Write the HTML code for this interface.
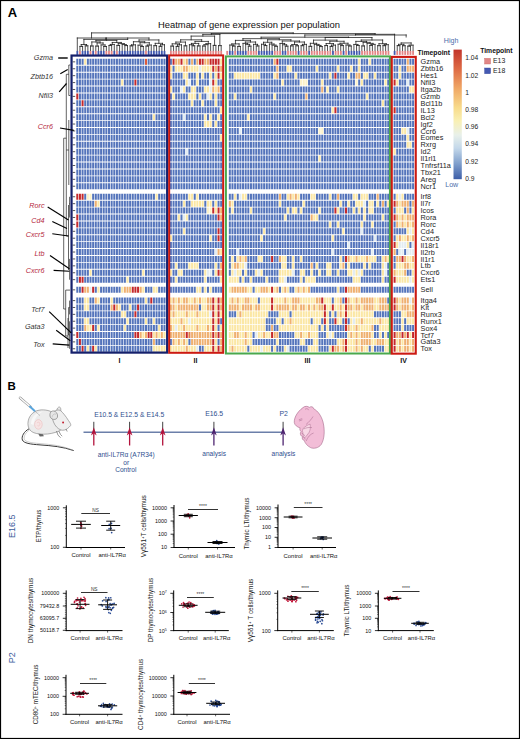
<!DOCTYPE html><html><head><meta charset="utf-8"><style>html,body{margin:0;padding:0;background:#fff;}svg{display:block;}</style></head><body>
<svg width="520" height="739" viewBox="0 0 520 739">
<rect x="0" y="0" width="520" height="739" fill="#fff"/>
<text x="7.7" y="17" font-family='"Liberation Sans", sans-serif' font-size="13" font-weight="bold" fill="#000">A</text>
<text x="158" y="28.0" font-family='"Liberation Sans", sans-serif' font-size="9" fill="#111" textLength="182" lengthAdjust="spacingAndGlyphs">Heatmap of gene expression per population</text>
<text x="119.4" y="363" font-family='"Liberation Sans", sans-serif' font-size="7" font-weight="bold" fill="#111" text-anchor="middle">I</text>
<text x="195.5" y="363" font-family='"Liberation Sans", sans-serif' font-size="7" font-weight="bold" fill="#111" text-anchor="middle">II</text>
<text x="307.5" y="363" font-family='"Liberation Sans", sans-serif' font-size="7" font-weight="bold" fill="#111" text-anchor="middle">III</text>
<text x="403.6" y="363" font-family='"Liberation Sans", sans-serif' font-size="7" font-weight="bold" fill="#111" text-anchor="middle">IV</text>
<g stroke="#1a1a1a" stroke-width="0.75" fill="none" stroke-linecap="square">
<path d="M79.94 50.6V46.42M82.58 50.6V46.42M79.94 46.42H82.58M85.23 50.6V45.82M87.87 50.6V45.82M85.23 45.82H87.87M81.26 46.42V44.51M86.55 45.82V44.51M81.26 44.51H86.55M90.51 50.6V45.99M93.15 50.6V45.99M90.51 45.99H93.15M95.79 50.6V46.08M98.44 50.6V46.08M95.79 46.08H98.44M103.72 50.6V46.49M106.36 50.6V46.49M103.72 46.49H106.36M101.08 50.6V44.92M105.04 46.49V44.92M101.08 44.92H105.04M97.11 46.08V42.96M103.06 44.92V42.96M97.11 42.96H103.06M91.83 45.99V41.96M100.09 42.96V41.96M91.83 41.96H100.09M109 50.6V45.46M111.65 50.6V45.46M109 45.46H111.65M110.32 45.46V44.46M114.29 50.6V44.46M110.32 44.46H114.29M116.93 50.6V45.43M119.57 50.6V45.43M116.93 45.43H119.57M124.86 50.6V45.57M127.5 50.6V45.57M124.86 45.57H127.5M122.21 50.6V44.57M126.18 45.57V44.57M122.21 44.57H126.18M118.25 45.43V43.57M124.2 44.57V43.57M118.25 43.57H124.2M112.31 44.46V42.46M121.22 43.57V42.46M112.31 42.46H121.22M95.96 41.96V40.42M116.76 42.46V40.42M95.96 40.42H116.76M130.14 50.6V45.83M132.78 50.6V45.83M130.14 45.83H132.78M131.46 45.83V44.83M135.42 50.6V44.83M131.46 44.83H135.42M140.71 50.6V46.53M143.35 50.6V46.53M140.71 46.53H143.35M138.07 50.6V45.18M142.03 46.53V45.18M138.07 45.18H142.03M145.99 50.6V46.09M148.63 50.6V46.09M145.99 46.09H148.63M147.31 46.09V45.05M151.28 50.6V45.05M147.31 45.05H151.28M140.05 45.18V42.73M149.29 45.05V42.73M140.05 42.73H149.29M133.44 44.83V41.72M144.67 42.73V41.72M133.44 41.72H144.67M153.92 50.6V45.65M156.56 50.6V45.65M153.92 45.65H156.56M159.2 50.6V46.31M161.84 50.6V46.31M159.2 46.31H161.84M160.52 46.31V44.74M164.49 50.6V44.74M160.52 44.74H164.49M155.24 45.65V43.33M162.5 44.74V43.33M155.24 43.33H162.5M139.06 41.72V39.94M158.87 43.33V39.94M139.06 39.94H158.87M106.36 40.42V38.01M148.96 39.94V38.01M106.36 38.01H148.96M83.91 44.51V39.4M127.66 38.01V39.4M83.91 39.4H127.66M77.3 50.6V38M105.78 39.4V38M77.3 38H105.78M170.9 50.6V46.1M173.55 50.6V46.1M170.9 46.1H173.55M176.19 50.6V46.42M178.84 50.6V46.42M176.19 46.42H178.84M177.52 46.42V44.84M181.49 50.6V44.84M177.52 44.84H181.49M172.22 46.1V43.84M179.5 44.84V43.84M172.22 43.84H179.5M184.13 50.6V45.8M186.78 50.6V45.8M184.13 45.8H186.78M175.86 43.84V42.07M185.46 45.8V42.07M175.86 42.07H185.46M192.08 50.6V45.77M194.72 50.6V45.77M192.08 45.77H194.72M189.43 50.6V44.72M193.4 45.77V44.72M189.43 44.72H193.4M197.37 50.6V45.9M200.02 50.6V45.9M197.37 45.9H200.02M191.41 44.72V43.41M198.69 45.9V43.41M191.41 43.41H198.69M202.66 50.6V46.03M205.31 50.6V46.03M202.66 46.03H205.31M203.99 46.03V44.63M207.96 50.6V44.63M203.99 44.63H207.96M205.97 44.63V43.63M210.61 50.6V43.63M205.97 43.63H210.61M195.05 43.41V41.42M208.29 43.63V41.42M195.05 41.42H208.29M180.66 42.07V39.82M201.67 41.42V39.82M180.66 39.82H201.67M213.25 50.6V45.41M215.9 50.6V45.41M213.25 45.41H215.9M191.17 39.82V36.1M214.58 45.41V36.1M191.17 36.1H214.58M218.55 50.6V45.61M221.19 50.6V45.61M218.55 45.61H221.19M202.87 36.1V34.4M219.87 45.61V34.4M202.87 34.4H219.87M232.48 50.6V46.05M235.12 50.6V46.05M232.48 46.05H235.12M229.84 50.6V45.05M233.8 46.05V45.05M229.84 45.05H233.8M237.76 50.6V46.46M240.4 50.6V46.46M237.76 46.46H240.4M231.82 45.05V43.89M239.08 46.46V43.89M231.82 43.89H239.08M248.32 50.6V46.13M250.96 50.6V46.13M248.32 46.13H250.96M245.68 50.6V44.38M249.64 46.13V44.38M245.68 44.38H249.64M243.04 50.6V43.38M247.66 44.38V43.38M243.04 43.38H247.66M256.24 50.6V45.94M258.88 50.6V45.94M256.24 45.94H258.88M253.6 50.6V44.37M257.56 45.94V44.37M253.6 44.37H257.56M245.35 43.38V42M255.58 44.37V42M245.35 42H255.58M235.45 43.89V40.39M250.46 42V40.39M235.45 40.39H250.46M264.16 50.6V45.54M266.8 50.6V45.54M264.16 45.54H266.8M261.52 50.6V44.28M265.48 45.54V44.28M261.52 44.28H265.48M274.72 50.6V46.32M277.36 50.6V46.32M274.72 46.32H277.36M272.08 50.6V45.15M276.04 46.32V45.15M272.08 45.15H276.04M269.44 50.6V44.02M274.06 45.15V44.02M269.44 44.02H274.06M263.5 44.28V42.28M271.75 44.02V42.28M263.5 42.28H271.75M285.28 50.6V46.16M287.92 50.6V46.16M285.28 46.16H287.92M282.64 50.6V44.75M286.6 46.16V44.75M282.64 44.75H286.6M280 50.6V43.46M284.62 44.75V43.46M280 43.46H284.62M290.56 50.6V45.86M293.2 50.6V45.86M290.56 45.86H293.2M295.84 50.6V45.79M298.48 50.6V45.79M295.84 45.79H298.48M291.88 45.86V44.54M297.16 45.79V44.54M291.88 44.54H297.16M301.12 50.6V45.66M303.76 50.6V45.66M301.12 45.66H303.76M302.44 45.66V44.38M306.4 50.6V44.38M302.44 44.38H306.4M294.52 44.54V42.03M304.42 44.38V42.03M294.52 42.03H304.42M282.31 43.46V41.03M299.47 42.03V41.03M282.31 41.03H299.47M267.62 42.28V39.78M290.89 41.03V39.78M267.62 39.78H290.89M242.96 40.39V38.66M279.26 39.78V38.66M242.96 38.66H279.26M309.04 50.6V46.35M311.68 50.6V46.35M309.04 46.35H311.68M319.6 50.6V46.54M322.24 50.6V46.54M319.6 46.54H322.24M316.96 50.6V45.43M320.92 46.54V45.43M316.96 45.43H320.92M314.32 50.6V44.42M318.94 45.43V44.42M314.32 44.42H318.94M310.36 46.35V43.31M316.63 44.42V43.31M310.36 43.31H316.63M324.88 50.6V45.55M327.52 50.6V45.55M324.88 45.55H327.52M330.16 50.6V46.42M332.8 50.6V46.42M330.16 46.42H332.8M331.48 46.42V45.13M335.44 50.6V45.13M331.48 45.13H335.44M326.2 45.55V43.54M333.46 45.13V43.54M326.2 43.54H333.46M340.72 50.6V45.58M343.36 50.6V45.58M340.72 45.58H343.36M338.08 50.6V44.24M342.04 45.58V44.24M338.08 44.24H342.04M348.64 50.6V46.02M351.28 50.6V46.02M348.64 46.02H351.28M346 50.6V45.02M349.96 46.02V45.02M346 45.02H349.96M340.06 44.24V43.24M347.98 45.02V43.24M340.06 43.24H347.98M329.83 43.54V41.27M344.02 43.24V41.27M329.83 41.27H344.02M313.5 43.31V40.11M336.93 41.27V40.11M313.5 40.11H336.93M356.56 50.6V45.46M359.2 50.6V45.46M356.56 45.46H359.2M353.92 50.6V44.46M357.88 45.46V44.46M353.92 44.46H357.88M361.84 50.6V45.95M364.48 50.6V45.95M361.84 45.95H364.48M369.76 50.6V45.43M372.4 50.6V45.43M369.76 45.43H372.4M371.08 45.43V44.39M375.04 50.6V44.39M371.08 44.39H375.04M367.12 50.6V43.39M373.06 44.39V43.39M367.12 43.39H373.06M363.16 45.95V42.39M370.09 43.39V42.39M363.16 42.39H370.09M355.9 44.46V41.39M366.62 42.39V41.39M355.9 41.39H366.62M377.68 50.6V45.67M380.32 50.6V45.67M377.68 45.67H380.32M382.96 50.6V45.67M385.6 50.6V45.67M382.96 45.67H385.6M384.28 45.67V44.67M388.24 50.6V44.67M384.28 44.67H388.24M379 45.67V43.67M386.26 44.67V43.67M379 43.67H386.26M361.26 41.39V40.01M382.63 43.67V40.01M361.26 40.01H382.63M325.21 40.11V37.51M371.95 40.01V37.51M325.21 37.51H371.95M261.11 38.66V37.2M348.58 37.51V37.2M261.11 37.2H348.58M397.24 50.6V45.62M399.88 50.6V45.62M397.24 45.62H399.88M402.52 50.6V45.71M405.16 50.6V45.71M402.52 45.71H405.16M398.56 45.62V44.33M403.84 45.71V44.33M398.56 44.33H403.84M407.8 50.6V46.17M410.44 50.6V46.17M407.8 46.17H410.44M409.12 46.17V45.17M413.08 50.6V45.17M409.12 45.17H413.08M401.2 44.33V42.95M411.1 45.17V42.95M401.2 42.95H411.1M304.84 37.2V35M406.15 37V35M304.84 35H406.15M355.5 35V34.3M394.6 50.6V34.3M355.5 34.3H394.6M211.37 34.4V33.6M375.05 34.3V33.6M211.37 33.6H375.05M91.54 38V32.9M293.21 33.6V32.9M91.54 32.9H293.21"/>
</g>
<g>
<rect x="76.4" y="50.9" width="1.8" height="4.0" fill="#4159b0"/>
<rect x="79.04" y="50.9" width="1.8" height="4.0" fill="#e38585"/>
<rect x="81.68" y="50.9" width="1.8" height="4.0" fill="#4159b0"/>
<rect x="84.33" y="50.9" width="1.8" height="4.0" fill="#4159b0"/>
<rect x="86.97" y="50.9" width="1.8" height="4.0" fill="#4159b0"/>
<rect x="89.61" y="50.9" width="1.8" height="4.0" fill="#e38585"/>
<rect x="92.25" y="50.9" width="1.8" height="4.0" fill="#4159b0"/>
<rect x="94.89" y="50.9" width="1.8" height="4.0" fill="#e38585"/>
<rect x="97.54" y="50.9" width="1.8" height="4.0" fill="#4159b0"/>
<rect x="100.18" y="50.9" width="1.8" height="4.0" fill="#4159b0"/>
<rect x="102.82" y="50.9" width="1.8" height="4.0" fill="#4159b0"/>
<rect x="105.46" y="50.9" width="1.8" height="4.0" fill="#e38585"/>
<rect x="108.1" y="50.9" width="1.8" height="4.0" fill="#e38585"/>
<rect x="110.75" y="50.9" width="1.8" height="4.0" fill="#e38585"/>
<rect x="113.39" y="50.9" width="1.8" height="4.0" fill="#4159b0"/>
<rect x="116.03" y="50.9" width="1.8" height="4.0" fill="#e38585"/>
<rect x="118.67" y="50.9" width="1.8" height="4.0" fill="#4159b0"/>
<rect x="121.31" y="50.9" width="1.8" height="4.0" fill="#4159b0"/>
<rect x="123.96" y="50.9" width="1.8" height="4.0" fill="#4159b0"/>
<rect x="126.6" y="50.9" width="1.8" height="4.0" fill="#4159b0"/>
<rect x="129.24" y="50.9" width="1.8" height="4.0" fill="#4159b0"/>
<rect x="131.88" y="50.9" width="1.8" height="4.0" fill="#4159b0"/>
<rect x="134.52" y="50.9" width="1.8" height="4.0" fill="#4159b0"/>
<rect x="137.17" y="50.9" width="1.8" height="4.0" fill="#4159b0"/>
<rect x="139.81" y="50.9" width="1.8" height="4.0" fill="#4159b0"/>
<rect x="142.45" y="50.9" width="1.8" height="4.0" fill="#4159b0"/>
<rect x="145.09" y="50.9" width="1.8" height="4.0" fill="#e38585"/>
<rect x="147.73" y="50.9" width="1.8" height="4.0" fill="#4159b0"/>
<rect x="150.38" y="50.9" width="1.8" height="4.0" fill="#4159b0"/>
<rect x="153.02" y="50.9" width="1.8" height="4.0" fill="#4159b0"/>
<rect x="155.66" y="50.9" width="1.8" height="4.0" fill="#4159b0"/>
<rect x="158.3" y="50.9" width="1.8" height="4.0" fill="#4159b0"/>
<rect x="160.94" y="50.9" width="1.8" height="4.0" fill="#4159b0"/>
<rect x="163.59" y="50.9" width="1.8" height="4.0" fill="#4159b0"/>
<rect x="170" y="50.9" width="1.8" height="4.0" fill="#e38585"/>
<rect x="172.65" y="50.9" width="1.8" height="4.0" fill="#e38585"/>
<rect x="175.29" y="50.9" width="1.8" height="4.0" fill="#e38585"/>
<rect x="177.94" y="50.9" width="1.8" height="4.0" fill="#e38585"/>
<rect x="180.59" y="50.9" width="1.8" height="4.0" fill="#e38585"/>
<rect x="183.23" y="50.9" width="1.8" height="4.0" fill="#e38585"/>
<rect x="185.88" y="50.9" width="1.8" height="4.0" fill="#e38585"/>
<rect x="188.53" y="50.9" width="1.8" height="4.0" fill="#e38585"/>
<rect x="191.18" y="50.9" width="1.8" height="4.0" fill="#e38585"/>
<rect x="193.82" y="50.9" width="1.8" height="4.0" fill="#e38585"/>
<rect x="196.47" y="50.9" width="1.8" height="4.0" fill="#e38585"/>
<rect x="199.12" y="50.9" width="1.8" height="4.0" fill="#e38585"/>
<rect x="201.76" y="50.9" width="1.8" height="4.0" fill="#e38585"/>
<rect x="204.41" y="50.9" width="1.8" height="4.0" fill="#e38585"/>
<rect x="207.06" y="50.9" width="1.8" height="4.0" fill="#e38585"/>
<rect x="209.71" y="50.9" width="1.8" height="4.0" fill="#e38585"/>
<rect x="212.35" y="50.9" width="1.8" height="4.0" fill="#e38585"/>
<rect x="215" y="50.9" width="1.8" height="4.0" fill="#e38585"/>
<rect x="217.65" y="50.9" width="1.8" height="4.0" fill="#e38585"/>
<rect x="220.29" y="50.9" width="1.8" height="4.0" fill="#e38585"/>
<rect x="226.3" y="50.9" width="1.8" height="4.0" fill="#e38585"/>
<rect x="228.94" y="50.9" width="1.8" height="4.0" fill="#4159b0"/>
<rect x="231.59" y="50.9" width="1.8" height="4.0" fill="#4159b0"/>
<rect x="234.23" y="50.9" width="1.8" height="4.0" fill="#e38585"/>
<rect x="236.88" y="50.9" width="1.8" height="4.0" fill="#4159b0"/>
<rect x="239.52" y="50.9" width="1.8" height="4.0" fill="#4159b0"/>
<rect x="242.16" y="50.9" width="1.8" height="4.0" fill="#4159b0"/>
<rect x="244.81" y="50.9" width="1.8" height="4.0" fill="#4159b0"/>
<rect x="247.45" y="50.9" width="1.8" height="4.0" fill="#e38585"/>
<rect x="250.1" y="50.9" width="1.8" height="4.0" fill="#e38585"/>
<rect x="252.74" y="50.9" width="1.8" height="4.0" fill="#e38585"/>
<rect x="255.38" y="50.9" width="1.8" height="4.0" fill="#e38585"/>
<rect x="258.03" y="50.9" width="1.8" height="4.0" fill="#4159b0"/>
<rect x="260.67" y="50.9" width="1.8" height="4.0" fill="#4159b0"/>
<rect x="263.32" y="50.9" width="1.8" height="4.0" fill="#4159b0"/>
<rect x="265.96" y="50.9" width="1.8" height="4.0" fill="#4159b0"/>
<rect x="268.6" y="50.9" width="1.8" height="4.0" fill="#4159b0"/>
<rect x="271.25" y="50.9" width="1.8" height="4.0" fill="#4159b0"/>
<rect x="273.89" y="50.9" width="1.8" height="4.0" fill="#e38585"/>
<rect x="276.54" y="50.9" width="1.8" height="4.0" fill="#e38585"/>
<rect x="279.18" y="50.9" width="1.8" height="4.0" fill="#e38585"/>
<rect x="281.82" y="50.9" width="1.8" height="4.0" fill="#4159b0"/>
<rect x="284.47" y="50.9" width="1.8" height="4.0" fill="#4159b0"/>
<rect x="287.11" y="50.9" width="1.8" height="4.0" fill="#e38585"/>
<rect x="289.76" y="50.9" width="1.8" height="4.0" fill="#e38585"/>
<rect x="292.4" y="50.9" width="1.8" height="4.0" fill="#e38585"/>
<rect x="295.04" y="50.9" width="1.8" height="4.0" fill="#e38585"/>
<rect x="297.69" y="50.9" width="1.8" height="4.0" fill="#4159b0"/>
<rect x="300.33" y="50.9" width="1.8" height="4.0" fill="#e38585"/>
<rect x="302.98" y="50.9" width="1.8" height="4.0" fill="#e38585"/>
<rect x="305.62" y="50.9" width="1.8" height="4.0" fill="#e38585"/>
<rect x="308.26" y="50.9" width="1.8" height="4.0" fill="#4159b0"/>
<rect x="310.91" y="50.9" width="1.8" height="4.0" fill="#e38585"/>
<rect x="313.55" y="50.9" width="1.8" height="4.0" fill="#e38585"/>
<rect x="316.2" y="50.9" width="1.8" height="4.0" fill="#e38585"/>
<rect x="318.84" y="50.9" width="1.8" height="4.0" fill="#e38585"/>
<rect x="321.48" y="50.9" width="1.8" height="4.0" fill="#e38585"/>
<rect x="324.13" y="50.9" width="1.8" height="4.0" fill="#e38585"/>
<rect x="326.77" y="50.9" width="1.8" height="4.0" fill="#e38585"/>
<rect x="329.42" y="50.9" width="1.8" height="4.0" fill="#e38585"/>
<rect x="332.06" y="50.9" width="1.8" height="4.0" fill="#4159b0"/>
<rect x="334.7" y="50.9" width="1.8" height="4.0" fill="#e38585"/>
<rect x="337.35" y="50.9" width="1.8" height="4.0" fill="#e38585"/>
<rect x="339.99" y="50.9" width="1.8" height="4.0" fill="#e38585"/>
<rect x="342.64" y="50.9" width="1.8" height="4.0" fill="#4159b0"/>
<rect x="345.28" y="50.9" width="1.8" height="4.0" fill="#e38585"/>
<rect x="347.92" y="50.9" width="1.8" height="4.0" fill="#4159b0"/>
<rect x="350.57" y="50.9" width="1.8" height="4.0" fill="#4159b0"/>
<rect x="353.21" y="50.9" width="1.8" height="4.0" fill="#4159b0"/>
<rect x="355.86" y="50.9" width="1.8" height="4.0" fill="#4159b0"/>
<rect x="358.5" y="50.9" width="1.8" height="4.0" fill="#4159b0"/>
<rect x="361.14" y="50.9" width="1.8" height="4.0" fill="#e38585"/>
<rect x="363.79" y="50.9" width="1.8" height="4.0" fill="#e38585"/>
<rect x="366.43" y="50.9" width="1.8" height="4.0" fill="#e38585"/>
<rect x="369.08" y="50.9" width="1.8" height="4.0" fill="#e38585"/>
<rect x="371.72" y="50.9" width="1.8" height="4.0" fill="#e38585"/>
<rect x="374.36" y="50.9" width="1.8" height="4.0" fill="#e38585"/>
<rect x="377.01" y="50.9" width="1.8" height="4.0" fill="#e38585"/>
<rect x="379.65" y="50.9" width="1.8" height="4.0" fill="#e38585"/>
<rect x="382.3" y="50.9" width="1.8" height="4.0" fill="#e38585"/>
<rect x="384.94" y="50.9" width="1.8" height="4.0" fill="#e38585"/>
<rect x="387.58" y="50.9" width="1.8" height="4.0" fill="#e38585"/>
<rect x="393.7" y="50.9" width="1.8" height="4.0" fill="#4159b0"/>
<rect x="396.34" y="50.9" width="1.8" height="4.0" fill="#e38585"/>
<rect x="398.98" y="50.9" width="1.8" height="4.0" fill="#e38585"/>
<rect x="401.62" y="50.9" width="1.8" height="4.0" fill="#e38585"/>
<rect x="404.26" y="50.9" width="1.8" height="4.0" fill="#e38585"/>
<rect x="406.9" y="50.9" width="1.8" height="4.0" fill="#e38585"/>
<rect x="409.54" y="50.9" width="1.8" height="4.0" fill="#e38585"/>
<rect x="412.18" y="50.9" width="1.8" height="4.0" fill="#e38585"/>
</g>
<g>
<path fill="#5474bb" d="M76.3 58.85h2v6h-2zM78.94 58.85h2v6h-2zM81.58 58.85h2v6h-2zM86.87 58.85h2v6h-2zM89.51 58.85h2v6h-2zM92.15 58.85h2v6h-2zM94.79 58.85h2v6h-2zM97.44 58.85h2v6h-2zM100.08 58.85h2v6h-2zM102.72 58.85h2v6h-2zM105.36 58.85h2v6h-2zM108 58.85h2v6h-2zM110.65 58.85h2v6h-2zM113.29 58.85h2v6h-2zM115.93 58.85h2v6h-2zM118.57 58.85h2v6h-2zM121.21 58.85h2v6h-2zM123.86 58.85h2v6h-2zM126.5 58.85h2v6h-2zM129.14 58.85h2v6h-2zM131.78 58.85h2v6h-2zM134.42 58.85h2v6h-2zM137.07 58.85h2v6h-2zM139.71 58.85h2v6h-2zM142.35 58.85h2v6h-2zM147.63 58.85h2v6h-2zM150.28 58.85h2v6h-2zM152.92 58.85h2v6h-2zM155.56 58.85h2v6h-2zM158.2 58.85h2v6h-2zM160.84 58.85h2v6h-2zM163.49 58.85h2v6h-2zM76.3 65.76h2v6h-2zM78.94 65.76h2v6h-2zM81.58 65.76h2v6h-2zM84.23 65.76h2v6h-2zM86.87 65.76h2v6h-2zM89.51 65.76h2v6h-2zM92.15 65.76h2v6h-2zM94.79 65.76h2v6h-2zM97.44 65.76h2v6h-2zM100.08 65.76h2v6h-2zM102.72 65.76h2v6h-2zM105.36 65.76h2v6h-2zM108 65.76h2v6h-2zM110.65 65.76h2v6h-2zM113.29 65.76h2v6h-2zM115.93 65.76h2v6h-2zM118.57 65.76h2v6h-2zM121.21 65.76h2v6h-2zM123.86 65.76h2v6h-2zM126.5 65.76h2v6h-2zM129.14 65.76h2v6h-2zM131.78 65.76h2v6h-2zM134.42 65.76h2v6h-2zM137.07 65.76h2v6h-2zM139.71 65.76h2v6h-2zM142.35 65.76h2v6h-2zM144.99 65.76h2v6h-2zM147.63 65.76h2v6h-2zM150.28 65.76h2v6h-2zM152.92 65.76h2v6h-2zM155.56 65.76h2v6h-2zM158.2 65.76h2v6h-2zM160.84 65.76h2v6h-2zM163.49 65.76h2v6h-2zM76.3 72.67h2v6h-2zM78.94 72.67h2v6h-2zM81.58 72.67h2v6h-2zM84.23 72.67h2v6h-2zM86.87 72.67h2v6h-2zM89.51 72.67h2v6h-2zM92.15 72.67h2v6h-2zM94.79 72.67h2v6h-2zM97.44 72.67h2v6h-2zM100.08 72.67h2v6h-2zM102.72 72.67h2v6h-2zM105.36 72.67h2v6h-2zM108 72.67h2v6h-2zM110.65 72.67h2v6h-2zM113.29 72.67h2v6h-2zM115.93 72.67h2v6h-2zM118.57 72.67h2v6h-2zM121.21 72.67h2v6h-2zM123.86 72.67h2v6h-2zM126.5 72.67h2v6h-2zM129.14 72.67h2v6h-2zM131.78 72.67h2v6h-2zM134.42 72.67h2v6h-2zM137.07 72.67h2v6h-2zM139.71 72.67h2v6h-2zM142.35 72.67h2v6h-2zM144.99 72.67h2v6h-2zM147.63 72.67h2v6h-2zM150.28 72.67h2v6h-2zM152.92 72.67h2v6h-2zM155.56 72.67h2v6h-2zM158.2 72.67h2v6h-2zM160.84 72.67h2v6h-2zM163.49 72.67h2v6h-2zM76.3 79.58h2v6h-2zM78.94 79.58h2v6h-2zM81.58 79.58h2v6h-2zM84.23 79.58h2v6h-2zM86.87 79.58h2v6h-2zM89.51 79.58h2v6h-2zM92.15 79.58h2v6h-2zM94.79 79.58h2v6h-2zM97.44 79.58h2v6h-2zM100.08 79.58h2v6h-2zM102.72 79.58h2v6h-2zM105.36 79.58h2v6h-2zM108 79.58h2v6h-2zM110.65 79.58h2v6h-2zM113.29 79.58h2v6h-2zM115.93 79.58h2v6h-2zM118.57 79.58h2v6h-2zM123.86 79.58h2v6h-2zM126.5 79.58h2v6h-2zM129.14 79.58h2v6h-2zM131.78 79.58h2v6h-2zM137.07 79.58h2v6h-2zM139.71 79.58h2v6h-2zM142.35 79.58h2v6h-2zM144.99 79.58h2v6h-2zM147.63 79.58h2v6h-2zM150.28 79.58h2v6h-2zM152.92 79.58h2v6h-2zM155.56 79.58h2v6h-2zM158.2 79.58h2v6h-2zM160.84 79.58h2v6h-2zM163.49 79.58h2v6h-2zM76.3 86.49h2v6h-2zM78.94 86.49h2v6h-2zM81.58 86.49h2v6h-2zM84.23 86.49h2v6h-2zM86.87 86.49h2v6h-2zM89.51 86.49h2v6h-2zM92.15 86.49h2v6h-2zM94.79 86.49h2v6h-2zM97.44 86.49h2v6h-2zM100.08 86.49h2v6h-2zM102.72 86.49h2v6h-2zM105.36 86.49h2v6h-2zM108 86.49h2v6h-2zM110.65 86.49h2v6h-2zM113.29 86.49h2v6h-2zM115.93 86.49h2v6h-2zM118.57 86.49h2v6h-2zM121.21 86.49h2v6h-2zM123.86 86.49h2v6h-2zM126.5 86.49h2v6h-2zM129.14 86.49h2v6h-2zM131.78 86.49h2v6h-2zM134.42 86.49h2v6h-2zM137.07 86.49h2v6h-2zM139.71 86.49h2v6h-2zM142.35 86.49h2v6h-2zM144.99 86.49h2v6h-2zM147.63 86.49h2v6h-2zM150.28 86.49h2v6h-2zM152.92 86.49h2v6h-2zM155.56 86.49h2v6h-2zM158.2 86.49h2v6h-2zM160.84 86.49h2v6h-2zM163.49 86.49h2v6h-2zM78.94 93.4h2v6h-2zM81.58 93.4h2v6h-2zM84.23 93.4h2v6h-2zM86.87 93.4h2v6h-2zM89.51 93.4h2v6h-2zM92.15 93.4h2v6h-2zM94.79 93.4h2v6h-2zM97.44 93.4h2v6h-2zM100.08 93.4h2v6h-2zM102.72 93.4h2v6h-2zM105.36 93.4h2v6h-2zM108 93.4h2v6h-2zM110.65 93.4h2v6h-2zM113.29 93.4h2v6h-2zM115.93 93.4h2v6h-2zM118.57 93.4h2v6h-2zM121.21 93.4h2v6h-2zM123.86 93.4h2v6h-2zM126.5 93.4h2v6h-2zM129.14 93.4h2v6h-2zM131.78 93.4h2v6h-2zM134.42 93.4h2v6h-2zM137.07 93.4h2v6h-2zM139.71 93.4h2v6h-2zM142.35 93.4h2v6h-2zM144.99 93.4h2v6h-2zM147.63 93.4h2v6h-2zM150.28 93.4h2v6h-2zM152.92 93.4h2v6h-2zM155.56 93.4h2v6h-2zM158.2 93.4h2v6h-2zM160.84 93.4h2v6h-2zM163.49 93.4h2v6h-2zM76.3 100.31h2v6h-2zM78.94 100.31h2v6h-2zM84.23 100.31h2v6h-2zM86.87 100.31h2v6h-2zM89.51 100.31h2v6h-2zM92.15 100.31h2v6h-2zM94.79 100.31h2v6h-2zM97.44 100.31h2v6h-2zM100.08 100.31h2v6h-2zM102.72 100.31h2v6h-2zM105.36 100.31h2v6h-2zM108 100.31h2v6h-2zM110.65 100.31h2v6h-2zM113.29 100.31h2v6h-2zM115.93 100.31h2v6h-2zM118.57 100.31h2v6h-2zM121.21 100.31h2v6h-2zM123.86 100.31h2v6h-2zM126.5 100.31h2v6h-2zM129.14 100.31h2v6h-2zM131.78 100.31h2v6h-2zM134.42 100.31h2v6h-2zM137.07 100.31h2v6h-2zM139.71 100.31h2v6h-2zM142.35 100.31h2v6h-2zM144.99 100.31h2v6h-2zM147.63 100.31h2v6h-2zM150.28 100.31h2v6h-2zM152.92 100.31h2v6h-2zM155.56 100.31h2v6h-2zM158.2 100.31h2v6h-2zM160.84 100.31h2v6h-2zM163.49 100.31h2v6h-2zM76.3 107.22h2v6h-2zM78.94 107.22h2v6h-2zM81.58 107.22h2v6h-2zM84.23 107.22h2v6h-2zM86.87 107.22h2v6h-2zM89.51 107.22h2v6h-2zM92.15 107.22h2v6h-2zM94.79 107.22h2v6h-2zM97.44 107.22h2v6h-2zM100.08 107.22h2v6h-2zM102.72 107.22h2v6h-2zM105.36 107.22h2v6h-2zM108 107.22h2v6h-2zM110.65 107.22h2v6h-2zM113.29 107.22h2v6h-2zM115.93 107.22h2v6h-2zM118.57 107.22h2v6h-2zM121.21 107.22h2v6h-2zM123.86 107.22h2v6h-2zM126.5 107.22h2v6h-2zM129.14 107.22h2v6h-2zM131.78 107.22h2v6h-2zM134.42 107.22h2v6h-2zM137.07 107.22h2v6h-2zM139.71 107.22h2v6h-2zM142.35 107.22h2v6h-2zM144.99 107.22h2v6h-2zM147.63 107.22h2v6h-2zM150.28 107.22h2v6h-2zM152.92 107.22h2v6h-2zM155.56 107.22h2v6h-2zM158.2 107.22h2v6h-2zM160.84 107.22h2v6h-2zM163.49 107.22h2v6h-2zM76.3 114.13h2v6h-2zM78.94 114.13h2v6h-2zM81.58 114.13h2v6h-2zM84.23 114.13h2v6h-2zM86.87 114.13h2v6h-2zM89.51 114.13h2v6h-2zM92.15 114.13h2v6h-2zM94.79 114.13h2v6h-2zM97.44 114.13h2v6h-2zM100.08 114.13h2v6h-2zM102.72 114.13h2v6h-2zM105.36 114.13h2v6h-2zM108 114.13h2v6h-2zM110.65 114.13h2v6h-2zM113.29 114.13h2v6h-2zM115.93 114.13h2v6h-2zM118.57 114.13h2v6h-2zM121.21 114.13h2v6h-2zM123.86 114.13h2v6h-2zM126.5 114.13h2v6h-2zM129.14 114.13h2v6h-2zM131.78 114.13h2v6h-2zM134.42 114.13h2v6h-2zM137.07 114.13h2v6h-2zM139.71 114.13h2v6h-2zM142.35 114.13h2v6h-2zM144.99 114.13h2v6h-2zM147.63 114.13h2v6h-2zM150.28 114.13h2v6h-2zM155.56 114.13h2v6h-2zM158.2 114.13h2v6h-2zM160.84 114.13h2v6h-2zM163.49 114.13h2v6h-2zM76.3 121.04h2v6h-2zM78.94 121.04h2v6h-2zM81.58 121.04h2v6h-2zM84.23 121.04h2v6h-2zM86.87 121.04h2v6h-2zM89.51 121.04h2v6h-2zM92.15 121.04h2v6h-2zM94.79 121.04h2v6h-2zM97.44 121.04h2v6h-2zM100.08 121.04h2v6h-2zM102.72 121.04h2v6h-2zM105.36 121.04h2v6h-2zM108 121.04h2v6h-2zM110.65 121.04h2v6h-2zM113.29 121.04h2v6h-2zM115.93 121.04h2v6h-2zM118.57 121.04h2v6h-2zM121.21 121.04h2v6h-2zM123.86 121.04h2v6h-2zM126.5 121.04h2v6h-2zM129.14 121.04h2v6h-2zM131.78 121.04h2v6h-2zM134.42 121.04h2v6h-2zM137.07 121.04h2v6h-2zM139.71 121.04h2v6h-2zM142.35 121.04h2v6h-2zM144.99 121.04h2v6h-2zM147.63 121.04h2v6h-2zM150.28 121.04h2v6h-2zM152.92 121.04h2v6h-2zM155.56 121.04h2v6h-2zM158.2 121.04h2v6h-2zM160.84 121.04h2v6h-2zM163.49 121.04h2v6h-2zM76.3 127.95h2v6h-2zM78.94 127.95h2v6h-2zM81.58 127.95h2v6h-2zM84.23 127.95h2v6h-2zM86.87 127.95h2v6h-2zM89.51 127.95h2v6h-2zM92.15 127.95h2v6h-2zM94.79 127.95h2v6h-2zM97.44 127.95h2v6h-2zM100.08 127.95h2v6h-2zM102.72 127.95h2v6h-2zM105.36 127.95h2v6h-2zM108 127.95h2v6h-2zM110.65 127.95h2v6h-2zM113.29 127.95h2v6h-2zM115.93 127.95h2v6h-2zM118.57 127.95h2v6h-2zM121.21 127.95h2v6h-2zM123.86 127.95h2v6h-2zM126.5 127.95h2v6h-2zM129.14 127.95h2v6h-2zM131.78 127.95h2v6h-2zM134.42 127.95h2v6h-2zM137.07 127.95h2v6h-2zM139.71 127.95h2v6h-2zM142.35 127.95h2v6h-2zM144.99 127.95h2v6h-2zM147.63 127.95h2v6h-2zM150.28 127.95h2v6h-2zM152.92 127.95h2v6h-2zM155.56 127.95h2v6h-2zM158.2 127.95h2v6h-2zM160.84 127.95h2v6h-2zM163.49 127.95h2v6h-2zM76.3 134.86h2v6h-2zM78.94 134.86h2v6h-2zM81.58 134.86h2v6h-2zM84.23 134.86h2v6h-2zM86.87 134.86h2v6h-2zM89.51 134.86h2v6h-2zM92.15 134.86h2v6h-2zM94.79 134.86h2v6h-2zM97.44 134.86h2v6h-2zM100.08 134.86h2v6h-2zM102.72 134.86h2v6h-2zM105.36 134.86h2v6h-2zM108 134.86h2v6h-2zM110.65 134.86h2v6h-2zM113.29 134.86h2v6h-2zM115.93 134.86h2v6h-2zM118.57 134.86h2v6h-2zM121.21 134.86h2v6h-2zM123.86 134.86h2v6h-2zM126.5 134.86h2v6h-2zM129.14 134.86h2v6h-2zM131.78 134.86h2v6h-2zM134.42 134.86h2v6h-2zM137.07 134.86h2v6h-2zM139.71 134.86h2v6h-2zM142.35 134.86h2v6h-2zM144.99 134.86h2v6h-2zM147.63 134.86h2v6h-2zM150.28 134.86h2v6h-2zM152.92 134.86h2v6h-2zM155.56 134.86h2v6h-2zM158.2 134.86h2v6h-2zM160.84 134.86h2v6h-2zM163.49 134.86h2v6h-2zM76.3 141.77h2v6h-2zM78.94 141.77h2v6h-2zM81.58 141.77h2v6h-2zM84.23 141.77h2v6h-2zM86.87 141.77h2v6h-2zM89.51 141.77h2v6h-2zM92.15 141.77h2v6h-2zM94.79 141.77h2v6h-2zM97.44 141.77h2v6h-2zM100.08 141.77h2v6h-2zM102.72 141.77h2v6h-2zM105.36 141.77h2v6h-2zM108 141.77h2v6h-2zM110.65 141.77h2v6h-2zM113.29 141.77h2v6h-2zM115.93 141.77h2v6h-2zM118.57 141.77h2v6h-2zM121.21 141.77h2v6h-2zM123.86 141.77h2v6h-2zM126.5 141.77h2v6h-2zM129.14 141.77h2v6h-2zM131.78 141.77h2v6h-2zM134.42 141.77h2v6h-2zM137.07 141.77h2v6h-2zM139.71 141.77h2v6h-2zM142.35 141.77h2v6h-2zM144.99 141.77h2v6h-2zM147.63 141.77h2v6h-2zM150.28 141.77h2v6h-2zM152.92 141.77h2v6h-2zM155.56 141.77h2v6h-2zM158.2 141.77h2v6h-2zM160.84 141.77h2v6h-2zM163.49 141.77h2v6h-2zM76.3 148.68h2v6h-2zM78.94 148.68h2v6h-2zM81.58 148.68h2v6h-2zM84.23 148.68h2v6h-2zM86.87 148.68h2v6h-2zM89.51 148.68h2v6h-2zM92.15 148.68h2v6h-2zM94.79 148.68h2v6h-2zM97.44 148.68h2v6h-2zM100.08 148.68h2v6h-2zM102.72 148.68h2v6h-2zM105.36 148.68h2v6h-2zM108 148.68h2v6h-2zM110.65 148.68h2v6h-2zM113.29 148.68h2v6h-2zM115.93 148.68h2v6h-2zM118.57 148.68h2v6h-2zM121.21 148.68h2v6h-2zM123.86 148.68h2v6h-2zM126.5 148.68h2v6h-2zM129.14 148.68h2v6h-2zM131.78 148.68h2v6h-2zM134.42 148.68h2v6h-2zM137.07 148.68h2v6h-2zM139.71 148.68h2v6h-2zM142.35 148.68h2v6h-2zM144.99 148.68h2v6h-2zM147.63 148.68h2v6h-2zM150.28 148.68h2v6h-2zM152.92 148.68h2v6h-2zM155.56 148.68h2v6h-2zM158.2 148.68h2v6h-2zM160.84 148.68h2v6h-2zM163.49 148.68h2v6h-2zM76.3 155.59h2v6h-2zM78.94 155.59h2v6h-2zM81.58 155.59h2v6h-2zM84.23 155.59h2v6h-2zM86.87 155.59h2v6h-2zM89.51 155.59h2v6h-2zM92.15 155.59h2v6h-2zM94.79 155.59h2v6h-2zM97.44 155.59h2v6h-2zM100.08 155.59h2v6h-2zM102.72 155.59h2v6h-2zM105.36 155.59h2v6h-2zM108 155.59h2v6h-2zM110.65 155.59h2v6h-2zM113.29 155.59h2v6h-2zM115.93 155.59h2v6h-2zM118.57 155.59h2v6h-2zM121.21 155.59h2v6h-2zM123.86 155.59h2v6h-2zM126.5 155.59h2v6h-2zM129.14 155.59h2v6h-2zM131.78 155.59h2v6h-2zM134.42 155.59h2v6h-2zM137.07 155.59h2v6h-2zM139.71 155.59h2v6h-2zM142.35 155.59h2v6h-2zM144.99 155.59h2v6h-2zM147.63 155.59h2v6h-2zM150.28 155.59h2v6h-2zM152.92 155.59h2v6h-2zM155.56 155.59h2v6h-2zM158.2 155.59h2v6h-2zM160.84 155.59h2v6h-2zM163.49 155.59h2v6h-2zM76.3 162.5h2v6h-2zM78.94 162.5h2v6h-2zM81.58 162.5h2v6h-2zM84.23 162.5h2v6h-2zM86.87 162.5h2v6h-2zM89.51 162.5h2v6h-2zM92.15 162.5h2v6h-2zM94.79 162.5h2v6h-2zM97.44 162.5h2v6h-2zM100.08 162.5h2v6h-2zM102.72 162.5h2v6h-2zM105.36 162.5h2v6h-2zM108 162.5h2v6h-2zM110.65 162.5h2v6h-2zM113.29 162.5h2v6h-2zM115.93 162.5h2v6h-2zM118.57 162.5h2v6h-2zM121.21 162.5h2v6h-2zM123.86 162.5h2v6h-2zM126.5 162.5h2v6h-2zM129.14 162.5h2v6h-2zM131.78 162.5h2v6h-2zM134.42 162.5h2v6h-2zM137.07 162.5h2v6h-2zM139.71 162.5h2v6h-2zM142.35 162.5h2v6h-2zM144.99 162.5h2v6h-2zM147.63 162.5h2v6h-2zM150.28 162.5h2v6h-2zM152.92 162.5h2v6h-2zM155.56 162.5h2v6h-2zM158.2 162.5h2v6h-2zM160.84 162.5h2v6h-2zM163.49 162.5h2v6h-2zM76.3 169.41h2v6h-2zM78.94 169.41h2v6h-2zM81.58 169.41h2v6h-2zM84.23 169.41h2v6h-2zM86.87 169.41h2v6h-2zM89.51 169.41h2v6h-2zM92.15 169.41h2v6h-2zM94.79 169.41h2v6h-2zM97.44 169.41h2v6h-2zM100.08 169.41h2v6h-2zM102.72 169.41h2v6h-2zM105.36 169.41h2v6h-2zM108 169.41h2v6h-2zM110.65 169.41h2v6h-2zM113.29 169.41h2v6h-2zM115.93 169.41h2v6h-2zM118.57 169.41h2v6h-2zM121.21 169.41h2v6h-2zM123.86 169.41h2v6h-2zM126.5 169.41h2v6h-2zM129.14 169.41h2v6h-2zM131.78 169.41h2v6h-2zM134.42 169.41h2v6h-2zM137.07 169.41h2v6h-2zM139.71 169.41h2v6h-2zM142.35 169.41h2v6h-2zM144.99 169.41h2v6h-2zM147.63 169.41h2v6h-2zM150.28 169.41h2v6h-2zM152.92 169.41h2v6h-2zM155.56 169.41h2v6h-2zM158.2 169.41h2v6h-2zM160.84 169.41h2v6h-2zM163.49 169.41h2v6h-2zM76.3 176.32h2v6h-2zM78.94 176.32h2v6h-2zM81.58 176.32h2v6h-2zM84.23 176.32h2v6h-2zM86.87 176.32h2v6h-2zM89.51 176.32h2v6h-2zM92.15 176.32h2v6h-2zM94.79 176.32h2v6h-2zM97.44 176.32h2v6h-2zM100.08 176.32h2v6h-2zM102.72 176.32h2v6h-2zM105.36 176.32h2v6h-2zM108 176.32h2v6h-2zM110.65 176.32h2v6h-2zM113.29 176.32h2v6h-2zM115.93 176.32h2v6h-2zM118.57 176.32h2v6h-2zM121.21 176.32h2v6h-2zM123.86 176.32h2v6h-2zM126.5 176.32h2v6h-2zM129.14 176.32h2v6h-2zM131.78 176.32h2v6h-2zM134.42 176.32h2v6h-2zM137.07 176.32h2v6h-2zM139.71 176.32h2v6h-2zM142.35 176.32h2v6h-2zM144.99 176.32h2v6h-2zM147.63 176.32h2v6h-2zM150.28 176.32h2v6h-2zM152.92 176.32h2v6h-2zM155.56 176.32h2v6h-2zM158.2 176.32h2v6h-2zM160.84 176.32h2v6h-2zM163.49 176.32h2v6h-2zM76.3 183.23h2v6h-2zM78.94 183.23h2v6h-2zM81.58 183.23h2v6h-2zM84.23 183.23h2v6h-2zM86.87 183.23h2v6h-2zM89.51 183.23h2v6h-2zM92.15 183.23h2v6h-2zM94.79 183.23h2v6h-2zM97.44 183.23h2v6h-2zM100.08 183.23h2v6h-2zM102.72 183.23h2v6h-2zM105.36 183.23h2v6h-2zM108 183.23h2v6h-2zM110.65 183.23h2v6h-2zM113.29 183.23h2v6h-2zM115.93 183.23h2v6h-2zM118.57 183.23h2v6h-2zM121.21 183.23h2v6h-2zM123.86 183.23h2v6h-2zM126.5 183.23h2v6h-2zM129.14 183.23h2v6h-2zM131.78 183.23h2v6h-2zM134.42 183.23h2v6h-2zM137.07 183.23h2v6h-2zM139.71 183.23h2v6h-2zM142.35 183.23h2v6h-2zM144.99 183.23h2v6h-2zM147.63 183.23h2v6h-2zM150.28 183.23h2v6h-2zM152.92 183.23h2v6h-2zM155.56 183.23h2v6h-2zM158.2 183.23h2v6h-2zM160.84 183.23h2v6h-2zM163.49 183.23h2v6h-2zM84.23 193.75h2v6h-2zM92.15 193.75h2v6h-2zM94.79 193.75h2v6h-2zM97.44 193.75h2v6h-2zM100.08 193.75h2v6h-2zM102.72 193.75h2v6h-2zM105.36 193.75h2v6h-2zM108 193.75h2v6h-2zM110.65 193.75h2v6h-2zM113.29 193.75h2v6h-2zM115.93 193.75h2v6h-2zM118.57 193.75h2v6h-2zM121.21 193.75h2v6h-2zM123.86 193.75h2v6h-2zM126.5 193.75h2v6h-2zM129.14 193.75h2v6h-2zM131.78 193.75h2v6h-2zM134.42 193.75h2v6h-2zM137.07 193.75h2v6h-2zM139.71 193.75h2v6h-2zM142.35 193.75h2v6h-2zM144.99 193.75h2v6h-2zM147.63 193.75h2v6h-2zM150.28 193.75h2v6h-2zM152.92 193.75h2v6h-2zM158.2 193.75h2v6h-2zM160.84 193.75h2v6h-2zM163.49 193.75h2v6h-2zM76.3 200.66h2v6h-2zM78.94 200.66h2v6h-2zM81.58 200.66h2v6h-2zM84.23 200.66h2v6h-2zM86.87 200.66h2v6h-2zM89.51 200.66h2v6h-2zM92.15 200.66h2v6h-2zM100.08 200.66h2v6h-2zM102.72 200.66h2v6h-2zM105.36 200.66h2v6h-2zM108 200.66h2v6h-2zM110.65 200.66h2v6h-2zM113.29 200.66h2v6h-2zM115.93 200.66h2v6h-2zM118.57 200.66h2v6h-2zM121.21 200.66h2v6h-2zM123.86 200.66h2v6h-2zM126.5 200.66h2v6h-2zM129.14 200.66h2v6h-2zM131.78 200.66h2v6h-2zM134.42 200.66h2v6h-2zM137.07 200.66h2v6h-2zM139.71 200.66h2v6h-2zM142.35 200.66h2v6h-2zM144.99 200.66h2v6h-2zM147.63 200.66h2v6h-2zM150.28 200.66h2v6h-2zM152.92 200.66h2v6h-2zM155.56 200.66h2v6h-2zM158.2 200.66h2v6h-2zM160.84 200.66h2v6h-2zM163.49 200.66h2v6h-2zM76.3 207.57h2v6h-2zM78.94 207.57h2v6h-2zM81.58 207.57h2v6h-2zM84.23 207.57h2v6h-2zM86.87 207.57h2v6h-2zM89.51 207.57h2v6h-2zM92.15 207.57h2v6h-2zM94.79 207.57h2v6h-2zM97.44 207.57h2v6h-2zM100.08 207.57h2v6h-2zM102.72 207.57h2v6h-2zM105.36 207.57h2v6h-2zM108 207.57h2v6h-2zM110.65 207.57h2v6h-2zM113.29 207.57h2v6h-2zM115.93 207.57h2v6h-2zM118.57 207.57h2v6h-2zM121.21 207.57h2v6h-2zM123.86 207.57h2v6h-2zM126.5 207.57h2v6h-2zM129.14 207.57h2v6h-2zM131.78 207.57h2v6h-2zM134.42 207.57h2v6h-2zM137.07 207.57h2v6h-2zM139.71 207.57h2v6h-2zM142.35 207.57h2v6h-2zM144.99 207.57h2v6h-2zM147.63 207.57h2v6h-2zM150.28 207.57h2v6h-2zM152.92 207.57h2v6h-2zM155.56 207.57h2v6h-2zM158.2 207.57h2v6h-2zM160.84 207.57h2v6h-2zM163.49 207.57h2v6h-2zM78.94 214.48h2v6h-2zM81.58 214.48h2v6h-2zM84.23 214.48h2v6h-2zM86.87 214.48h2v6h-2zM89.51 214.48h2v6h-2zM92.15 214.48h2v6h-2zM94.79 214.48h2v6h-2zM97.44 214.48h2v6h-2zM100.08 214.48h2v6h-2zM102.72 214.48h2v6h-2zM105.36 214.48h2v6h-2zM108 214.48h2v6h-2zM110.65 214.48h2v6h-2zM113.29 214.48h2v6h-2zM115.93 214.48h2v6h-2zM118.57 214.48h2v6h-2zM121.21 214.48h2v6h-2zM123.86 214.48h2v6h-2zM126.5 214.48h2v6h-2zM129.14 214.48h2v6h-2zM131.78 214.48h2v6h-2zM134.42 214.48h2v6h-2zM137.07 214.48h2v6h-2zM139.71 214.48h2v6h-2zM142.35 214.48h2v6h-2zM144.99 214.48h2v6h-2zM147.63 214.48h2v6h-2zM150.28 214.48h2v6h-2zM152.92 214.48h2v6h-2zM155.56 214.48h2v6h-2zM158.2 214.48h2v6h-2zM160.84 214.48h2v6h-2zM163.49 214.48h2v6h-2zM78.94 221.39h2v6h-2zM81.58 221.39h2v6h-2zM84.23 221.39h2v6h-2zM86.87 221.39h2v6h-2zM89.51 221.39h2v6h-2zM92.15 221.39h2v6h-2zM94.79 221.39h2v6h-2zM97.44 221.39h2v6h-2zM100.08 221.39h2v6h-2zM102.72 221.39h2v6h-2zM105.36 221.39h2v6h-2zM108 221.39h2v6h-2zM110.65 221.39h2v6h-2zM113.29 221.39h2v6h-2zM115.93 221.39h2v6h-2zM118.57 221.39h2v6h-2zM121.21 221.39h2v6h-2zM123.86 221.39h2v6h-2zM126.5 221.39h2v6h-2zM129.14 221.39h2v6h-2zM131.78 221.39h2v6h-2zM134.42 221.39h2v6h-2zM137.07 221.39h2v6h-2zM139.71 221.39h2v6h-2zM142.35 221.39h2v6h-2zM144.99 221.39h2v6h-2zM147.63 221.39h2v6h-2zM150.28 221.39h2v6h-2zM152.92 221.39h2v6h-2zM155.56 221.39h2v6h-2zM158.2 221.39h2v6h-2zM160.84 221.39h2v6h-2zM163.49 221.39h2v6h-2zM76.3 228.3h2v6h-2zM78.94 228.3h2v6h-2zM81.58 228.3h2v6h-2zM84.23 228.3h2v6h-2zM86.87 228.3h2v6h-2zM89.51 228.3h2v6h-2zM92.15 228.3h2v6h-2zM94.79 228.3h2v6h-2zM97.44 228.3h2v6h-2zM100.08 228.3h2v6h-2zM102.72 228.3h2v6h-2zM105.36 228.3h2v6h-2zM108 228.3h2v6h-2zM110.65 228.3h2v6h-2zM113.29 228.3h2v6h-2zM115.93 228.3h2v6h-2zM118.57 228.3h2v6h-2zM121.21 228.3h2v6h-2zM123.86 228.3h2v6h-2zM126.5 228.3h2v6h-2zM129.14 228.3h2v6h-2zM131.78 228.3h2v6h-2zM134.42 228.3h2v6h-2zM137.07 228.3h2v6h-2zM139.71 228.3h2v6h-2zM142.35 228.3h2v6h-2zM144.99 228.3h2v6h-2zM147.63 228.3h2v6h-2zM150.28 228.3h2v6h-2zM152.92 228.3h2v6h-2zM155.56 228.3h2v6h-2zM158.2 228.3h2v6h-2zM160.84 228.3h2v6h-2zM163.49 228.3h2v6h-2zM76.3 235.21h2v6h-2zM78.94 235.21h2v6h-2zM81.58 235.21h2v6h-2zM84.23 235.21h2v6h-2zM86.87 235.21h2v6h-2zM89.51 235.21h2v6h-2zM92.15 235.21h2v6h-2zM94.79 235.21h2v6h-2zM97.44 235.21h2v6h-2zM100.08 235.21h2v6h-2zM102.72 235.21h2v6h-2zM105.36 235.21h2v6h-2zM108 235.21h2v6h-2zM110.65 235.21h2v6h-2zM113.29 235.21h2v6h-2zM115.93 235.21h2v6h-2zM118.57 235.21h2v6h-2zM121.21 235.21h2v6h-2zM123.86 235.21h2v6h-2zM126.5 235.21h2v6h-2zM129.14 235.21h2v6h-2zM131.78 235.21h2v6h-2zM134.42 235.21h2v6h-2zM137.07 235.21h2v6h-2zM139.71 235.21h2v6h-2zM142.35 235.21h2v6h-2zM144.99 235.21h2v6h-2zM147.63 235.21h2v6h-2zM150.28 235.21h2v6h-2zM152.92 235.21h2v6h-2zM155.56 235.21h2v6h-2zM158.2 235.21h2v6h-2zM160.84 235.21h2v6h-2zM163.49 235.21h2v6h-2zM76.3 242.12h2v6h-2zM78.94 242.12h2v6h-2zM81.58 242.12h2v6h-2zM84.23 242.12h2v6h-2zM86.87 242.12h2v6h-2zM89.51 242.12h2v6h-2zM92.15 242.12h2v6h-2zM94.79 242.12h2v6h-2zM97.44 242.12h2v6h-2zM100.08 242.12h2v6h-2zM102.72 242.12h2v6h-2zM105.36 242.12h2v6h-2zM108 242.12h2v6h-2zM110.65 242.12h2v6h-2zM113.29 242.12h2v6h-2zM115.93 242.12h2v6h-2zM118.57 242.12h2v6h-2zM121.21 242.12h2v6h-2zM123.86 242.12h2v6h-2zM126.5 242.12h2v6h-2zM129.14 242.12h2v6h-2zM131.78 242.12h2v6h-2zM134.42 242.12h2v6h-2zM137.07 242.12h2v6h-2zM139.71 242.12h2v6h-2zM142.35 242.12h2v6h-2zM144.99 242.12h2v6h-2zM147.63 242.12h2v6h-2zM150.28 242.12h2v6h-2zM152.92 242.12h2v6h-2zM155.56 242.12h2v6h-2zM158.2 242.12h2v6h-2zM160.84 242.12h2v6h-2zM163.49 242.12h2v6h-2zM76.3 249.03h2v6h-2zM78.94 249.03h2v6h-2zM81.58 249.03h2v6h-2zM84.23 249.03h2v6h-2zM86.87 249.03h2v6h-2zM89.51 249.03h2v6h-2zM92.15 249.03h2v6h-2zM94.79 249.03h2v6h-2zM97.44 249.03h2v6h-2zM100.08 249.03h2v6h-2zM102.72 249.03h2v6h-2zM105.36 249.03h2v6h-2zM108 249.03h2v6h-2zM110.65 249.03h2v6h-2zM113.29 249.03h2v6h-2zM115.93 249.03h2v6h-2zM118.57 249.03h2v6h-2zM121.21 249.03h2v6h-2zM123.86 249.03h2v6h-2zM126.5 249.03h2v6h-2zM129.14 249.03h2v6h-2zM131.78 249.03h2v6h-2zM134.42 249.03h2v6h-2zM137.07 249.03h2v6h-2zM139.71 249.03h2v6h-2zM142.35 249.03h2v6h-2zM144.99 249.03h2v6h-2zM147.63 249.03h2v6h-2zM150.28 249.03h2v6h-2zM152.92 249.03h2v6h-2zM155.56 249.03h2v6h-2zM158.2 249.03h2v6h-2zM160.84 249.03h2v6h-2zM163.49 249.03h2v6h-2zM76.3 255.94h2v6h-2zM78.94 255.94h2v6h-2zM81.58 255.94h2v6h-2zM84.23 255.94h2v6h-2zM86.87 255.94h2v6h-2zM89.51 255.94h2v6h-2zM92.15 255.94h2v6h-2zM94.79 255.94h2v6h-2zM97.44 255.94h2v6h-2zM100.08 255.94h2v6h-2zM102.72 255.94h2v6h-2zM105.36 255.94h2v6h-2zM108 255.94h2v6h-2zM110.65 255.94h2v6h-2zM113.29 255.94h2v6h-2zM115.93 255.94h2v6h-2zM118.57 255.94h2v6h-2zM121.21 255.94h2v6h-2zM123.86 255.94h2v6h-2zM126.5 255.94h2v6h-2zM129.14 255.94h2v6h-2zM131.78 255.94h2v6h-2zM134.42 255.94h2v6h-2zM137.07 255.94h2v6h-2zM139.71 255.94h2v6h-2zM142.35 255.94h2v6h-2zM144.99 255.94h2v6h-2zM147.63 255.94h2v6h-2zM150.28 255.94h2v6h-2zM152.92 255.94h2v6h-2zM155.56 255.94h2v6h-2zM158.2 255.94h2v6h-2zM160.84 255.94h2v6h-2zM163.49 255.94h2v6h-2zM76.3 262.85h2v6h-2zM78.94 262.85h2v6h-2zM81.58 262.85h2v6h-2zM84.23 262.85h2v6h-2zM86.87 262.85h2v6h-2zM89.51 262.85h2v6h-2zM92.15 262.85h2v6h-2zM94.79 262.85h2v6h-2zM97.44 262.85h2v6h-2zM100.08 262.85h2v6h-2zM102.72 262.85h2v6h-2zM105.36 262.85h2v6h-2zM108 262.85h2v6h-2zM110.65 262.85h2v6h-2zM113.29 262.85h2v6h-2zM115.93 262.85h2v6h-2zM118.57 262.85h2v6h-2zM121.21 262.85h2v6h-2zM123.86 262.85h2v6h-2zM126.5 262.85h2v6h-2zM129.14 262.85h2v6h-2zM131.78 262.85h2v6h-2zM134.42 262.85h2v6h-2zM137.07 262.85h2v6h-2zM139.71 262.85h2v6h-2zM142.35 262.85h2v6h-2zM144.99 262.85h2v6h-2zM147.63 262.85h2v6h-2zM150.28 262.85h2v6h-2zM152.92 262.85h2v6h-2zM155.56 262.85h2v6h-2zM158.2 262.85h2v6h-2zM160.84 262.85h2v6h-2zM163.49 262.85h2v6h-2zM76.3 269.76h2v6h-2zM78.94 269.76h2v6h-2zM81.58 269.76h2v6h-2zM84.23 269.76h2v6h-2zM86.87 269.76h2v6h-2zM92.15 269.76h2v6h-2zM94.79 269.76h2v6h-2zM97.44 269.76h2v6h-2zM100.08 269.76h2v6h-2zM102.72 269.76h2v6h-2zM105.36 269.76h2v6h-2zM108 269.76h2v6h-2zM110.65 269.76h2v6h-2zM113.29 269.76h2v6h-2zM115.93 269.76h2v6h-2zM118.57 269.76h2v6h-2zM121.21 269.76h2v6h-2zM123.86 269.76h2v6h-2zM126.5 269.76h2v6h-2zM129.14 269.76h2v6h-2zM131.78 269.76h2v6h-2zM134.42 269.76h2v6h-2zM137.07 269.76h2v6h-2zM139.71 269.76h2v6h-2zM144.99 269.76h2v6h-2zM147.63 269.76h2v6h-2zM150.28 269.76h2v6h-2zM152.92 269.76h2v6h-2zM155.56 269.76h2v6h-2zM158.2 269.76h2v6h-2zM160.84 269.76h2v6h-2zM163.49 269.76h2v6h-2zM76.3 276.67h2v6h-2zM84.23 276.67h2v6h-2zM86.87 276.67h2v6h-2zM89.51 276.67h2v6h-2zM92.15 276.67h2v6h-2zM94.79 276.67h2v6h-2zM97.44 276.67h2v6h-2zM100.08 276.67h2v6h-2zM102.72 276.67h2v6h-2zM105.36 276.67h2v6h-2zM108 276.67h2v6h-2zM110.65 276.67h2v6h-2zM113.29 276.67h2v6h-2zM115.93 276.67h2v6h-2zM118.57 276.67h2v6h-2zM121.21 276.67h2v6h-2zM123.86 276.67h2v6h-2zM129.14 276.67h2v6h-2zM131.78 276.67h2v6h-2zM134.42 276.67h2v6h-2zM137.07 276.67h2v6h-2zM139.71 276.67h2v6h-2zM142.35 276.67h2v6h-2zM144.99 276.67h2v6h-2zM147.63 276.67h2v6h-2zM150.28 276.67h2v6h-2zM152.92 276.67h2v6h-2zM155.56 276.67h2v6h-2zM158.2 276.67h2v6h-2zM160.84 276.67h2v6h-2zM163.49 276.67h2v6h-2zM76.3 286.85h2v6h-2zM78.94 286.85h2v6h-2zM94.79 286.85h2v6h-2zM100.08 286.85h2v6h-2zM102.72 286.85h2v6h-2zM105.36 286.85h2v6h-2zM108 286.85h2v6h-2zM110.65 286.85h2v6h-2zM113.29 286.85h2v6h-2zM115.93 286.85h2v6h-2zM118.57 286.85h2v6h-2zM144.99 286.85h2v6h-2zM147.63 286.85h2v6h-2zM150.28 286.85h2v6h-2zM158.2 286.85h2v6h-2zM160.84 286.85h2v6h-2zM163.49 286.85h2v6h-2zM76.3 297.6h2v6h-2zM78.94 297.6h2v6h-2zM81.58 297.6h2v6h-2zM89.51 297.6h2v6h-2zM92.15 297.6h2v6h-2zM100.08 297.6h2v6h-2zM102.72 297.6h2v6h-2zM105.36 297.6h2v6h-2zM108 297.6h2v6h-2zM113.29 297.6h2v6h-2zM115.93 297.6h2v6h-2zM118.57 297.6h2v6h-2zM121.21 297.6h2v6h-2zM123.86 297.6h2v6h-2zM126.5 297.6h2v6h-2zM129.14 297.6h2v6h-2zM131.78 297.6h2v6h-2zM134.42 297.6h2v6h-2zM137.07 297.6h2v6h-2zM139.71 297.6h2v6h-2zM142.35 297.6h2v6h-2zM147.63 297.6h2v6h-2zM152.92 297.6h2v6h-2zM155.56 297.6h2v6h-2zM158.2 297.6h2v6h-2zM160.84 297.6h2v6h-2zM163.49 297.6h2v6h-2zM76.3 304.48h2v6h-2zM78.94 304.48h2v6h-2zM81.58 304.48h2v6h-2zM89.51 304.48h2v6h-2zM92.15 304.48h2v6h-2zM94.79 304.48h2v6h-2zM97.44 304.48h2v6h-2zM100.08 304.48h2v6h-2zM102.72 304.48h2v6h-2zM105.36 304.48h2v6h-2zM108 304.48h2v6h-2zM121.21 304.48h2v6h-2zM123.86 304.48h2v6h-2zM126.5 304.48h2v6h-2zM131.78 304.48h2v6h-2zM134.42 304.48h2v6h-2zM139.71 304.48h2v6h-2zM142.35 304.48h2v6h-2zM144.99 304.48h2v6h-2zM147.63 304.48h2v6h-2zM150.28 304.48h2v6h-2zM152.92 304.48h2v6h-2zM155.56 304.48h2v6h-2zM158.2 304.48h2v6h-2zM160.84 304.48h2v6h-2zM163.49 304.48h2v6h-2zM76.3 311.36h2v6h-2zM78.94 311.36h2v6h-2zM81.58 311.36h2v6h-2zM84.23 311.36h2v6h-2zM86.87 311.36h2v6h-2zM89.51 311.36h2v6h-2zM92.15 311.36h2v6h-2zM94.79 311.36h2v6h-2zM97.44 311.36h2v6h-2zM100.08 311.36h2v6h-2zM102.72 311.36h2v6h-2zM105.36 311.36h2v6h-2zM108 311.36h2v6h-2zM110.65 311.36h2v6h-2zM113.29 311.36h2v6h-2zM115.93 311.36h2v6h-2zM118.57 311.36h2v6h-2zM126.5 311.36h2v6h-2zM129.14 311.36h2v6h-2zM131.78 311.36h2v6h-2zM137.07 311.36h2v6h-2zM139.71 311.36h2v6h-2zM142.35 311.36h2v6h-2zM144.99 311.36h2v6h-2zM147.63 311.36h2v6h-2zM150.28 311.36h2v6h-2zM152.92 311.36h2v6h-2zM155.56 311.36h2v6h-2zM158.2 311.36h2v6h-2zM160.84 311.36h2v6h-2zM163.49 311.36h2v6h-2zM76.3 318.24h2v6h-2zM78.94 318.24h2v6h-2zM81.58 318.24h2v6h-2zM89.51 318.24h2v6h-2zM92.15 318.24h2v6h-2zM94.79 318.24h2v6h-2zM97.44 318.24h2v6h-2zM100.08 318.24h2v6h-2zM102.72 318.24h2v6h-2zM105.36 318.24h2v6h-2zM108 318.24h2v6h-2zM110.65 318.24h2v6h-2zM113.29 318.24h2v6h-2zM115.93 318.24h2v6h-2zM118.57 318.24h2v6h-2zM121.21 318.24h2v6h-2zM123.86 318.24h2v6h-2zM129.14 318.24h2v6h-2zM131.78 318.24h2v6h-2zM134.42 318.24h2v6h-2zM137.07 318.24h2v6h-2zM139.71 318.24h2v6h-2zM142.35 318.24h2v6h-2zM147.63 318.24h2v6h-2zM150.28 318.24h2v6h-2zM155.56 318.24h2v6h-2zM158.2 318.24h2v6h-2zM160.84 318.24h2v6h-2zM163.49 318.24h2v6h-2zM76.3 325.12h2v6h-2zM78.94 325.12h2v6h-2zM81.58 325.12h2v6h-2zM94.79 325.12h2v6h-2zM100.08 325.12h2v6h-2zM102.72 325.12h2v6h-2zM105.36 325.12h2v6h-2zM108 325.12h2v6h-2zM110.65 325.12h2v6h-2zM113.29 325.12h2v6h-2zM115.93 325.12h2v6h-2zM118.57 325.12h2v6h-2zM121.21 325.12h2v6h-2zM126.5 325.12h2v6h-2zM129.14 325.12h2v6h-2zM131.78 325.12h2v6h-2zM134.42 325.12h2v6h-2zM137.07 325.12h2v6h-2zM139.71 325.12h2v6h-2zM142.35 325.12h2v6h-2zM144.99 325.12h2v6h-2zM147.63 325.12h2v6h-2zM150.28 325.12h2v6h-2zM152.92 325.12h2v6h-2zM155.56 325.12h2v6h-2zM160.84 325.12h2v6h-2zM163.49 325.12h2v6h-2zM78.94 332h2v6h-2zM81.58 332h2v6h-2zM84.23 332h2v6h-2zM86.87 332h2v6h-2zM89.51 332h2v6h-2zM92.15 332h2v6h-2zM94.79 332h2v6h-2zM97.44 332h2v6h-2zM100.08 332h2v6h-2zM102.72 332h2v6h-2zM105.36 332h2v6h-2zM108 332h2v6h-2zM110.65 332h2v6h-2zM113.29 332h2v6h-2zM115.93 332h2v6h-2zM118.57 332h2v6h-2zM121.21 332h2v6h-2zM123.86 332h2v6h-2zM126.5 332h2v6h-2zM129.14 332h2v6h-2zM131.78 332h2v6h-2zM76.3 338.88h2v6h-2zM81.58 338.88h2v6h-2zM84.23 338.88h2v6h-2zM86.87 338.88h2v6h-2zM89.51 338.88h2v6h-2zM92.15 338.88h2v6h-2zM94.79 338.88h2v6h-2zM97.44 338.88h2v6h-2zM100.08 338.88h2v6h-2zM102.72 338.88h2v6h-2zM105.36 338.88h2v6h-2zM108 338.88h2v6h-2zM110.65 338.88h2v6h-2zM113.29 338.88h2v6h-2zM115.93 338.88h2v6h-2zM118.57 338.88h2v6h-2zM121.21 338.88h2v6h-2zM123.86 338.88h2v6h-2zM126.5 338.88h2v6h-2zM129.14 338.88h2v6h-2zM131.78 338.88h2v6h-2zM134.42 338.88h2v6h-2zM137.07 338.88h2v6h-2zM139.71 338.88h2v6h-2zM142.35 338.88h2v6h-2zM144.99 338.88h2v6h-2zM147.63 338.88h2v6h-2zM150.28 338.88h2v6h-2zM155.56 338.88h2v6h-2zM158.2 338.88h2v6h-2zM160.84 338.88h2v6h-2zM163.49 338.88h2v6h-2zM76.3 345.76h2v6h-2zM78.94 345.76h2v6h-2zM84.23 345.76h2v6h-2zM89.51 345.76h2v6h-2zM97.44 345.76h2v6h-2zM100.08 345.76h2v6h-2zM102.72 345.76h2v6h-2zM105.36 345.76h2v6h-2zM108 345.76h2v6h-2zM110.65 345.76h2v6h-2zM113.29 345.76h2v6h-2zM115.93 345.76h2v6h-2zM118.57 345.76h2v6h-2zM121.21 345.76h2v6h-2zM123.86 345.76h2v6h-2zM126.5 345.76h2v6h-2zM129.14 345.76h2v6h-2zM131.78 345.76h2v6h-2zM134.42 345.76h2v6h-2zM137.07 345.76h2v6h-2zM139.71 345.76h2v6h-2zM142.35 345.76h2v6h-2zM144.99 345.76h2v6h-2zM147.63 345.76h2v6h-2zM150.28 345.76h2v6h-2zM169.9 58.85h2v6h-2zM188.43 58.85h2v6h-2zM193.72 58.85h2v6h-2zM172.55 65.76h2v6h-2zM172.55 72.67h2v6h-2zM175.19 72.67h2v6h-2zM177.84 72.67h2v6h-2zM180.49 72.67h2v6h-2zM188.43 72.67h2v6h-2zM191.08 72.67h2v6h-2zM193.72 72.67h2v6h-2zM199.02 72.67h2v6h-2zM204.31 72.67h2v6h-2zM206.96 72.67h2v6h-2zM212.25 72.67h2v6h-2zM169.9 79.58h2v6h-2zM172.55 79.58h2v6h-2zM175.19 79.58h2v6h-2zM177.84 79.58h2v6h-2zM180.49 79.58h2v6h-2zM183.13 79.58h2v6h-2zM191.08 79.58h2v6h-2zM193.72 79.58h2v6h-2zM199.02 79.58h2v6h-2zM201.66 79.58h2v6h-2zM204.31 79.58h2v6h-2zM206.96 79.58h2v6h-2zM217.55 79.58h2v6h-2zM220.19 79.58h2v6h-2zM172.55 86.49h2v6h-2zM175.19 86.49h2v6h-2zM177.84 86.49h2v6h-2zM185.78 86.49h2v6h-2zM188.43 86.49h2v6h-2zM196.37 86.49h2v6h-2zM199.02 86.49h2v6h-2zM201.66 86.49h2v6h-2zM220.19 86.49h2v6h-2zM169.9 93.4h2v6h-2zM175.19 93.4h2v6h-2zM177.84 93.4h2v6h-2zM180.49 93.4h2v6h-2zM183.13 93.4h2v6h-2zM185.78 93.4h2v6h-2zM196.37 93.4h2v6h-2zM201.66 93.4h2v6h-2zM204.31 93.4h2v6h-2zM212.25 93.4h2v6h-2zM217.55 93.4h2v6h-2zM220.19 93.4h2v6h-2zM169.9 100.31h2v6h-2zM172.55 100.31h2v6h-2zM175.19 100.31h2v6h-2zM177.84 100.31h2v6h-2zM180.49 100.31h2v6h-2zM183.13 100.31h2v6h-2zM185.78 100.31h2v6h-2zM188.43 100.31h2v6h-2zM193.72 100.31h2v6h-2zM196.37 100.31h2v6h-2zM199.02 100.31h2v6h-2zM204.31 100.31h2v6h-2zM206.96 100.31h2v6h-2zM209.61 100.31h2v6h-2zM212.25 100.31h2v6h-2zM217.55 100.31h2v6h-2zM220.19 100.31h2v6h-2zM169.9 107.22h2v6h-2zM172.55 107.22h2v6h-2zM175.19 107.22h2v6h-2zM177.84 107.22h2v6h-2zM180.49 107.22h2v6h-2zM183.13 107.22h2v6h-2zM185.78 107.22h2v6h-2zM188.43 107.22h2v6h-2zM191.08 107.22h2v6h-2zM193.72 107.22h2v6h-2zM196.37 107.22h2v6h-2zM199.02 107.22h2v6h-2zM201.66 107.22h2v6h-2zM204.31 107.22h2v6h-2zM206.96 107.22h2v6h-2zM209.61 107.22h2v6h-2zM212.25 107.22h2v6h-2zM214.9 107.22h2v6h-2zM217.55 107.22h2v6h-2zM169.9 114.13h2v6h-2zM172.55 114.13h2v6h-2zM175.19 114.13h2v6h-2zM177.84 114.13h2v6h-2zM180.49 114.13h2v6h-2zM185.78 114.13h2v6h-2zM188.43 114.13h2v6h-2zM191.08 114.13h2v6h-2zM193.72 114.13h2v6h-2zM196.37 114.13h2v6h-2zM199.02 114.13h2v6h-2zM201.66 114.13h2v6h-2zM206.96 114.13h2v6h-2zM212.25 114.13h2v6h-2zM214.9 114.13h2v6h-2zM220.19 114.13h2v6h-2zM169.9 121.04h2v6h-2zM172.55 121.04h2v6h-2zM175.19 121.04h2v6h-2zM177.84 121.04h2v6h-2zM180.49 121.04h2v6h-2zM183.13 121.04h2v6h-2zM185.78 121.04h2v6h-2zM188.43 121.04h2v6h-2zM191.08 121.04h2v6h-2zM193.72 121.04h2v6h-2zM196.37 121.04h2v6h-2zM199.02 121.04h2v6h-2zM201.66 121.04h2v6h-2zM212.25 121.04h2v6h-2zM217.55 121.04h2v6h-2zM220.19 121.04h2v6h-2zM169.9 127.95h2v6h-2zM172.55 127.95h2v6h-2zM175.19 127.95h2v6h-2zM177.84 127.95h2v6h-2zM180.49 127.95h2v6h-2zM183.13 127.95h2v6h-2zM185.78 127.95h2v6h-2zM188.43 127.95h2v6h-2zM191.08 127.95h2v6h-2zM193.72 127.95h2v6h-2zM196.37 127.95h2v6h-2zM199.02 127.95h2v6h-2zM201.66 127.95h2v6h-2zM204.31 127.95h2v6h-2zM206.96 127.95h2v6h-2zM209.61 127.95h2v6h-2zM212.25 127.95h2v6h-2zM214.9 127.95h2v6h-2zM217.55 127.95h2v6h-2zM220.19 127.95h2v6h-2zM169.9 134.86h2v6h-2zM172.55 134.86h2v6h-2zM175.19 134.86h2v6h-2zM177.84 134.86h2v6h-2zM180.49 134.86h2v6h-2zM183.13 134.86h2v6h-2zM185.78 134.86h2v6h-2zM188.43 134.86h2v6h-2zM191.08 134.86h2v6h-2zM193.72 134.86h2v6h-2zM196.37 134.86h2v6h-2zM199.02 134.86h2v6h-2zM201.66 134.86h2v6h-2zM204.31 134.86h2v6h-2zM206.96 134.86h2v6h-2zM209.61 134.86h2v6h-2zM212.25 134.86h2v6h-2zM214.9 134.86h2v6h-2zM217.55 134.86h2v6h-2zM169.9 141.77h2v6h-2zM172.55 141.77h2v6h-2zM175.19 141.77h2v6h-2zM177.84 141.77h2v6h-2zM180.49 141.77h2v6h-2zM183.13 141.77h2v6h-2zM185.78 141.77h2v6h-2zM188.43 141.77h2v6h-2zM191.08 141.77h2v6h-2zM193.72 141.77h2v6h-2zM196.37 141.77h2v6h-2zM199.02 141.77h2v6h-2zM201.66 141.77h2v6h-2zM204.31 141.77h2v6h-2zM206.96 141.77h2v6h-2zM209.61 141.77h2v6h-2zM212.25 141.77h2v6h-2zM214.9 141.77h2v6h-2zM217.55 141.77h2v6h-2zM220.19 141.77h2v6h-2zM169.9 148.68h2v6h-2zM172.55 148.68h2v6h-2zM175.19 148.68h2v6h-2zM177.84 148.68h2v6h-2zM180.49 148.68h2v6h-2zM183.13 148.68h2v6h-2zM188.43 148.68h2v6h-2zM191.08 148.68h2v6h-2zM193.72 148.68h2v6h-2zM196.37 148.68h2v6h-2zM199.02 148.68h2v6h-2zM201.66 148.68h2v6h-2zM204.31 148.68h2v6h-2zM206.96 148.68h2v6h-2zM209.61 148.68h2v6h-2zM212.25 148.68h2v6h-2zM214.9 148.68h2v6h-2zM217.55 148.68h2v6h-2zM220.19 148.68h2v6h-2zM169.9 155.59h2v6h-2zM172.55 155.59h2v6h-2zM175.19 155.59h2v6h-2zM177.84 155.59h2v6h-2zM180.49 155.59h2v6h-2zM183.13 155.59h2v6h-2zM185.78 155.59h2v6h-2zM188.43 155.59h2v6h-2zM191.08 155.59h2v6h-2zM193.72 155.59h2v6h-2zM196.37 155.59h2v6h-2zM199.02 155.59h2v6h-2zM201.66 155.59h2v6h-2zM204.31 155.59h2v6h-2zM206.96 155.59h2v6h-2zM209.61 155.59h2v6h-2zM212.25 155.59h2v6h-2zM214.9 155.59h2v6h-2zM217.55 155.59h2v6h-2zM220.19 155.59h2v6h-2zM169.9 162.5h2v6h-2zM172.55 162.5h2v6h-2zM175.19 162.5h2v6h-2zM177.84 162.5h2v6h-2zM180.49 162.5h2v6h-2zM183.13 162.5h2v6h-2zM185.78 162.5h2v6h-2zM188.43 162.5h2v6h-2zM191.08 162.5h2v6h-2zM193.72 162.5h2v6h-2zM196.37 162.5h2v6h-2zM199.02 162.5h2v6h-2zM201.66 162.5h2v6h-2zM204.31 162.5h2v6h-2zM206.96 162.5h2v6h-2zM209.61 162.5h2v6h-2zM212.25 162.5h2v6h-2zM214.9 162.5h2v6h-2zM217.55 162.5h2v6h-2zM220.19 162.5h2v6h-2zM169.9 169.41h2v6h-2zM172.55 169.41h2v6h-2zM175.19 169.41h2v6h-2zM177.84 169.41h2v6h-2zM180.49 169.41h2v6h-2zM183.13 169.41h2v6h-2zM185.78 169.41h2v6h-2zM188.43 169.41h2v6h-2zM191.08 169.41h2v6h-2zM193.72 169.41h2v6h-2zM196.37 169.41h2v6h-2zM199.02 169.41h2v6h-2zM201.66 169.41h2v6h-2zM204.31 169.41h2v6h-2zM206.96 169.41h2v6h-2zM209.61 169.41h2v6h-2zM212.25 169.41h2v6h-2zM214.9 169.41h2v6h-2zM217.55 169.41h2v6h-2zM220.19 169.41h2v6h-2zM169.9 176.32h2v6h-2zM172.55 176.32h2v6h-2zM175.19 176.32h2v6h-2zM177.84 176.32h2v6h-2zM180.49 176.32h2v6h-2zM183.13 176.32h2v6h-2zM185.78 176.32h2v6h-2zM188.43 176.32h2v6h-2zM191.08 176.32h2v6h-2zM193.72 176.32h2v6h-2zM196.37 176.32h2v6h-2zM199.02 176.32h2v6h-2zM201.66 176.32h2v6h-2zM204.31 176.32h2v6h-2zM206.96 176.32h2v6h-2zM209.61 176.32h2v6h-2zM212.25 176.32h2v6h-2zM214.9 176.32h2v6h-2zM217.55 176.32h2v6h-2zM220.19 176.32h2v6h-2zM169.9 183.23h2v6h-2zM172.55 183.23h2v6h-2zM175.19 183.23h2v6h-2zM177.84 183.23h2v6h-2zM180.49 183.23h2v6h-2zM183.13 183.23h2v6h-2zM185.78 183.23h2v6h-2zM188.43 183.23h2v6h-2zM191.08 183.23h2v6h-2zM193.72 183.23h2v6h-2zM196.37 183.23h2v6h-2zM199.02 183.23h2v6h-2zM201.66 183.23h2v6h-2zM204.31 183.23h2v6h-2zM206.96 183.23h2v6h-2zM209.61 183.23h2v6h-2zM212.25 183.23h2v6h-2zM214.9 183.23h2v6h-2zM217.55 183.23h2v6h-2zM220.19 183.23h2v6h-2zM169.9 193.75h2v6h-2zM172.55 193.75h2v6h-2zM175.19 193.75h2v6h-2zM177.84 193.75h2v6h-2zM180.49 193.75h2v6h-2zM183.13 193.75h2v6h-2zM185.78 193.75h2v6h-2zM193.72 193.75h2v6h-2zM199.02 193.75h2v6h-2zM201.66 193.75h2v6h-2zM204.31 193.75h2v6h-2zM206.96 193.75h2v6h-2zM209.61 193.75h2v6h-2zM212.25 193.75h2v6h-2zM214.9 193.75h2v6h-2zM217.55 193.75h2v6h-2zM220.19 193.75h2v6h-2zM169.9 200.66h2v6h-2zM172.55 200.66h2v6h-2zM175.19 200.66h2v6h-2zM177.84 200.66h2v6h-2zM180.49 200.66h2v6h-2zM185.78 200.66h2v6h-2zM188.43 200.66h2v6h-2zM204.31 200.66h2v6h-2zM212.25 200.66h2v6h-2zM217.55 200.66h2v6h-2zM220.19 200.66h2v6h-2zM169.9 207.57h2v6h-2zM172.55 207.57h2v6h-2zM175.19 207.57h2v6h-2zM177.84 207.57h2v6h-2zM180.49 207.57h2v6h-2zM183.13 207.57h2v6h-2zM185.78 207.57h2v6h-2zM188.43 207.57h2v6h-2zM191.08 207.57h2v6h-2zM193.72 207.57h2v6h-2zM196.37 207.57h2v6h-2zM199.02 207.57h2v6h-2zM201.66 207.57h2v6h-2zM204.31 207.57h2v6h-2zM169.9 214.48h2v6h-2zM172.55 214.48h2v6h-2zM175.19 214.48h2v6h-2zM180.49 214.48h2v6h-2zM188.43 214.48h2v6h-2zM191.08 214.48h2v6h-2zM193.72 214.48h2v6h-2zM196.37 214.48h2v6h-2zM199.02 214.48h2v6h-2zM201.66 214.48h2v6h-2zM204.31 214.48h2v6h-2zM206.96 214.48h2v6h-2zM209.61 214.48h2v6h-2zM212.25 214.48h2v6h-2zM214.9 214.48h2v6h-2zM169.9 221.39h2v6h-2zM172.55 221.39h2v6h-2zM175.19 221.39h2v6h-2zM177.84 221.39h2v6h-2zM180.49 221.39h2v6h-2zM183.13 221.39h2v6h-2zM185.78 221.39h2v6h-2zM188.43 221.39h2v6h-2zM191.08 221.39h2v6h-2zM193.72 221.39h2v6h-2zM196.37 221.39h2v6h-2zM199.02 221.39h2v6h-2zM201.66 221.39h2v6h-2zM204.31 221.39h2v6h-2zM206.96 221.39h2v6h-2zM209.61 221.39h2v6h-2zM212.25 221.39h2v6h-2zM214.9 221.39h2v6h-2zM217.55 221.39h2v6h-2zM220.19 221.39h2v6h-2zM169.9 228.3h2v6h-2zM172.55 228.3h2v6h-2zM175.19 228.3h2v6h-2zM177.84 228.3h2v6h-2zM180.49 228.3h2v6h-2zM185.78 228.3h2v6h-2zM188.43 228.3h2v6h-2zM191.08 228.3h2v6h-2zM193.72 228.3h2v6h-2zM196.37 228.3h2v6h-2zM199.02 228.3h2v6h-2zM201.66 228.3h2v6h-2zM204.31 228.3h2v6h-2zM206.96 228.3h2v6h-2zM209.61 228.3h2v6h-2zM212.25 228.3h2v6h-2zM214.9 228.3h2v6h-2zM220.19 228.3h2v6h-2zM172.55 235.21h2v6h-2zM175.19 235.21h2v6h-2zM177.84 235.21h2v6h-2zM180.49 235.21h2v6h-2zM183.13 235.21h2v6h-2zM185.78 235.21h2v6h-2zM188.43 235.21h2v6h-2zM191.08 235.21h2v6h-2zM193.72 235.21h2v6h-2zM196.37 235.21h2v6h-2zM199.02 235.21h2v6h-2zM201.66 235.21h2v6h-2zM204.31 235.21h2v6h-2zM206.96 235.21h2v6h-2zM212.25 235.21h2v6h-2zM214.9 235.21h2v6h-2zM220.19 235.21h2v6h-2zM169.9 242.12h2v6h-2zM172.55 242.12h2v6h-2zM175.19 242.12h2v6h-2zM177.84 242.12h2v6h-2zM180.49 242.12h2v6h-2zM183.13 242.12h2v6h-2zM185.78 242.12h2v6h-2zM188.43 242.12h2v6h-2zM191.08 242.12h2v6h-2zM193.72 242.12h2v6h-2zM196.37 242.12h2v6h-2zM199.02 242.12h2v6h-2zM201.66 242.12h2v6h-2zM204.31 242.12h2v6h-2zM206.96 242.12h2v6h-2zM209.61 242.12h2v6h-2zM212.25 242.12h2v6h-2zM214.9 242.12h2v6h-2zM217.55 242.12h2v6h-2zM220.19 242.12h2v6h-2zM169.9 249.03h2v6h-2zM172.55 249.03h2v6h-2zM175.19 249.03h2v6h-2zM177.84 249.03h2v6h-2zM180.49 249.03h2v6h-2zM183.13 249.03h2v6h-2zM185.78 249.03h2v6h-2zM188.43 249.03h2v6h-2zM191.08 249.03h2v6h-2zM193.72 249.03h2v6h-2zM196.37 249.03h2v6h-2zM199.02 249.03h2v6h-2zM201.66 249.03h2v6h-2zM204.31 249.03h2v6h-2zM206.96 249.03h2v6h-2zM209.61 249.03h2v6h-2zM212.25 249.03h2v6h-2zM169.9 255.94h2v6h-2zM172.55 255.94h2v6h-2zM175.19 255.94h2v6h-2zM177.84 255.94h2v6h-2zM180.49 255.94h2v6h-2zM183.13 255.94h2v6h-2zM185.78 255.94h2v6h-2zM188.43 255.94h2v6h-2zM191.08 255.94h2v6h-2zM193.72 255.94h2v6h-2zM196.37 255.94h2v6h-2zM199.02 255.94h2v6h-2zM201.66 255.94h2v6h-2zM204.31 255.94h2v6h-2zM206.96 255.94h2v6h-2zM209.61 255.94h2v6h-2zM212.25 255.94h2v6h-2zM214.9 255.94h2v6h-2zM217.55 255.94h2v6h-2zM220.19 255.94h2v6h-2zM169.9 262.85h2v6h-2zM172.55 262.85h2v6h-2zM177.84 262.85h2v6h-2zM180.49 262.85h2v6h-2zM183.13 262.85h2v6h-2zM185.78 262.85h2v6h-2zM199.02 262.85h2v6h-2zM201.66 262.85h2v6h-2zM204.31 262.85h2v6h-2zM206.96 262.85h2v6h-2zM209.61 262.85h2v6h-2zM212.25 262.85h2v6h-2zM217.55 262.85h2v6h-2zM172.55 269.76h2v6h-2zM175.19 269.76h2v6h-2zM183.13 269.76h2v6h-2zM185.78 269.76h2v6h-2zM188.43 269.76h2v6h-2zM191.08 269.76h2v6h-2zM193.72 269.76h2v6h-2zM196.37 269.76h2v6h-2zM199.02 269.76h2v6h-2zM201.66 269.76h2v6h-2zM212.25 269.76h2v6h-2zM169.9 276.67h2v6h-2zM172.55 276.67h2v6h-2zM177.84 276.67h2v6h-2zM180.49 276.67h2v6h-2zM183.13 276.67h2v6h-2zM185.78 276.67h2v6h-2zM188.43 276.67h2v6h-2zM191.08 276.67h2v6h-2zM193.72 276.67h2v6h-2zM196.37 276.67h2v6h-2zM199.02 276.67h2v6h-2zM201.66 276.67h2v6h-2zM206.96 276.67h2v6h-2zM209.61 276.67h2v6h-2zM212.25 276.67h2v6h-2zM214.9 276.67h2v6h-2zM217.55 276.67h2v6h-2zM169.9 286.85h2v6h-2zM172.55 286.85h2v6h-2zM175.19 286.85h2v6h-2zM177.84 286.85h2v6h-2zM180.49 286.85h2v6h-2zM183.13 286.85h2v6h-2zM185.78 286.85h2v6h-2zM188.43 286.85h2v6h-2zM191.08 286.85h2v6h-2zM193.72 286.85h2v6h-2zM201.66 286.85h2v6h-2zM206.96 286.85h2v6h-2zM212.25 286.85h2v6h-2zM214.9 286.85h2v6h-2zM217.55 286.85h2v6h-2zM220.19 286.85h2v6h-2zM199.02 304.48h2v6h-2zM220.19 318.24h2v6h-2zM217.55 325.12h2v6h-2zM169.9 338.88h2v6h-2zM188.43 338.88h2v6h-2zM217.55 338.88h2v6h-2zM199.02 345.76h2v6h-2zM201.66 345.76h2v6h-2zM228.84 58.85h2v6h-2zM231.48 58.85h2v6h-2zM234.12 58.85h2v6h-2zM236.76 58.85h2v6h-2zM239.4 58.85h2v6h-2zM242.04 58.85h2v6h-2zM244.68 58.85h2v6h-2zM247.32 58.85h2v6h-2zM249.96 58.85h2v6h-2zM252.6 58.85h2v6h-2zM255.24 58.85h2v6h-2zM257.88 58.85h2v6h-2zM260.52 58.85h2v6h-2zM263.16 58.85h2v6h-2zM265.8 58.85h2v6h-2zM268.44 58.85h2v6h-2zM271.08 58.85h2v6h-2zM279 58.85h2v6h-2zM281.64 58.85h2v6h-2zM284.28 58.85h2v6h-2zM286.92 58.85h2v6h-2zM289.56 58.85h2v6h-2zM292.2 58.85h2v6h-2zM294.84 58.85h2v6h-2zM297.48 58.85h2v6h-2zM300.12 58.85h2v6h-2zM302.76 58.85h2v6h-2zM305.4 58.85h2v6h-2zM308.04 58.85h2v6h-2zM310.68 58.85h2v6h-2zM313.32 58.85h2v6h-2zM315.96 58.85h2v6h-2zM318.6 58.85h2v6h-2zM321.24 58.85h2v6h-2zM323.88 58.85h2v6h-2zM326.52 58.85h2v6h-2zM329.16 58.85h2v6h-2zM331.8 58.85h2v6h-2zM334.44 58.85h2v6h-2zM337.08 58.85h2v6h-2zM339.72 58.85h2v6h-2zM342.36 58.85h2v6h-2zM345 58.85h2v6h-2zM347.64 58.85h2v6h-2zM350.28 58.85h2v6h-2zM352.92 58.85h2v6h-2zM355.56 58.85h2v6h-2zM360.84 58.85h2v6h-2zM363.48 58.85h2v6h-2zM366.12 58.85h2v6h-2zM371.4 58.85h2v6h-2zM374.04 58.85h2v6h-2zM376.68 58.85h2v6h-2zM379.32 58.85h2v6h-2zM381.96 58.85h2v6h-2zM384.6 58.85h2v6h-2zM387.24 58.85h2v6h-2zM228.84 65.76h2v6h-2zM231.48 65.76h2v6h-2zM234.12 65.76h2v6h-2zM236.76 65.76h2v6h-2zM239.4 65.76h2v6h-2zM242.04 65.76h2v6h-2zM244.68 65.76h2v6h-2zM247.32 65.76h2v6h-2zM249.96 65.76h2v6h-2zM252.6 65.76h2v6h-2zM255.24 65.76h2v6h-2zM257.88 65.76h2v6h-2zM260.52 65.76h2v6h-2zM263.16 65.76h2v6h-2zM265.8 65.76h2v6h-2zM268.44 65.76h2v6h-2zM271.08 65.76h2v6h-2zM273.72 65.76h2v6h-2zM279 65.76h2v6h-2zM281.64 65.76h2v6h-2zM284.28 65.76h2v6h-2zM292.2 65.76h2v6h-2zM294.84 65.76h2v6h-2zM297.48 65.76h2v6h-2zM300.12 65.76h2v6h-2zM302.76 65.76h2v6h-2zM305.4 65.76h2v6h-2zM308.04 65.76h2v6h-2zM310.68 65.76h2v6h-2zM313.32 65.76h2v6h-2zM318.6 65.76h2v6h-2zM321.24 65.76h2v6h-2zM323.88 65.76h2v6h-2zM326.52 65.76h2v6h-2zM329.16 65.76h2v6h-2zM331.8 65.76h2v6h-2zM334.44 65.76h2v6h-2zM339.72 65.76h2v6h-2zM342.36 65.76h2v6h-2zM345 65.76h2v6h-2zM347.64 65.76h2v6h-2zM352.92 65.76h2v6h-2zM355.56 65.76h2v6h-2zM360.84 65.76h2v6h-2zM363.48 65.76h2v6h-2zM366.12 65.76h2v6h-2zM368.76 65.76h2v6h-2zM371.4 65.76h2v6h-2zM374.04 65.76h2v6h-2zM376.68 65.76h2v6h-2zM379.32 65.76h2v6h-2zM381.96 65.76h2v6h-2zM384.6 65.76h2v6h-2zM387.24 65.76h2v6h-2zM228.84 72.67h2v6h-2zM231.48 72.67h2v6h-2zM260.52 72.67h2v6h-2zM263.16 72.67h2v6h-2zM265.8 72.67h2v6h-2zM268.44 72.67h2v6h-2zM271.08 72.67h2v6h-2zM279 72.67h2v6h-2zM281.64 72.67h2v6h-2zM284.28 72.67h2v6h-2zM286.92 72.67h2v6h-2zM289.56 72.67h2v6h-2zM292.2 72.67h2v6h-2zM297.48 72.67h2v6h-2zM300.12 72.67h2v6h-2zM302.76 72.67h2v6h-2zM305.4 72.67h2v6h-2zM308.04 72.67h2v6h-2zM310.68 72.67h2v6h-2zM313.32 72.67h2v6h-2zM315.96 72.67h2v6h-2zM318.6 72.67h2v6h-2zM321.24 72.67h2v6h-2zM323.88 72.67h2v6h-2zM326.52 72.67h2v6h-2zM331.8 72.67h2v6h-2zM337.08 72.67h2v6h-2zM339.72 72.67h2v6h-2zM342.36 72.67h2v6h-2zM345 72.67h2v6h-2zM350.28 72.67h2v6h-2zM352.92 72.67h2v6h-2zM360.84 72.67h2v6h-2zM368.76 72.67h2v6h-2zM371.4 72.67h2v6h-2zM376.68 72.67h2v6h-2zM379.32 72.67h2v6h-2zM381.96 72.67h2v6h-2zM384.6 72.67h2v6h-2zM387.24 72.67h2v6h-2zM228.84 79.58h2v6h-2zM231.48 79.58h2v6h-2zM234.12 79.58h2v6h-2zM236.76 79.58h2v6h-2zM239.4 79.58h2v6h-2zM242.04 79.58h2v6h-2zM244.68 79.58h2v6h-2zM247.32 79.58h2v6h-2zM249.96 79.58h2v6h-2zM252.6 79.58h2v6h-2zM255.24 79.58h2v6h-2zM257.88 79.58h2v6h-2zM260.52 79.58h2v6h-2zM263.16 79.58h2v6h-2zM265.8 79.58h2v6h-2zM268.44 79.58h2v6h-2zM271.08 79.58h2v6h-2zM273.72 79.58h2v6h-2zM276.36 79.58h2v6h-2zM279 79.58h2v6h-2zM284.28 79.58h2v6h-2zM286.92 79.58h2v6h-2zM289.56 79.58h2v6h-2zM292.2 79.58h2v6h-2zM294.84 79.58h2v6h-2zM297.48 79.58h2v6h-2zM308.04 79.58h2v6h-2zM310.68 79.58h2v6h-2zM313.32 79.58h2v6h-2zM315.96 79.58h2v6h-2zM318.6 79.58h2v6h-2zM323.88 79.58h2v6h-2zM326.52 79.58h2v6h-2zM329.16 79.58h2v6h-2zM331.8 79.58h2v6h-2zM334.44 79.58h2v6h-2zM337.08 79.58h2v6h-2zM339.72 79.58h2v6h-2zM342.36 79.58h2v6h-2zM345 79.58h2v6h-2zM347.64 79.58h2v6h-2zM350.28 79.58h2v6h-2zM352.92 79.58h2v6h-2zM358.2 79.58h2v6h-2zM363.48 79.58h2v6h-2zM366.12 79.58h2v6h-2zM368.76 79.58h2v6h-2zM371.4 79.58h2v6h-2zM374.04 79.58h2v6h-2zM376.68 79.58h2v6h-2zM379.32 79.58h2v6h-2zM381.96 79.58h2v6h-2zM387.24 79.58h2v6h-2zM228.84 86.49h2v6h-2zM231.48 86.49h2v6h-2zM234.12 86.49h2v6h-2zM236.76 86.49h2v6h-2zM239.4 86.49h2v6h-2zM242.04 86.49h2v6h-2zM244.68 86.49h2v6h-2zM247.32 86.49h2v6h-2zM252.6 86.49h2v6h-2zM255.24 86.49h2v6h-2zM257.88 86.49h2v6h-2zM260.52 86.49h2v6h-2zM263.16 86.49h2v6h-2zM265.8 86.49h2v6h-2zM268.44 86.49h2v6h-2zM271.08 86.49h2v6h-2zM273.72 86.49h2v6h-2zM276.36 86.49h2v6h-2zM279 86.49h2v6h-2zM281.64 86.49h2v6h-2zM284.28 86.49h2v6h-2zM286.92 86.49h2v6h-2zM289.56 86.49h2v6h-2zM292.2 86.49h2v6h-2zM294.84 86.49h2v6h-2zM297.48 86.49h2v6h-2zM300.12 86.49h2v6h-2zM302.76 86.49h2v6h-2zM305.4 86.49h2v6h-2zM308.04 86.49h2v6h-2zM310.68 86.49h2v6h-2zM313.32 86.49h2v6h-2zM315.96 86.49h2v6h-2zM318.6 86.49h2v6h-2zM323.88 86.49h2v6h-2zM329.16 86.49h2v6h-2zM331.8 86.49h2v6h-2zM334.44 86.49h2v6h-2zM339.72 86.49h2v6h-2zM342.36 86.49h2v6h-2zM345 86.49h2v6h-2zM347.64 86.49h2v6h-2zM350.28 86.49h2v6h-2zM352.92 86.49h2v6h-2zM355.56 86.49h2v6h-2zM358.2 86.49h2v6h-2zM360.84 86.49h2v6h-2zM363.48 86.49h2v6h-2zM366.12 86.49h2v6h-2zM368.76 86.49h2v6h-2zM371.4 86.49h2v6h-2zM374.04 86.49h2v6h-2zM376.68 86.49h2v6h-2zM379.32 86.49h2v6h-2zM381.96 86.49h2v6h-2zM384.6 86.49h2v6h-2zM387.24 86.49h2v6h-2zM228.84 93.4h2v6h-2zM231.48 93.4h2v6h-2zM236.76 93.4h2v6h-2zM239.4 93.4h2v6h-2zM242.04 93.4h2v6h-2zM244.68 93.4h2v6h-2zM247.32 93.4h2v6h-2zM249.96 93.4h2v6h-2zM252.6 93.4h2v6h-2zM255.24 93.4h2v6h-2zM257.88 93.4h2v6h-2zM260.52 93.4h2v6h-2zM263.16 93.4h2v6h-2zM265.8 93.4h2v6h-2zM268.44 93.4h2v6h-2zM271.08 93.4h2v6h-2zM276.36 93.4h2v6h-2zM279 93.4h2v6h-2zM281.64 93.4h2v6h-2zM284.28 93.4h2v6h-2zM286.92 93.4h2v6h-2zM289.56 93.4h2v6h-2zM292.2 93.4h2v6h-2zM294.84 93.4h2v6h-2zM297.48 93.4h2v6h-2zM300.12 93.4h2v6h-2zM302.76 93.4h2v6h-2zM308.04 93.4h2v6h-2zM310.68 93.4h2v6h-2zM313.32 93.4h2v6h-2zM315.96 93.4h2v6h-2zM318.6 93.4h2v6h-2zM321.24 93.4h2v6h-2zM323.88 93.4h2v6h-2zM326.52 93.4h2v6h-2zM329.16 93.4h2v6h-2zM331.8 93.4h2v6h-2zM334.44 93.4h2v6h-2zM337.08 93.4h2v6h-2zM339.72 93.4h2v6h-2zM342.36 93.4h2v6h-2zM345 93.4h2v6h-2zM347.64 93.4h2v6h-2zM350.28 93.4h2v6h-2zM352.92 93.4h2v6h-2zM355.56 93.4h2v6h-2zM358.2 93.4h2v6h-2zM360.84 93.4h2v6h-2zM363.48 93.4h2v6h-2zM368.76 93.4h2v6h-2zM371.4 93.4h2v6h-2zM374.04 93.4h2v6h-2zM376.68 93.4h2v6h-2zM379.32 93.4h2v6h-2zM381.96 93.4h2v6h-2zM384.6 93.4h2v6h-2zM387.24 93.4h2v6h-2zM228.84 100.31h2v6h-2zM231.48 100.31h2v6h-2zM234.12 100.31h2v6h-2zM236.76 100.31h2v6h-2zM239.4 100.31h2v6h-2zM242.04 100.31h2v6h-2zM244.68 100.31h2v6h-2zM247.32 100.31h2v6h-2zM249.96 100.31h2v6h-2zM252.6 100.31h2v6h-2zM255.24 100.31h2v6h-2zM257.88 100.31h2v6h-2zM260.52 100.31h2v6h-2zM263.16 100.31h2v6h-2zM265.8 100.31h2v6h-2zM268.44 100.31h2v6h-2zM271.08 100.31h2v6h-2zM273.72 100.31h2v6h-2zM276.36 100.31h2v6h-2zM279 100.31h2v6h-2zM281.64 100.31h2v6h-2zM284.28 100.31h2v6h-2zM286.92 100.31h2v6h-2zM289.56 100.31h2v6h-2zM292.2 100.31h2v6h-2zM294.84 100.31h2v6h-2zM297.48 100.31h2v6h-2zM300.12 100.31h2v6h-2zM302.76 100.31h2v6h-2zM305.4 100.31h2v6h-2zM308.04 100.31h2v6h-2zM310.68 100.31h2v6h-2zM313.32 100.31h2v6h-2zM315.96 100.31h2v6h-2zM318.6 100.31h2v6h-2zM321.24 100.31h2v6h-2zM323.88 100.31h2v6h-2zM326.52 100.31h2v6h-2zM329.16 100.31h2v6h-2zM331.8 100.31h2v6h-2zM334.44 100.31h2v6h-2zM337.08 100.31h2v6h-2zM339.72 100.31h2v6h-2zM342.36 100.31h2v6h-2zM345 100.31h2v6h-2zM347.64 100.31h2v6h-2zM350.28 100.31h2v6h-2zM352.92 100.31h2v6h-2zM355.56 100.31h2v6h-2zM358.2 100.31h2v6h-2zM360.84 100.31h2v6h-2zM363.48 100.31h2v6h-2zM366.12 100.31h2v6h-2zM368.76 100.31h2v6h-2zM371.4 100.31h2v6h-2zM374.04 100.31h2v6h-2zM376.68 100.31h2v6h-2zM379.32 100.31h2v6h-2zM384.6 100.31h2v6h-2zM387.24 100.31h2v6h-2zM228.84 107.22h2v6h-2zM231.48 107.22h2v6h-2zM234.12 107.22h2v6h-2zM236.76 107.22h2v6h-2zM239.4 107.22h2v6h-2zM242.04 107.22h2v6h-2zM244.68 107.22h2v6h-2zM247.32 107.22h2v6h-2zM249.96 107.22h2v6h-2zM252.6 107.22h2v6h-2zM255.24 107.22h2v6h-2zM257.88 107.22h2v6h-2zM260.52 107.22h2v6h-2zM263.16 107.22h2v6h-2zM265.8 107.22h2v6h-2zM268.44 107.22h2v6h-2zM271.08 107.22h2v6h-2zM273.72 107.22h2v6h-2zM276.36 107.22h2v6h-2zM279 107.22h2v6h-2zM281.64 107.22h2v6h-2zM284.28 107.22h2v6h-2zM286.92 107.22h2v6h-2zM289.56 107.22h2v6h-2zM292.2 107.22h2v6h-2zM294.84 107.22h2v6h-2zM297.48 107.22h2v6h-2zM300.12 107.22h2v6h-2zM302.76 107.22h2v6h-2zM305.4 107.22h2v6h-2zM308.04 107.22h2v6h-2zM310.68 107.22h2v6h-2zM313.32 107.22h2v6h-2zM315.96 107.22h2v6h-2zM318.6 107.22h2v6h-2zM321.24 107.22h2v6h-2zM323.88 107.22h2v6h-2zM326.52 107.22h2v6h-2zM329.16 107.22h2v6h-2zM337.08 107.22h2v6h-2zM339.72 107.22h2v6h-2zM342.36 107.22h2v6h-2zM345 107.22h2v6h-2zM347.64 107.22h2v6h-2zM350.28 107.22h2v6h-2zM352.92 107.22h2v6h-2zM355.56 107.22h2v6h-2zM358.2 107.22h2v6h-2zM360.84 107.22h2v6h-2zM363.48 107.22h2v6h-2zM366.12 107.22h2v6h-2zM368.76 107.22h2v6h-2zM371.4 107.22h2v6h-2zM374.04 107.22h2v6h-2zM376.68 107.22h2v6h-2zM379.32 107.22h2v6h-2zM381.96 107.22h2v6h-2zM384.6 107.22h2v6h-2zM387.24 107.22h2v6h-2zM228.84 114.13h2v6h-2zM231.48 114.13h2v6h-2zM234.12 114.13h2v6h-2zM236.76 114.13h2v6h-2zM239.4 114.13h2v6h-2zM242.04 114.13h2v6h-2zM244.68 114.13h2v6h-2zM249.96 114.13h2v6h-2zM252.6 114.13h2v6h-2zM255.24 114.13h2v6h-2zM257.88 114.13h2v6h-2zM260.52 114.13h2v6h-2zM263.16 114.13h2v6h-2zM265.8 114.13h2v6h-2zM268.44 114.13h2v6h-2zM271.08 114.13h2v6h-2zM273.72 114.13h2v6h-2zM276.36 114.13h2v6h-2zM279 114.13h2v6h-2zM281.64 114.13h2v6h-2zM284.28 114.13h2v6h-2zM286.92 114.13h2v6h-2zM289.56 114.13h2v6h-2zM292.2 114.13h2v6h-2zM294.84 114.13h2v6h-2zM297.48 114.13h2v6h-2zM300.12 114.13h2v6h-2zM302.76 114.13h2v6h-2zM305.4 114.13h2v6h-2zM308.04 114.13h2v6h-2zM310.68 114.13h2v6h-2zM313.32 114.13h2v6h-2zM315.96 114.13h2v6h-2zM318.6 114.13h2v6h-2zM321.24 114.13h2v6h-2zM323.88 114.13h2v6h-2zM326.52 114.13h2v6h-2zM329.16 114.13h2v6h-2zM331.8 114.13h2v6h-2zM334.44 114.13h2v6h-2zM337.08 114.13h2v6h-2zM339.72 114.13h2v6h-2zM342.36 114.13h2v6h-2zM345 114.13h2v6h-2zM347.64 114.13h2v6h-2zM350.28 114.13h2v6h-2zM352.92 114.13h2v6h-2zM355.56 114.13h2v6h-2zM358.2 114.13h2v6h-2zM360.84 114.13h2v6h-2zM363.48 114.13h2v6h-2zM366.12 114.13h2v6h-2zM368.76 114.13h2v6h-2zM371.4 114.13h2v6h-2zM374.04 114.13h2v6h-2zM376.68 114.13h2v6h-2zM379.32 114.13h2v6h-2zM381.96 114.13h2v6h-2zM384.6 114.13h2v6h-2zM387.24 114.13h2v6h-2zM228.84 121.04h2v6h-2zM231.48 121.04h2v6h-2zM234.12 121.04h2v6h-2zM236.76 121.04h2v6h-2zM239.4 121.04h2v6h-2zM242.04 121.04h2v6h-2zM244.68 121.04h2v6h-2zM247.32 121.04h2v6h-2zM249.96 121.04h2v6h-2zM252.6 121.04h2v6h-2zM255.24 121.04h2v6h-2zM257.88 121.04h2v6h-2zM260.52 121.04h2v6h-2zM263.16 121.04h2v6h-2zM265.8 121.04h2v6h-2zM268.44 121.04h2v6h-2zM271.08 121.04h2v6h-2zM273.72 121.04h2v6h-2zM276.36 121.04h2v6h-2zM279 121.04h2v6h-2zM281.64 121.04h2v6h-2zM284.28 121.04h2v6h-2zM286.92 121.04h2v6h-2zM289.56 121.04h2v6h-2zM292.2 121.04h2v6h-2zM294.84 121.04h2v6h-2zM297.48 121.04h2v6h-2zM300.12 121.04h2v6h-2zM302.76 121.04h2v6h-2zM305.4 121.04h2v6h-2zM308.04 121.04h2v6h-2zM310.68 121.04h2v6h-2zM313.32 121.04h2v6h-2zM315.96 121.04h2v6h-2zM318.6 121.04h2v6h-2zM321.24 121.04h2v6h-2zM323.88 121.04h2v6h-2zM326.52 121.04h2v6h-2zM329.16 121.04h2v6h-2zM331.8 121.04h2v6h-2zM334.44 121.04h2v6h-2zM337.08 121.04h2v6h-2zM339.72 121.04h2v6h-2zM342.36 121.04h2v6h-2zM345 121.04h2v6h-2zM347.64 121.04h2v6h-2zM350.28 121.04h2v6h-2zM352.92 121.04h2v6h-2zM355.56 121.04h2v6h-2zM358.2 121.04h2v6h-2zM360.84 121.04h2v6h-2zM363.48 121.04h2v6h-2zM366.12 121.04h2v6h-2zM368.76 121.04h2v6h-2zM371.4 121.04h2v6h-2zM374.04 121.04h2v6h-2zM376.68 121.04h2v6h-2zM379.32 121.04h2v6h-2zM381.96 121.04h2v6h-2zM384.6 121.04h2v6h-2zM387.24 121.04h2v6h-2zM228.84 127.95h2v6h-2zM231.48 127.95h2v6h-2zM234.12 127.95h2v6h-2zM236.76 127.95h2v6h-2zM242.04 127.95h2v6h-2zM244.68 127.95h2v6h-2zM247.32 127.95h2v6h-2zM249.96 127.95h2v6h-2zM252.6 127.95h2v6h-2zM255.24 127.95h2v6h-2zM257.88 127.95h2v6h-2zM260.52 127.95h2v6h-2zM263.16 127.95h2v6h-2zM265.8 127.95h2v6h-2zM268.44 127.95h2v6h-2zM271.08 127.95h2v6h-2zM273.72 127.95h2v6h-2zM276.36 127.95h2v6h-2zM279 127.95h2v6h-2zM281.64 127.95h2v6h-2zM284.28 127.95h2v6h-2zM286.92 127.95h2v6h-2zM289.56 127.95h2v6h-2zM292.2 127.95h2v6h-2zM294.84 127.95h2v6h-2zM297.48 127.95h2v6h-2zM300.12 127.95h2v6h-2zM302.76 127.95h2v6h-2zM305.4 127.95h2v6h-2zM308.04 127.95h2v6h-2zM310.68 127.95h2v6h-2zM313.32 127.95h2v6h-2zM315.96 127.95h2v6h-2zM323.88 127.95h2v6h-2zM326.52 127.95h2v6h-2zM329.16 127.95h2v6h-2zM331.8 127.95h2v6h-2zM334.44 127.95h2v6h-2zM337.08 127.95h2v6h-2zM339.72 127.95h2v6h-2zM342.36 127.95h2v6h-2zM345 127.95h2v6h-2zM347.64 127.95h2v6h-2zM350.28 127.95h2v6h-2zM352.92 127.95h2v6h-2zM355.56 127.95h2v6h-2zM358.2 127.95h2v6h-2zM360.84 127.95h2v6h-2zM363.48 127.95h2v6h-2zM366.12 127.95h2v6h-2zM368.76 127.95h2v6h-2zM371.4 127.95h2v6h-2zM374.04 127.95h2v6h-2zM376.68 127.95h2v6h-2zM379.32 127.95h2v6h-2zM381.96 127.95h2v6h-2zM384.6 127.95h2v6h-2zM387.24 127.95h2v6h-2zM228.84 134.86h2v6h-2zM231.48 134.86h2v6h-2zM234.12 134.86h2v6h-2zM236.76 134.86h2v6h-2zM239.4 134.86h2v6h-2zM242.04 134.86h2v6h-2zM244.68 134.86h2v6h-2zM247.32 134.86h2v6h-2zM249.96 134.86h2v6h-2zM252.6 134.86h2v6h-2zM255.24 134.86h2v6h-2zM257.88 134.86h2v6h-2zM260.52 134.86h2v6h-2zM263.16 134.86h2v6h-2zM265.8 134.86h2v6h-2zM268.44 134.86h2v6h-2zM271.08 134.86h2v6h-2zM273.72 134.86h2v6h-2zM276.36 134.86h2v6h-2zM279 134.86h2v6h-2zM281.64 134.86h2v6h-2zM284.28 134.86h2v6h-2zM286.92 134.86h2v6h-2zM289.56 134.86h2v6h-2zM292.2 134.86h2v6h-2zM294.84 134.86h2v6h-2zM297.48 134.86h2v6h-2zM300.12 134.86h2v6h-2zM302.76 134.86h2v6h-2zM305.4 134.86h2v6h-2zM308.04 134.86h2v6h-2zM310.68 134.86h2v6h-2zM313.32 134.86h2v6h-2zM315.96 134.86h2v6h-2zM318.6 134.86h2v6h-2zM321.24 134.86h2v6h-2zM323.88 134.86h2v6h-2zM326.52 134.86h2v6h-2zM329.16 134.86h2v6h-2zM331.8 134.86h2v6h-2zM334.44 134.86h2v6h-2zM337.08 134.86h2v6h-2zM339.72 134.86h2v6h-2zM342.36 134.86h2v6h-2zM345 134.86h2v6h-2zM347.64 134.86h2v6h-2zM350.28 134.86h2v6h-2zM352.92 134.86h2v6h-2zM355.56 134.86h2v6h-2zM358.2 134.86h2v6h-2zM360.84 134.86h2v6h-2zM363.48 134.86h2v6h-2zM366.12 134.86h2v6h-2zM368.76 134.86h2v6h-2zM371.4 134.86h2v6h-2zM374.04 134.86h2v6h-2zM376.68 134.86h2v6h-2zM379.32 134.86h2v6h-2zM381.96 134.86h2v6h-2zM384.6 134.86h2v6h-2zM387.24 134.86h2v6h-2zM228.84 141.77h2v6h-2zM231.48 141.77h2v6h-2zM234.12 141.77h2v6h-2zM236.76 141.77h2v6h-2zM239.4 141.77h2v6h-2zM242.04 141.77h2v6h-2zM244.68 141.77h2v6h-2zM247.32 141.77h2v6h-2zM249.96 141.77h2v6h-2zM252.6 141.77h2v6h-2zM255.24 141.77h2v6h-2zM257.88 141.77h2v6h-2zM260.52 141.77h2v6h-2zM263.16 141.77h2v6h-2zM265.8 141.77h2v6h-2zM268.44 141.77h2v6h-2zM271.08 141.77h2v6h-2zM273.72 141.77h2v6h-2zM276.36 141.77h2v6h-2zM279 141.77h2v6h-2zM281.64 141.77h2v6h-2zM284.28 141.77h2v6h-2zM286.92 141.77h2v6h-2zM289.56 141.77h2v6h-2zM292.2 141.77h2v6h-2zM294.84 141.77h2v6h-2zM297.48 141.77h2v6h-2zM300.12 141.77h2v6h-2zM302.76 141.77h2v6h-2zM305.4 141.77h2v6h-2zM308.04 141.77h2v6h-2zM310.68 141.77h2v6h-2zM313.32 141.77h2v6h-2zM315.96 141.77h2v6h-2zM318.6 141.77h2v6h-2zM321.24 141.77h2v6h-2zM323.88 141.77h2v6h-2zM326.52 141.77h2v6h-2zM329.16 141.77h2v6h-2zM331.8 141.77h2v6h-2zM334.44 141.77h2v6h-2zM337.08 141.77h2v6h-2zM339.72 141.77h2v6h-2zM342.36 141.77h2v6h-2zM345 141.77h2v6h-2zM347.64 141.77h2v6h-2zM350.28 141.77h2v6h-2zM352.92 141.77h2v6h-2zM355.56 141.77h2v6h-2zM358.2 141.77h2v6h-2zM360.84 141.77h2v6h-2zM363.48 141.77h2v6h-2zM366.12 141.77h2v6h-2zM368.76 141.77h2v6h-2zM371.4 141.77h2v6h-2zM374.04 141.77h2v6h-2zM376.68 141.77h2v6h-2zM379.32 141.77h2v6h-2zM381.96 141.77h2v6h-2zM384.6 141.77h2v6h-2zM387.24 141.77h2v6h-2zM228.84 148.68h2v6h-2zM231.48 148.68h2v6h-2zM234.12 148.68h2v6h-2zM236.76 148.68h2v6h-2zM239.4 148.68h2v6h-2zM242.04 148.68h2v6h-2zM244.68 148.68h2v6h-2zM247.32 148.68h2v6h-2zM249.96 148.68h2v6h-2zM252.6 148.68h2v6h-2zM255.24 148.68h2v6h-2zM257.88 148.68h2v6h-2zM260.52 148.68h2v6h-2zM263.16 148.68h2v6h-2zM265.8 148.68h2v6h-2zM268.44 148.68h2v6h-2zM271.08 148.68h2v6h-2zM273.72 148.68h2v6h-2zM276.36 148.68h2v6h-2zM279 148.68h2v6h-2zM281.64 148.68h2v6h-2zM284.28 148.68h2v6h-2zM286.92 148.68h2v6h-2zM289.56 148.68h2v6h-2zM292.2 148.68h2v6h-2zM294.84 148.68h2v6h-2zM297.48 148.68h2v6h-2zM300.12 148.68h2v6h-2zM302.76 148.68h2v6h-2zM305.4 148.68h2v6h-2zM308.04 148.68h2v6h-2zM310.68 148.68h2v6h-2zM313.32 148.68h2v6h-2zM315.96 148.68h2v6h-2zM318.6 148.68h2v6h-2zM321.24 148.68h2v6h-2zM323.88 148.68h2v6h-2zM326.52 148.68h2v6h-2zM329.16 148.68h2v6h-2zM331.8 148.68h2v6h-2zM334.44 148.68h2v6h-2zM337.08 148.68h2v6h-2zM339.72 148.68h2v6h-2zM342.36 148.68h2v6h-2zM345 148.68h2v6h-2zM347.64 148.68h2v6h-2zM350.28 148.68h2v6h-2zM352.92 148.68h2v6h-2zM355.56 148.68h2v6h-2zM358.2 148.68h2v6h-2zM360.84 148.68h2v6h-2zM363.48 148.68h2v6h-2zM366.12 148.68h2v6h-2zM368.76 148.68h2v6h-2zM371.4 148.68h2v6h-2zM374.04 148.68h2v6h-2zM376.68 148.68h2v6h-2zM379.32 148.68h2v6h-2zM381.96 148.68h2v6h-2zM384.6 148.68h2v6h-2zM387.24 148.68h2v6h-2zM228.84 155.59h2v6h-2zM231.48 155.59h2v6h-2zM234.12 155.59h2v6h-2zM236.76 155.59h2v6h-2zM239.4 155.59h2v6h-2zM242.04 155.59h2v6h-2zM244.68 155.59h2v6h-2zM247.32 155.59h2v6h-2zM249.96 155.59h2v6h-2zM252.6 155.59h2v6h-2zM255.24 155.59h2v6h-2zM257.88 155.59h2v6h-2zM260.52 155.59h2v6h-2zM263.16 155.59h2v6h-2zM265.8 155.59h2v6h-2zM268.44 155.59h2v6h-2zM271.08 155.59h2v6h-2zM273.72 155.59h2v6h-2zM276.36 155.59h2v6h-2zM279 155.59h2v6h-2zM281.64 155.59h2v6h-2zM284.28 155.59h2v6h-2zM286.92 155.59h2v6h-2zM289.56 155.59h2v6h-2zM292.2 155.59h2v6h-2zM294.84 155.59h2v6h-2zM297.48 155.59h2v6h-2zM300.12 155.59h2v6h-2zM302.76 155.59h2v6h-2zM305.4 155.59h2v6h-2zM308.04 155.59h2v6h-2zM310.68 155.59h2v6h-2zM313.32 155.59h2v6h-2zM315.96 155.59h2v6h-2zM321.24 155.59h2v6h-2zM323.88 155.59h2v6h-2zM326.52 155.59h2v6h-2zM329.16 155.59h2v6h-2zM331.8 155.59h2v6h-2zM334.44 155.59h2v6h-2zM337.08 155.59h2v6h-2zM339.72 155.59h2v6h-2zM342.36 155.59h2v6h-2zM345 155.59h2v6h-2zM347.64 155.59h2v6h-2zM350.28 155.59h2v6h-2zM352.92 155.59h2v6h-2zM355.56 155.59h2v6h-2zM358.2 155.59h2v6h-2zM360.84 155.59h2v6h-2zM363.48 155.59h2v6h-2zM366.12 155.59h2v6h-2zM368.76 155.59h2v6h-2zM371.4 155.59h2v6h-2zM374.04 155.59h2v6h-2zM376.68 155.59h2v6h-2zM379.32 155.59h2v6h-2zM381.96 155.59h2v6h-2zM384.6 155.59h2v6h-2zM387.24 155.59h2v6h-2zM228.84 162.5h2v6h-2zM231.48 162.5h2v6h-2zM234.12 162.5h2v6h-2zM236.76 162.5h2v6h-2zM239.4 162.5h2v6h-2zM242.04 162.5h2v6h-2zM244.68 162.5h2v6h-2zM247.32 162.5h2v6h-2zM249.96 162.5h2v6h-2zM252.6 162.5h2v6h-2zM255.24 162.5h2v6h-2zM257.88 162.5h2v6h-2zM260.52 162.5h2v6h-2zM263.16 162.5h2v6h-2zM265.8 162.5h2v6h-2zM268.44 162.5h2v6h-2zM271.08 162.5h2v6h-2zM273.72 162.5h2v6h-2zM276.36 162.5h2v6h-2zM279 162.5h2v6h-2zM281.64 162.5h2v6h-2zM284.28 162.5h2v6h-2zM286.92 162.5h2v6h-2zM289.56 162.5h2v6h-2zM292.2 162.5h2v6h-2zM294.84 162.5h2v6h-2zM297.48 162.5h2v6h-2zM300.12 162.5h2v6h-2zM302.76 162.5h2v6h-2zM305.4 162.5h2v6h-2zM308.04 162.5h2v6h-2zM310.68 162.5h2v6h-2zM313.32 162.5h2v6h-2zM315.96 162.5h2v6h-2zM318.6 162.5h2v6h-2zM321.24 162.5h2v6h-2zM323.88 162.5h2v6h-2zM326.52 162.5h2v6h-2zM329.16 162.5h2v6h-2zM331.8 162.5h2v6h-2zM334.44 162.5h2v6h-2zM337.08 162.5h2v6h-2zM339.72 162.5h2v6h-2zM342.36 162.5h2v6h-2zM345 162.5h2v6h-2zM347.64 162.5h2v6h-2zM350.28 162.5h2v6h-2zM352.92 162.5h2v6h-2zM355.56 162.5h2v6h-2zM358.2 162.5h2v6h-2zM360.84 162.5h2v6h-2zM363.48 162.5h2v6h-2zM366.12 162.5h2v6h-2zM368.76 162.5h2v6h-2zM371.4 162.5h2v6h-2zM374.04 162.5h2v6h-2zM376.68 162.5h2v6h-2zM379.32 162.5h2v6h-2zM381.96 162.5h2v6h-2zM384.6 162.5h2v6h-2zM387.24 162.5h2v6h-2zM228.84 169.41h2v6h-2zM231.48 169.41h2v6h-2zM234.12 169.41h2v6h-2zM236.76 169.41h2v6h-2zM239.4 169.41h2v6h-2zM242.04 169.41h2v6h-2zM244.68 169.41h2v6h-2zM247.32 169.41h2v6h-2zM249.96 169.41h2v6h-2zM252.6 169.41h2v6h-2zM255.24 169.41h2v6h-2zM257.88 169.41h2v6h-2zM260.52 169.41h2v6h-2zM263.16 169.41h2v6h-2zM265.8 169.41h2v6h-2zM268.44 169.41h2v6h-2zM271.08 169.41h2v6h-2zM273.72 169.41h2v6h-2zM276.36 169.41h2v6h-2zM279 169.41h2v6h-2zM281.64 169.41h2v6h-2zM284.28 169.41h2v6h-2zM286.92 169.41h2v6h-2zM289.56 169.41h2v6h-2zM292.2 169.41h2v6h-2zM294.84 169.41h2v6h-2zM297.48 169.41h2v6h-2zM300.12 169.41h2v6h-2zM302.76 169.41h2v6h-2zM305.4 169.41h2v6h-2zM308.04 169.41h2v6h-2zM310.68 169.41h2v6h-2zM313.32 169.41h2v6h-2zM315.96 169.41h2v6h-2zM318.6 169.41h2v6h-2zM321.24 169.41h2v6h-2zM323.88 169.41h2v6h-2zM326.52 169.41h2v6h-2zM329.16 169.41h2v6h-2zM331.8 169.41h2v6h-2zM334.44 169.41h2v6h-2zM337.08 169.41h2v6h-2zM339.72 169.41h2v6h-2zM342.36 169.41h2v6h-2zM345 169.41h2v6h-2zM347.64 169.41h2v6h-2zM350.28 169.41h2v6h-2zM352.92 169.41h2v6h-2zM355.56 169.41h2v6h-2zM358.2 169.41h2v6h-2zM360.84 169.41h2v6h-2zM363.48 169.41h2v6h-2zM366.12 169.41h2v6h-2zM368.76 169.41h2v6h-2zM371.4 169.41h2v6h-2zM374.04 169.41h2v6h-2zM376.68 169.41h2v6h-2zM379.32 169.41h2v6h-2zM381.96 169.41h2v6h-2zM384.6 169.41h2v6h-2zM387.24 169.41h2v6h-2zM228.84 176.32h2v6h-2zM231.48 176.32h2v6h-2zM234.12 176.32h2v6h-2zM236.76 176.32h2v6h-2zM239.4 176.32h2v6h-2zM242.04 176.32h2v6h-2zM244.68 176.32h2v6h-2zM247.32 176.32h2v6h-2zM249.96 176.32h2v6h-2zM252.6 176.32h2v6h-2zM255.24 176.32h2v6h-2zM257.88 176.32h2v6h-2zM260.52 176.32h2v6h-2zM263.16 176.32h2v6h-2zM265.8 176.32h2v6h-2zM268.44 176.32h2v6h-2zM271.08 176.32h2v6h-2zM273.72 176.32h2v6h-2zM276.36 176.32h2v6h-2zM279 176.32h2v6h-2zM281.64 176.32h2v6h-2zM284.28 176.32h2v6h-2zM286.92 176.32h2v6h-2zM289.56 176.32h2v6h-2zM292.2 176.32h2v6h-2zM294.84 176.32h2v6h-2zM297.48 176.32h2v6h-2zM300.12 176.32h2v6h-2zM302.76 176.32h2v6h-2zM305.4 176.32h2v6h-2zM308.04 176.32h2v6h-2zM310.68 176.32h2v6h-2zM313.32 176.32h2v6h-2zM315.96 176.32h2v6h-2zM318.6 176.32h2v6h-2zM321.24 176.32h2v6h-2zM323.88 176.32h2v6h-2zM326.52 176.32h2v6h-2zM329.16 176.32h2v6h-2zM331.8 176.32h2v6h-2zM334.44 176.32h2v6h-2zM337.08 176.32h2v6h-2zM339.72 176.32h2v6h-2zM342.36 176.32h2v6h-2zM345 176.32h2v6h-2zM347.64 176.32h2v6h-2zM350.28 176.32h2v6h-2zM352.92 176.32h2v6h-2zM355.56 176.32h2v6h-2zM358.2 176.32h2v6h-2zM360.84 176.32h2v6h-2zM363.48 176.32h2v6h-2zM366.12 176.32h2v6h-2zM368.76 176.32h2v6h-2zM371.4 176.32h2v6h-2zM374.04 176.32h2v6h-2zM376.68 176.32h2v6h-2zM379.32 176.32h2v6h-2zM381.96 176.32h2v6h-2zM384.6 176.32h2v6h-2zM387.24 176.32h2v6h-2zM228.84 183.23h2v6h-2zM231.48 183.23h2v6h-2zM234.12 183.23h2v6h-2zM236.76 183.23h2v6h-2zM239.4 183.23h2v6h-2zM242.04 183.23h2v6h-2zM244.68 183.23h2v6h-2zM247.32 183.23h2v6h-2zM249.96 183.23h2v6h-2zM252.6 183.23h2v6h-2zM255.24 183.23h2v6h-2zM257.88 183.23h2v6h-2zM260.52 183.23h2v6h-2zM263.16 183.23h2v6h-2zM265.8 183.23h2v6h-2zM268.44 183.23h2v6h-2zM271.08 183.23h2v6h-2zM273.72 183.23h2v6h-2zM276.36 183.23h2v6h-2zM279 183.23h2v6h-2zM281.64 183.23h2v6h-2zM284.28 183.23h2v6h-2zM286.92 183.23h2v6h-2zM289.56 183.23h2v6h-2zM292.2 183.23h2v6h-2zM294.84 183.23h2v6h-2zM297.48 183.23h2v6h-2zM300.12 183.23h2v6h-2zM302.76 183.23h2v6h-2zM305.4 183.23h2v6h-2zM308.04 183.23h2v6h-2zM310.68 183.23h2v6h-2zM313.32 183.23h2v6h-2zM315.96 183.23h2v6h-2zM318.6 183.23h2v6h-2zM321.24 183.23h2v6h-2zM323.88 183.23h2v6h-2zM326.52 183.23h2v6h-2zM329.16 183.23h2v6h-2zM331.8 183.23h2v6h-2zM334.44 183.23h2v6h-2zM337.08 183.23h2v6h-2zM339.72 183.23h2v6h-2zM342.36 183.23h2v6h-2zM345 183.23h2v6h-2zM347.64 183.23h2v6h-2zM350.28 183.23h2v6h-2zM352.92 183.23h2v6h-2zM355.56 183.23h2v6h-2zM358.2 183.23h2v6h-2zM360.84 183.23h2v6h-2zM363.48 183.23h2v6h-2zM366.12 183.23h2v6h-2zM368.76 183.23h2v6h-2zM371.4 183.23h2v6h-2zM374.04 183.23h2v6h-2zM376.68 183.23h2v6h-2zM379.32 183.23h2v6h-2zM381.96 183.23h2v6h-2zM384.6 183.23h2v6h-2zM387.24 183.23h2v6h-2zM228.84 193.75h2v6h-2zM231.48 193.75h2v6h-2zM236.76 193.75h2v6h-2zM247.32 193.75h2v6h-2zM249.96 193.75h2v6h-2zM252.6 193.75h2v6h-2zM255.24 193.75h2v6h-2zM257.88 193.75h2v6h-2zM260.52 193.75h2v6h-2zM263.16 193.75h2v6h-2zM265.8 193.75h2v6h-2zM268.44 193.75h2v6h-2zM271.08 193.75h2v6h-2zM273.72 193.75h2v6h-2zM276.36 193.75h2v6h-2zM281.64 193.75h2v6h-2zM284.28 193.75h2v6h-2zM300.12 193.75h2v6h-2zM302.76 193.75h2v6h-2zM305.4 193.75h2v6h-2zM308.04 193.75h2v6h-2zM315.96 193.75h2v6h-2zM318.6 193.75h2v6h-2zM321.24 193.75h2v6h-2zM323.88 193.75h2v6h-2zM326.52 193.75h2v6h-2zM331.8 193.75h2v6h-2zM334.44 193.75h2v6h-2zM339.72 193.75h2v6h-2zM342.36 193.75h2v6h-2zM345 193.75h2v6h-2zM347.64 193.75h2v6h-2zM350.28 193.75h2v6h-2zM358.2 193.75h2v6h-2zM368.76 193.75h2v6h-2zM371.4 193.75h2v6h-2zM374.04 193.75h2v6h-2zM379.32 193.75h2v6h-2zM381.96 193.75h2v6h-2zM384.6 193.75h2v6h-2zM387.24 193.75h2v6h-2zM234.12 200.66h2v6h-2zM236.76 200.66h2v6h-2zM239.4 200.66h2v6h-2zM242.04 200.66h2v6h-2zM244.68 200.66h2v6h-2zM247.32 200.66h2v6h-2zM249.96 200.66h2v6h-2zM252.6 200.66h2v6h-2zM255.24 200.66h2v6h-2zM257.88 200.66h2v6h-2zM260.52 200.66h2v6h-2zM263.16 200.66h2v6h-2zM265.8 200.66h2v6h-2zM268.44 200.66h2v6h-2zM271.08 200.66h2v6h-2zM273.72 200.66h2v6h-2zM276.36 200.66h2v6h-2zM281.64 200.66h2v6h-2zM284.28 200.66h2v6h-2zM286.92 200.66h2v6h-2zM289.56 200.66h2v6h-2zM292.2 200.66h2v6h-2zM294.84 200.66h2v6h-2zM297.48 200.66h2v6h-2zM300.12 200.66h2v6h-2zM305.4 200.66h2v6h-2zM308.04 200.66h2v6h-2zM310.68 200.66h2v6h-2zM313.32 200.66h2v6h-2zM315.96 200.66h2v6h-2zM318.6 200.66h2v6h-2zM321.24 200.66h2v6h-2zM323.88 200.66h2v6h-2zM326.52 200.66h2v6h-2zM329.16 200.66h2v6h-2zM331.8 200.66h2v6h-2zM334.44 200.66h2v6h-2zM337.08 200.66h2v6h-2zM342.36 200.66h2v6h-2zM345 200.66h2v6h-2zM350.28 200.66h2v6h-2zM352.92 200.66h2v6h-2zM366.12 200.66h2v6h-2zM374.04 200.66h2v6h-2zM379.32 200.66h2v6h-2zM384.6 200.66h2v6h-2zM228.84 207.57h2v6h-2zM234.12 207.57h2v6h-2zM236.76 207.57h2v6h-2zM239.4 207.57h2v6h-2zM242.04 207.57h2v6h-2zM244.68 207.57h2v6h-2zM247.32 207.57h2v6h-2zM252.6 207.57h2v6h-2zM255.24 207.57h2v6h-2zM257.88 207.57h2v6h-2zM260.52 207.57h2v6h-2zM263.16 207.57h2v6h-2zM265.8 207.57h2v6h-2zM268.44 207.57h2v6h-2zM271.08 207.57h2v6h-2zM273.72 207.57h2v6h-2zM276.36 207.57h2v6h-2zM279 207.57h2v6h-2zM281.64 207.57h2v6h-2zM284.28 207.57h2v6h-2zM289.56 207.57h2v6h-2zM297.48 207.57h2v6h-2zM302.76 207.57h2v6h-2zM305.4 207.57h2v6h-2zM308.04 207.57h2v6h-2zM310.68 207.57h2v6h-2zM313.32 207.57h2v6h-2zM315.96 207.57h2v6h-2zM321.24 207.57h2v6h-2zM323.88 207.57h2v6h-2zM326.52 207.57h2v6h-2zM329.16 207.57h2v6h-2zM331.8 207.57h2v6h-2zM339.72 207.57h2v6h-2zM342.36 207.57h2v6h-2zM347.64 207.57h2v6h-2zM350.28 207.57h2v6h-2zM355.56 207.57h2v6h-2zM360.84 207.57h2v6h-2zM366.12 207.57h2v6h-2zM374.04 207.57h2v6h-2zM376.68 207.57h2v6h-2zM379.32 207.57h2v6h-2zM381.96 207.57h2v6h-2zM384.6 207.57h2v6h-2zM387.24 207.57h2v6h-2zM228.84 214.48h2v6h-2zM231.48 214.48h2v6h-2zM234.12 214.48h2v6h-2zM236.76 214.48h2v6h-2zM239.4 214.48h2v6h-2zM242.04 214.48h2v6h-2zM244.68 214.48h2v6h-2zM247.32 214.48h2v6h-2zM249.96 214.48h2v6h-2zM252.6 214.48h2v6h-2zM255.24 214.48h2v6h-2zM257.88 214.48h2v6h-2zM260.52 214.48h2v6h-2zM263.16 214.48h2v6h-2zM265.8 214.48h2v6h-2zM268.44 214.48h2v6h-2zM271.08 214.48h2v6h-2zM273.72 214.48h2v6h-2zM276.36 214.48h2v6h-2zM279 214.48h2v6h-2zM281.64 214.48h2v6h-2zM286.92 214.48h2v6h-2zM289.56 214.48h2v6h-2zM292.2 214.48h2v6h-2zM294.84 214.48h2v6h-2zM297.48 214.48h2v6h-2zM300.12 214.48h2v6h-2zM302.76 214.48h2v6h-2zM305.4 214.48h2v6h-2zM308.04 214.48h2v6h-2zM318.6 214.48h2v6h-2zM321.24 214.48h2v6h-2zM323.88 214.48h2v6h-2zM326.52 214.48h2v6h-2zM329.16 214.48h2v6h-2zM331.8 214.48h2v6h-2zM334.44 214.48h2v6h-2zM337.08 214.48h2v6h-2zM339.72 214.48h2v6h-2zM342.36 214.48h2v6h-2zM345 214.48h2v6h-2zM347.64 214.48h2v6h-2zM350.28 214.48h2v6h-2zM352.92 214.48h2v6h-2zM355.56 214.48h2v6h-2zM358.2 214.48h2v6h-2zM360.84 214.48h2v6h-2zM366.12 214.48h2v6h-2zM368.76 214.48h2v6h-2zM371.4 214.48h2v6h-2zM374.04 214.48h2v6h-2zM376.68 214.48h2v6h-2zM379.32 214.48h2v6h-2zM384.6 214.48h2v6h-2zM387.24 214.48h2v6h-2zM228.84 221.39h2v6h-2zM231.48 221.39h2v6h-2zM234.12 221.39h2v6h-2zM236.76 221.39h2v6h-2zM239.4 221.39h2v6h-2zM242.04 221.39h2v6h-2zM244.68 221.39h2v6h-2zM247.32 221.39h2v6h-2zM249.96 221.39h2v6h-2zM252.6 221.39h2v6h-2zM255.24 221.39h2v6h-2zM257.88 221.39h2v6h-2zM260.52 221.39h2v6h-2zM263.16 221.39h2v6h-2zM265.8 221.39h2v6h-2zM268.44 221.39h2v6h-2zM271.08 221.39h2v6h-2zM273.72 221.39h2v6h-2zM276.36 221.39h2v6h-2zM279 221.39h2v6h-2zM281.64 221.39h2v6h-2zM284.28 221.39h2v6h-2zM286.92 221.39h2v6h-2zM289.56 221.39h2v6h-2zM292.2 221.39h2v6h-2zM294.84 221.39h2v6h-2zM297.48 221.39h2v6h-2zM300.12 221.39h2v6h-2zM302.76 221.39h2v6h-2zM305.4 221.39h2v6h-2zM308.04 221.39h2v6h-2zM310.68 221.39h2v6h-2zM313.32 221.39h2v6h-2zM315.96 221.39h2v6h-2zM318.6 221.39h2v6h-2zM321.24 221.39h2v6h-2zM323.88 221.39h2v6h-2zM326.52 221.39h2v6h-2zM331.8 221.39h2v6h-2zM334.44 221.39h2v6h-2zM339.72 221.39h2v6h-2zM342.36 221.39h2v6h-2zM345 221.39h2v6h-2zM347.64 221.39h2v6h-2zM350.28 221.39h2v6h-2zM352.92 221.39h2v6h-2zM355.56 221.39h2v6h-2zM358.2 221.39h2v6h-2zM363.48 221.39h2v6h-2zM366.12 221.39h2v6h-2zM368.76 221.39h2v6h-2zM374.04 221.39h2v6h-2zM376.68 221.39h2v6h-2zM379.32 221.39h2v6h-2zM381.96 221.39h2v6h-2zM384.6 221.39h2v6h-2zM387.24 221.39h2v6h-2zM228.84 228.3h2v6h-2zM231.48 228.3h2v6h-2zM234.12 228.3h2v6h-2zM236.76 228.3h2v6h-2zM239.4 228.3h2v6h-2zM242.04 228.3h2v6h-2zM244.68 228.3h2v6h-2zM247.32 228.3h2v6h-2zM249.96 228.3h2v6h-2zM252.6 228.3h2v6h-2zM255.24 228.3h2v6h-2zM257.88 228.3h2v6h-2zM260.52 228.3h2v6h-2zM265.8 228.3h2v6h-2zM268.44 228.3h2v6h-2zM271.08 228.3h2v6h-2zM273.72 228.3h2v6h-2zM276.36 228.3h2v6h-2zM279 228.3h2v6h-2zM281.64 228.3h2v6h-2zM284.28 228.3h2v6h-2zM286.92 228.3h2v6h-2zM289.56 228.3h2v6h-2zM292.2 228.3h2v6h-2zM294.84 228.3h2v6h-2zM297.48 228.3h2v6h-2zM300.12 228.3h2v6h-2zM302.76 228.3h2v6h-2zM305.4 228.3h2v6h-2zM308.04 228.3h2v6h-2zM310.68 228.3h2v6h-2zM313.32 228.3h2v6h-2zM315.96 228.3h2v6h-2zM318.6 228.3h2v6h-2zM321.24 228.3h2v6h-2zM323.88 228.3h2v6h-2zM326.52 228.3h2v6h-2zM329.16 228.3h2v6h-2zM331.8 228.3h2v6h-2zM334.44 228.3h2v6h-2zM337.08 228.3h2v6h-2zM339.72 228.3h2v6h-2zM345 228.3h2v6h-2zM347.64 228.3h2v6h-2zM350.28 228.3h2v6h-2zM352.92 228.3h2v6h-2zM355.56 228.3h2v6h-2zM358.2 228.3h2v6h-2zM363.48 228.3h2v6h-2zM366.12 228.3h2v6h-2zM368.76 228.3h2v6h-2zM371.4 228.3h2v6h-2zM374.04 228.3h2v6h-2zM376.68 228.3h2v6h-2zM379.32 228.3h2v6h-2zM381.96 228.3h2v6h-2zM384.6 228.3h2v6h-2zM387.24 228.3h2v6h-2zM228.84 235.21h2v6h-2zM231.48 235.21h2v6h-2zM234.12 235.21h2v6h-2zM236.76 235.21h2v6h-2zM239.4 235.21h2v6h-2zM242.04 235.21h2v6h-2zM244.68 235.21h2v6h-2zM247.32 235.21h2v6h-2zM249.96 235.21h2v6h-2zM252.6 235.21h2v6h-2zM255.24 235.21h2v6h-2zM257.88 235.21h2v6h-2zM263.16 235.21h2v6h-2zM265.8 235.21h2v6h-2zM268.44 235.21h2v6h-2zM271.08 235.21h2v6h-2zM273.72 235.21h2v6h-2zM276.36 235.21h2v6h-2zM279 235.21h2v6h-2zM281.64 235.21h2v6h-2zM284.28 235.21h2v6h-2zM286.92 235.21h2v6h-2zM289.56 235.21h2v6h-2zM292.2 235.21h2v6h-2zM294.84 235.21h2v6h-2zM297.48 235.21h2v6h-2zM300.12 235.21h2v6h-2zM302.76 235.21h2v6h-2zM305.4 235.21h2v6h-2zM308.04 235.21h2v6h-2zM310.68 235.21h2v6h-2zM313.32 235.21h2v6h-2zM315.96 235.21h2v6h-2zM318.6 235.21h2v6h-2zM321.24 235.21h2v6h-2zM323.88 235.21h2v6h-2zM326.52 235.21h2v6h-2zM329.16 235.21h2v6h-2zM334.44 235.21h2v6h-2zM337.08 235.21h2v6h-2zM339.72 235.21h2v6h-2zM342.36 235.21h2v6h-2zM345 235.21h2v6h-2zM347.64 235.21h2v6h-2zM350.28 235.21h2v6h-2zM352.92 235.21h2v6h-2zM355.56 235.21h2v6h-2zM358.2 235.21h2v6h-2zM360.84 235.21h2v6h-2zM363.48 235.21h2v6h-2zM366.12 235.21h2v6h-2zM368.76 235.21h2v6h-2zM371.4 235.21h2v6h-2zM376.68 235.21h2v6h-2zM379.32 235.21h2v6h-2zM381.96 235.21h2v6h-2zM384.6 235.21h2v6h-2zM387.24 235.21h2v6h-2zM228.84 242.12h2v6h-2zM231.48 242.12h2v6h-2zM234.12 242.12h2v6h-2zM236.76 242.12h2v6h-2zM239.4 242.12h2v6h-2zM242.04 242.12h2v6h-2zM244.68 242.12h2v6h-2zM247.32 242.12h2v6h-2zM249.96 242.12h2v6h-2zM252.6 242.12h2v6h-2zM255.24 242.12h2v6h-2zM257.88 242.12h2v6h-2zM260.52 242.12h2v6h-2zM263.16 242.12h2v6h-2zM265.8 242.12h2v6h-2zM268.44 242.12h2v6h-2zM271.08 242.12h2v6h-2zM273.72 242.12h2v6h-2zM276.36 242.12h2v6h-2zM279 242.12h2v6h-2zM281.64 242.12h2v6h-2zM284.28 242.12h2v6h-2zM286.92 242.12h2v6h-2zM289.56 242.12h2v6h-2zM292.2 242.12h2v6h-2zM294.84 242.12h2v6h-2zM297.48 242.12h2v6h-2zM300.12 242.12h2v6h-2zM302.76 242.12h2v6h-2zM305.4 242.12h2v6h-2zM308.04 242.12h2v6h-2zM310.68 242.12h2v6h-2zM313.32 242.12h2v6h-2zM315.96 242.12h2v6h-2zM318.6 242.12h2v6h-2zM321.24 242.12h2v6h-2zM323.88 242.12h2v6h-2zM326.52 242.12h2v6h-2zM329.16 242.12h2v6h-2zM331.8 242.12h2v6h-2zM334.44 242.12h2v6h-2zM337.08 242.12h2v6h-2zM339.72 242.12h2v6h-2zM342.36 242.12h2v6h-2zM345 242.12h2v6h-2zM350.28 242.12h2v6h-2zM352.92 242.12h2v6h-2zM355.56 242.12h2v6h-2zM358.2 242.12h2v6h-2zM360.84 242.12h2v6h-2zM363.48 242.12h2v6h-2zM366.12 242.12h2v6h-2zM368.76 242.12h2v6h-2zM371.4 242.12h2v6h-2zM374.04 242.12h2v6h-2zM376.68 242.12h2v6h-2zM379.32 242.12h2v6h-2zM381.96 242.12h2v6h-2zM384.6 242.12h2v6h-2zM387.24 242.12h2v6h-2zM228.84 249.03h2v6h-2zM231.48 249.03h2v6h-2zM234.12 249.03h2v6h-2zM239.4 249.03h2v6h-2zM242.04 249.03h2v6h-2zM244.68 249.03h2v6h-2zM247.32 249.03h2v6h-2zM249.96 249.03h2v6h-2zM252.6 249.03h2v6h-2zM255.24 249.03h2v6h-2zM257.88 249.03h2v6h-2zM260.52 249.03h2v6h-2zM263.16 249.03h2v6h-2zM265.8 249.03h2v6h-2zM268.44 249.03h2v6h-2zM271.08 249.03h2v6h-2zM273.72 249.03h2v6h-2zM276.36 249.03h2v6h-2zM279 249.03h2v6h-2zM281.64 249.03h2v6h-2zM284.28 249.03h2v6h-2zM286.92 249.03h2v6h-2zM289.56 249.03h2v6h-2zM292.2 249.03h2v6h-2zM294.84 249.03h2v6h-2zM297.48 249.03h2v6h-2zM300.12 249.03h2v6h-2zM302.76 249.03h2v6h-2zM305.4 249.03h2v6h-2zM308.04 249.03h2v6h-2zM310.68 249.03h2v6h-2zM313.32 249.03h2v6h-2zM315.96 249.03h2v6h-2zM318.6 249.03h2v6h-2zM321.24 249.03h2v6h-2zM323.88 249.03h2v6h-2zM326.52 249.03h2v6h-2zM329.16 249.03h2v6h-2zM334.44 249.03h2v6h-2zM337.08 249.03h2v6h-2zM339.72 249.03h2v6h-2zM342.36 249.03h2v6h-2zM345 249.03h2v6h-2zM347.64 249.03h2v6h-2zM350.28 249.03h2v6h-2zM352.92 249.03h2v6h-2zM355.56 249.03h2v6h-2zM358.2 249.03h2v6h-2zM360.84 249.03h2v6h-2zM363.48 249.03h2v6h-2zM366.12 249.03h2v6h-2zM368.76 249.03h2v6h-2zM374.04 249.03h2v6h-2zM376.68 249.03h2v6h-2zM379.32 249.03h2v6h-2zM381.96 249.03h2v6h-2zM384.6 249.03h2v6h-2zM387.24 249.03h2v6h-2zM228.84 255.94h2v6h-2zM234.12 255.94h2v6h-2zM247.32 255.94h2v6h-2zM249.96 255.94h2v6h-2zM252.6 255.94h2v6h-2zM255.24 255.94h2v6h-2zM263.16 255.94h2v6h-2zM265.8 255.94h2v6h-2zM268.44 255.94h2v6h-2zM273.72 255.94h2v6h-2zM276.36 255.94h2v6h-2zM286.92 255.94h2v6h-2zM289.56 255.94h2v6h-2zM294.84 255.94h2v6h-2zM297.48 255.94h2v6h-2zM302.76 255.94h2v6h-2zM305.4 255.94h2v6h-2zM308.04 255.94h2v6h-2zM310.68 255.94h2v6h-2zM313.32 255.94h2v6h-2zM315.96 255.94h2v6h-2zM318.6 255.94h2v6h-2zM321.24 255.94h2v6h-2zM323.88 255.94h2v6h-2zM326.52 255.94h2v6h-2zM329.16 255.94h2v6h-2zM331.8 255.94h2v6h-2zM334.44 255.94h2v6h-2zM337.08 255.94h2v6h-2zM342.36 255.94h2v6h-2zM376.68 255.94h2v6h-2zM379.32 255.94h2v6h-2zM228.84 262.85h2v6h-2zM247.32 262.85h2v6h-2zM249.96 262.85h2v6h-2zM252.6 262.85h2v6h-2zM255.24 262.85h2v6h-2zM257.88 262.85h2v6h-2zM260.52 262.85h2v6h-2zM263.16 262.85h2v6h-2zM265.8 262.85h2v6h-2zM268.44 262.85h2v6h-2zM271.08 262.85h2v6h-2zM273.72 262.85h2v6h-2zM276.36 262.85h2v6h-2zM279 262.85h2v6h-2zM286.92 262.85h2v6h-2zM289.56 262.85h2v6h-2zM294.84 262.85h2v6h-2zM297.48 262.85h2v6h-2zM300.12 262.85h2v6h-2zM302.76 262.85h2v6h-2zM305.4 262.85h2v6h-2zM308.04 262.85h2v6h-2zM313.32 262.85h2v6h-2zM318.6 262.85h2v6h-2zM321.24 262.85h2v6h-2zM323.88 262.85h2v6h-2zM331.8 262.85h2v6h-2zM334.44 262.85h2v6h-2zM337.08 262.85h2v6h-2zM345 262.85h2v6h-2zM350.28 262.85h2v6h-2zM352.92 262.85h2v6h-2zM355.56 262.85h2v6h-2zM358.2 262.85h2v6h-2zM360.84 262.85h2v6h-2zM366.12 262.85h2v6h-2zM371.4 262.85h2v6h-2zM374.04 262.85h2v6h-2zM376.68 262.85h2v6h-2zM379.32 262.85h2v6h-2zM387.24 262.85h2v6h-2zM228.84 269.76h2v6h-2zM242.04 269.76h2v6h-2zM247.32 269.76h2v6h-2zM249.96 269.76h2v6h-2zM252.6 269.76h2v6h-2zM263.16 269.76h2v6h-2zM265.8 269.76h2v6h-2zM268.44 269.76h2v6h-2zM271.08 269.76h2v6h-2zM273.72 269.76h2v6h-2zM276.36 269.76h2v6h-2zM294.84 269.76h2v6h-2zM297.48 269.76h2v6h-2zM305.4 269.76h2v6h-2zM308.04 269.76h2v6h-2zM313.32 269.76h2v6h-2zM315.96 269.76h2v6h-2zM321.24 269.76h2v6h-2zM323.88 269.76h2v6h-2zM331.8 269.76h2v6h-2zM334.44 269.76h2v6h-2zM339.72 269.76h2v6h-2zM342.36 269.76h2v6h-2zM345 269.76h2v6h-2zM363.48 269.76h2v6h-2zM366.12 269.76h2v6h-2zM368.76 269.76h2v6h-2zM371.4 269.76h2v6h-2zM374.04 269.76h2v6h-2zM376.68 269.76h2v6h-2zM379.32 269.76h2v6h-2zM387.24 269.76h2v6h-2zM239.4 276.67h2v6h-2zM244.68 276.67h2v6h-2zM247.32 276.67h2v6h-2zM252.6 276.67h2v6h-2zM255.24 276.67h2v6h-2zM257.88 276.67h2v6h-2zM260.52 276.67h2v6h-2zM263.16 276.67h2v6h-2zM268.44 276.67h2v6h-2zM271.08 276.67h2v6h-2zM273.72 276.67h2v6h-2zM276.36 276.67h2v6h-2zM286.92 276.67h2v6h-2zM289.56 276.67h2v6h-2zM292.2 276.67h2v6h-2zM294.84 276.67h2v6h-2zM297.48 276.67h2v6h-2zM302.76 276.67h2v6h-2zM315.96 276.67h2v6h-2zM318.6 276.67h2v6h-2zM321.24 276.67h2v6h-2zM323.88 276.67h2v6h-2zM326.52 276.67h2v6h-2zM329.16 276.67h2v6h-2zM331.8 276.67h2v6h-2zM334.44 276.67h2v6h-2zM337.08 276.67h2v6h-2zM339.72 276.67h2v6h-2zM342.36 276.67h2v6h-2zM345 276.67h2v6h-2zM347.64 276.67h2v6h-2zM350.28 276.67h2v6h-2zM360.84 276.67h2v6h-2zM363.48 276.67h2v6h-2zM366.12 276.67h2v6h-2zM368.76 276.67h2v6h-2zM371.4 276.67h2v6h-2zM374.04 276.67h2v6h-2zM376.68 276.67h2v6h-2zM379.32 276.67h2v6h-2zM384.6 276.67h2v6h-2zM387.24 276.67h2v6h-2zM252.6 286.85h2v6h-2zM279 286.85h2v6h-2zM289.56 286.85h2v6h-2zM292.2 286.85h2v6h-2zM310.68 286.85h2v6h-2zM313.32 286.85h2v6h-2zM315.96 286.85h2v6h-2zM318.6 286.85h2v6h-2zM321.24 286.85h2v6h-2zM323.88 286.85h2v6h-2zM326.52 286.85h2v6h-2zM329.16 286.85h2v6h-2zM331.8 286.85h2v6h-2zM334.44 286.85h2v6h-2zM339.72 286.85h2v6h-2zM342.36 286.85h2v6h-2zM360.84 286.85h2v6h-2zM363.48 286.85h2v6h-2zM366.12 286.85h2v6h-2zM368.76 286.85h2v6h-2zM371.4 286.85h2v6h-2zM374.04 286.85h2v6h-2zM376.68 286.85h2v6h-2zM379.32 286.85h2v6h-2zM381.96 286.85h2v6h-2zM384.6 286.85h2v6h-2zM387.24 286.85h2v6h-2zM257.88 297.6h2v6h-2zM331.8 297.6h2v6h-2zM342.36 297.6h2v6h-2zM387.24 297.6h2v6h-2zM228.84 311.36h2v6h-2zM231.48 311.36h2v6h-2zM234.12 311.36h2v6h-2zM268.44 311.36h2v6h-2zM271.08 311.36h2v6h-2zM273.72 311.36h2v6h-2zM276.36 311.36h2v6h-2zM289.56 311.36h2v6h-2zM329.16 311.36h2v6h-2zM334.44 311.36h2v6h-2zM374.04 311.36h2v6h-2zM376.68 311.36h2v6h-2zM379.32 311.36h2v6h-2zM381.96 311.36h2v6h-2zM384.6 311.36h2v6h-2zM387.24 311.36h2v6h-2zM265.8 318.24h2v6h-2zM268.44 318.24h2v6h-2zM271.08 318.24h2v6h-2zM273.72 318.24h2v6h-2zM281.64 318.24h2v6h-2zM310.68 318.24h2v6h-2zM321.24 318.24h2v6h-2zM329.16 318.24h2v6h-2zM331.8 318.24h2v6h-2zM342.36 318.24h2v6h-2zM347.64 318.24h2v6h-2zM265.8 325.12h2v6h-2zM268.44 325.12h2v6h-2zM273.72 325.12h2v6h-2zM276.36 325.12h2v6h-2zM318.6 325.12h2v6h-2zM323.88 325.12h2v6h-2zM329.16 325.12h2v6h-2zM331.8 325.12h2v6h-2zM334.44 325.12h2v6h-2zM337.08 325.12h2v6h-2zM339.72 325.12h2v6h-2zM342.36 325.12h2v6h-2zM374.04 325.12h2v6h-2zM376.68 325.12h2v6h-2zM252.6 332h2v6h-2zM279 332h2v6h-2zM281.64 332h2v6h-2zM284.28 332h2v6h-2zM286.92 332h2v6h-2zM289.56 332h2v6h-2zM292.2 332h2v6h-2zM318.6 332h2v6h-2zM321.24 332h2v6h-2zM323.88 332h2v6h-2zM334.44 332h2v6h-2zM337.08 332h2v6h-2zM339.72 332h2v6h-2zM342.36 332h2v6h-2zM345 332h2v6h-2zM374.04 332h2v6h-2zM376.68 332h2v6h-2zM381.96 332h2v6h-2zM387.24 332h2v6h-2zM252.6 338.88h2v6h-2zM255.24 338.88h2v6h-2zM257.88 338.88h2v6h-2zM260.52 338.88h2v6h-2zM263.16 338.88h2v6h-2zM265.8 338.88h2v6h-2zM268.44 338.88h2v6h-2zM271.08 338.88h2v6h-2zM273.72 338.88h2v6h-2zM279 338.88h2v6h-2zM281.64 338.88h2v6h-2zM284.28 338.88h2v6h-2zM286.92 338.88h2v6h-2zM289.56 338.88h2v6h-2zM292.2 338.88h2v6h-2zM294.84 338.88h2v6h-2zM297.48 338.88h2v6h-2zM305.4 338.88h2v6h-2zM308.04 338.88h2v6h-2zM310.68 338.88h2v6h-2zM318.6 338.88h2v6h-2zM321.24 338.88h2v6h-2zM323.88 338.88h2v6h-2zM326.52 338.88h2v6h-2zM329.16 338.88h2v6h-2zM331.8 338.88h2v6h-2zM334.44 338.88h2v6h-2zM247.32 345.76h2v6h-2zM271.08 345.76h2v6h-2zM276.36 345.76h2v6h-2zM279 345.76h2v6h-2zM281.64 345.76h2v6h-2zM289.56 345.76h2v6h-2zM292.2 345.76h2v6h-2zM294.84 345.76h2v6h-2zM297.48 345.76h2v6h-2zM300.12 345.76h2v6h-2zM302.76 345.76h2v6h-2zM305.4 345.76h2v6h-2zM318.6 345.76h2v6h-2zM321.24 345.76h2v6h-2zM323.88 345.76h2v6h-2zM326.52 345.76h2v6h-2zM368.76 345.76h2v6h-2zM374.04 345.76h2v6h-2zM376.68 345.76h2v6h-2zM379.32 345.76h2v6h-2zM381.96 345.76h2v6h-2zM393.6 58.85h2v6h-2zM396.24 58.85h2v6h-2zM398.88 58.85h2v6h-2zM401.52 58.85h2v6h-2zM404.16 58.85h2v6h-2zM409.44 58.85h2v6h-2zM412.08 58.85h2v6h-2zM393.6 65.76h2v6h-2zM396.24 65.76h2v6h-2zM401.52 65.76h2v6h-2zM404.16 65.76h2v6h-2zM393.6 72.67h2v6h-2zM396.24 72.67h2v6h-2zM401.52 72.67h2v6h-2zM404.16 72.67h2v6h-2zM406.8 72.67h2v6h-2zM409.44 72.67h2v6h-2zM412.08 72.67h2v6h-2zM398.88 79.58h2v6h-2zM401.52 79.58h2v6h-2zM404.16 79.58h2v6h-2zM409.44 79.58h2v6h-2zM412.08 79.58h2v6h-2zM393.6 86.49h2v6h-2zM396.24 86.49h2v6h-2zM398.88 86.49h2v6h-2zM401.52 86.49h2v6h-2zM404.16 86.49h2v6h-2zM406.8 86.49h2v6h-2zM393.6 93.4h2v6h-2zM396.24 93.4h2v6h-2zM398.88 93.4h2v6h-2zM401.52 93.4h2v6h-2zM404.16 93.4h2v6h-2zM406.8 93.4h2v6h-2zM409.44 93.4h2v6h-2zM412.08 93.4h2v6h-2zM393.6 100.31h2v6h-2zM396.24 100.31h2v6h-2zM398.88 100.31h2v6h-2zM401.52 100.31h2v6h-2zM404.16 100.31h2v6h-2zM406.8 100.31h2v6h-2zM409.44 100.31h2v6h-2zM412.08 100.31h2v6h-2zM396.24 107.22h2v6h-2zM398.88 107.22h2v6h-2zM401.52 107.22h2v6h-2zM404.16 107.22h2v6h-2zM406.8 107.22h2v6h-2zM409.44 107.22h2v6h-2zM412.08 107.22h2v6h-2zM393.6 114.13h2v6h-2zM396.24 114.13h2v6h-2zM398.88 114.13h2v6h-2zM401.52 114.13h2v6h-2zM404.16 114.13h2v6h-2zM406.8 114.13h2v6h-2zM409.44 114.13h2v6h-2zM412.08 114.13h2v6h-2zM393.6 121.04h2v6h-2zM396.24 121.04h2v6h-2zM398.88 121.04h2v6h-2zM401.52 121.04h2v6h-2zM404.16 121.04h2v6h-2zM406.8 121.04h2v6h-2zM409.44 121.04h2v6h-2zM412.08 121.04h2v6h-2zM393.6 127.95h2v6h-2zM396.24 127.95h2v6h-2zM398.88 127.95h2v6h-2zM409.44 127.95h2v6h-2zM412.08 127.95h2v6h-2zM393.6 134.86h2v6h-2zM396.24 134.86h2v6h-2zM398.88 134.86h2v6h-2zM401.52 134.86h2v6h-2zM404.16 134.86h2v6h-2zM409.44 134.86h2v6h-2zM412.08 134.86h2v6h-2zM393.6 141.77h2v6h-2zM396.24 141.77h2v6h-2zM398.88 141.77h2v6h-2zM401.52 141.77h2v6h-2zM404.16 141.77h2v6h-2zM412.08 141.77h2v6h-2zM396.24 148.68h2v6h-2zM398.88 148.68h2v6h-2zM401.52 148.68h2v6h-2zM404.16 148.68h2v6h-2zM406.8 148.68h2v6h-2zM409.44 148.68h2v6h-2zM412.08 148.68h2v6h-2zM393.6 155.59h2v6h-2zM396.24 155.59h2v6h-2zM398.88 155.59h2v6h-2zM401.52 155.59h2v6h-2zM404.16 155.59h2v6h-2zM406.8 155.59h2v6h-2zM409.44 155.59h2v6h-2zM412.08 155.59h2v6h-2zM393.6 162.5h2v6h-2zM396.24 162.5h2v6h-2zM398.88 162.5h2v6h-2zM401.52 162.5h2v6h-2zM404.16 162.5h2v6h-2zM406.8 162.5h2v6h-2zM409.44 162.5h2v6h-2zM412.08 162.5h2v6h-2zM393.6 169.41h2v6h-2zM396.24 169.41h2v6h-2zM398.88 169.41h2v6h-2zM401.52 169.41h2v6h-2zM404.16 169.41h2v6h-2zM406.8 169.41h2v6h-2zM409.44 169.41h2v6h-2zM412.08 169.41h2v6h-2zM393.6 176.32h2v6h-2zM396.24 176.32h2v6h-2zM398.88 176.32h2v6h-2zM401.52 176.32h2v6h-2zM404.16 176.32h2v6h-2zM406.8 176.32h2v6h-2zM409.44 176.32h2v6h-2zM412.08 176.32h2v6h-2zM393.6 183.23h2v6h-2zM396.24 183.23h2v6h-2zM398.88 183.23h2v6h-2zM401.52 183.23h2v6h-2zM404.16 183.23h2v6h-2zM406.8 183.23h2v6h-2zM409.44 183.23h2v6h-2zM412.08 183.23h2v6h-2zM393.6 193.75h2v6h-2zM404.16 193.75h2v6h-2zM406.8 193.75h2v6h-2zM409.44 193.75h2v6h-2zM412.08 193.75h2v6h-2zM409.44 200.66h2v6h-2zM393.6 207.57h2v6h-2zM404.16 207.57h2v6h-2zM409.44 207.57h2v6h-2zM393.6 221.39h2v6h-2zM393.6 228.3h2v6h-2zM396.24 228.3h2v6h-2zM398.88 228.3h2v6h-2zM401.52 228.3h2v6h-2zM404.16 228.3h2v6h-2zM393.6 235.21h2v6h-2zM409.44 242.12h2v6h-2zM396.24 249.03h2v6h-2zM404.16 249.03h2v6h-2zM393.6 255.94h2v6h-2zM393.6 262.85h2v6h-2zM406.8 269.76h2v6h-2zM409.44 269.76h2v6h-2zM393.6 286.85h2v6h-2zM396.24 286.85h2v6h-2zM398.88 286.85h2v6h-2zM401.52 286.85h2v6h-2zM404.16 286.85h2v6h-2zM406.8 286.85h2v6h-2zM409.44 286.85h2v6h-2zM412.08 286.85h2v6h-2zM393.6 311.36h2v6h-2zM396.24 311.36h2v6h-2zM398.88 311.36h2v6h-2zM393.6 318.24h2v6h-2zM396.24 318.24h2v6h-2zM398.88 318.24h2v6h-2zM404.16 318.24h2v6h-2zM393.6 325.12h2v6h-2zM396.24 325.12h2v6h-2zM398.88 325.12h2v6h-2zM404.16 325.12h2v6h-2zM406.8 325.12h2v6h-2zM409.44 325.12h2v6h-2zM412.08 325.12h2v6h-2z"/>
<path fill="#fbe7a4" d="M84.23 58.85h2v6h-2zM121.21 79.58h2v6h-2zM152.92 114.13h2v6h-2zM155.56 193.75h2v6h-2zM97.44 200.66h2v6h-2zM89.51 269.76h2v6h-2zM142.35 269.76h2v6h-2zM126.5 276.67h2v6h-2zM97.44 286.85h2v6h-2zM121.21 286.85h2v6h-2zM142.35 286.85h2v6h-2zM152.92 286.85h2v6h-2zM155.56 286.85h2v6h-2zM84.23 297.6h2v6h-2zM86.87 297.6h2v6h-2zM97.44 297.6h2v6h-2zM110.65 297.6h2v6h-2zM144.99 297.6h2v6h-2zM84.23 304.48h2v6h-2zM86.87 304.48h2v6h-2zM118.57 304.48h2v6h-2zM129.14 304.48h2v6h-2zM121.21 311.36h2v6h-2zM123.86 311.36h2v6h-2zM84.23 318.24h2v6h-2zM86.87 318.24h2v6h-2zM126.5 318.24h2v6h-2zM144.99 318.24h2v6h-2zM152.92 318.24h2v6h-2zM86.87 325.12h2v6h-2zM89.51 325.12h2v6h-2zM97.44 325.12h2v6h-2zM123.86 325.12h2v6h-2zM158.2 325.12h2v6h-2zM142.35 332h2v6h-2zM152.92 332h2v6h-2zM158.2 332h2v6h-2zM163.49 332h2v6h-2zM86.87 345.76h2v6h-2zM94.79 345.76h2v6h-2zM152.92 345.76h2v6h-2zM155.56 345.76h2v6h-2zM158.2 345.76h2v6h-2zM160.84 345.76h2v6h-2zM163.49 345.76h2v6h-2zM183.13 58.85h2v6h-2zM220.19 58.85h2v6h-2zM169.9 65.76h2v6h-2zM175.19 65.76h2v6h-2zM177.84 65.76h2v6h-2zM180.49 65.76h2v6h-2zM188.43 65.76h2v6h-2zM191.08 65.76h2v6h-2zM193.72 65.76h2v6h-2zM196.37 65.76h2v6h-2zM201.66 65.76h2v6h-2zM204.31 65.76h2v6h-2zM206.96 65.76h2v6h-2zM209.61 65.76h2v6h-2zM169.9 72.67h2v6h-2zM183.13 72.67h2v6h-2zM185.78 72.67h2v6h-2zM196.37 72.67h2v6h-2zM201.66 72.67h2v6h-2zM209.61 72.67h2v6h-2zM214.9 72.67h2v6h-2zM220.19 72.67h2v6h-2zM185.78 79.58h2v6h-2zM196.37 79.58h2v6h-2zM214.9 79.58h2v6h-2zM169.9 86.49h2v6h-2zM183.13 86.49h2v6h-2zM191.08 86.49h2v6h-2zM193.72 86.49h2v6h-2zM204.31 86.49h2v6h-2zM206.96 86.49h2v6h-2zM214.9 86.49h2v6h-2zM172.55 93.4h2v6h-2zM188.43 93.4h2v6h-2zM191.08 93.4h2v6h-2zM193.72 93.4h2v6h-2zM199.02 93.4h2v6h-2zM209.61 93.4h2v6h-2zM214.9 93.4h2v6h-2zM191.08 100.31h2v6h-2zM201.66 100.31h2v6h-2zM214.9 100.31h2v6h-2zM220.19 107.22h2v6h-2zM204.31 114.13h2v6h-2zM209.61 114.13h2v6h-2zM217.55 114.13h2v6h-2zM204.31 121.04h2v6h-2zM206.96 121.04h2v6h-2zM209.61 121.04h2v6h-2zM214.9 121.04h2v6h-2zM220.19 134.86h2v6h-2zM188.43 193.75h2v6h-2zM191.08 193.75h2v6h-2zM196.37 193.75h2v6h-2zM183.13 200.66h2v6h-2zM191.08 200.66h2v6h-2zM193.72 200.66h2v6h-2zM196.37 200.66h2v6h-2zM199.02 200.66h2v6h-2zM201.66 200.66h2v6h-2zM206.96 200.66h2v6h-2zM209.61 200.66h2v6h-2zM214.9 200.66h2v6h-2zM214.9 207.57h2v6h-2zM177.84 214.48h2v6h-2zM185.78 214.48h2v6h-2zM183.13 228.3h2v6h-2zM169.9 235.21h2v6h-2zM209.61 235.21h2v6h-2zM220.19 249.03h2v6h-2zM175.19 262.85h2v6h-2zM188.43 262.85h2v6h-2zM191.08 262.85h2v6h-2zM193.72 262.85h2v6h-2zM196.37 262.85h2v6h-2zM214.9 262.85h2v6h-2zM169.9 269.76h2v6h-2zM177.84 269.76h2v6h-2zM180.49 269.76h2v6h-2zM204.31 269.76h2v6h-2zM214.9 269.76h2v6h-2zM175.19 276.67h2v6h-2zM204.31 276.67h2v6h-2zM220.19 276.67h2v6h-2zM196.37 286.85h2v6h-2zM199.02 286.85h2v6h-2zM204.31 286.85h2v6h-2zM209.61 286.85h2v6h-2zM169.9 297.6h2v6h-2zM175.19 297.6h2v6h-2zM180.49 297.6h2v6h-2zM188.43 297.6h2v6h-2zM191.08 297.6h2v6h-2zM196.37 297.6h2v6h-2zM201.66 297.6h2v6h-2zM204.31 297.6h2v6h-2zM214.9 297.6h2v6h-2zM175.19 304.48h2v6h-2zM201.66 304.48h2v6h-2zM204.31 304.48h2v6h-2zM214.9 304.48h2v6h-2zM169.9 311.36h2v6h-2zM175.19 311.36h2v6h-2zM177.84 311.36h2v6h-2zM180.49 311.36h2v6h-2zM183.13 311.36h2v6h-2zM188.43 311.36h2v6h-2zM191.08 311.36h2v6h-2zM193.72 311.36h2v6h-2zM199.02 311.36h2v6h-2zM201.66 311.36h2v6h-2zM204.31 311.36h2v6h-2zM206.96 311.36h2v6h-2zM214.9 311.36h2v6h-2zM220.19 311.36h2v6h-2zM169.9 318.24h2v6h-2zM172.55 318.24h2v6h-2zM175.19 318.24h2v6h-2zM177.84 318.24h2v6h-2zM183.13 318.24h2v6h-2zM185.78 318.24h2v6h-2zM191.08 318.24h2v6h-2zM193.72 318.24h2v6h-2zM196.37 318.24h2v6h-2zM199.02 318.24h2v6h-2zM201.66 318.24h2v6h-2zM204.31 318.24h2v6h-2zM206.96 318.24h2v6h-2zM209.61 318.24h2v6h-2zM214.9 318.24h2v6h-2zM172.55 325.12h2v6h-2zM177.84 325.12h2v6h-2zM180.49 325.12h2v6h-2zM185.78 325.12h2v6h-2zM188.43 325.12h2v6h-2zM191.08 325.12h2v6h-2zM193.72 325.12h2v6h-2zM199.02 325.12h2v6h-2zM201.66 325.12h2v6h-2zM204.31 325.12h2v6h-2zM209.61 325.12h2v6h-2zM214.9 325.12h2v6h-2zM220.19 325.12h2v6h-2zM175.19 338.88h2v6h-2zM180.49 338.88h2v6h-2zM185.78 338.88h2v6h-2zM214.9 338.88h2v6h-2zM169.9 345.76h2v6h-2zM172.55 345.76h2v6h-2zM175.19 345.76h2v6h-2zM177.84 345.76h2v6h-2zM180.49 345.76h2v6h-2zM183.13 345.76h2v6h-2zM188.43 345.76h2v6h-2zM191.08 345.76h2v6h-2zM193.72 345.76h2v6h-2zM204.31 345.76h2v6h-2zM206.96 345.76h2v6h-2zM209.61 345.76h2v6h-2zM214.9 345.76h2v6h-2zM358.2 58.85h2v6h-2zM368.76 58.85h2v6h-2zM286.92 65.76h2v6h-2zM289.56 65.76h2v6h-2zM315.96 65.76h2v6h-2zM337.08 65.76h2v6h-2zM350.28 65.76h2v6h-2zM358.2 65.76h2v6h-2zM234.12 72.67h2v6h-2zM236.76 72.67h2v6h-2zM239.4 72.67h2v6h-2zM242.04 72.67h2v6h-2zM244.68 72.67h2v6h-2zM247.32 72.67h2v6h-2zM249.96 72.67h2v6h-2zM252.6 72.67h2v6h-2zM255.24 72.67h2v6h-2zM257.88 72.67h2v6h-2zM273.72 72.67h2v6h-2zM294.84 72.67h2v6h-2zM329.16 72.67h2v6h-2zM347.64 72.67h2v6h-2zM363.48 72.67h2v6h-2zM366.12 72.67h2v6h-2zM374.04 72.67h2v6h-2zM281.64 79.58h2v6h-2zM321.24 79.58h2v6h-2zM360.84 79.58h2v6h-2zM384.6 79.58h2v6h-2zM249.96 86.49h2v6h-2zM326.52 86.49h2v6h-2zM337.08 86.49h2v6h-2zM234.12 93.4h2v6h-2zM273.72 93.4h2v6h-2zM366.12 93.4h2v6h-2zM381.96 100.31h2v6h-2zM331.8 107.22h2v6h-2zM247.32 114.13h2v6h-2zM318.6 155.59h2v6h-2zM234.12 193.75h2v6h-2zM242.04 193.75h2v6h-2zM244.68 193.75h2v6h-2zM286.92 193.75h2v6h-2zM292.2 193.75h2v6h-2zM297.48 193.75h2v6h-2zM310.68 193.75h2v6h-2zM313.32 193.75h2v6h-2zM329.16 193.75h2v6h-2zM352.92 193.75h2v6h-2zM355.56 193.75h2v6h-2zM360.84 193.75h2v6h-2zM363.48 193.75h2v6h-2zM366.12 193.75h2v6h-2zM231.48 200.66h2v6h-2zM279 200.66h2v6h-2zM302.76 200.66h2v6h-2zM339.72 200.66h2v6h-2zM347.64 200.66h2v6h-2zM355.56 200.66h2v6h-2zM358.2 200.66h2v6h-2zM360.84 200.66h2v6h-2zM368.76 200.66h2v6h-2zM371.4 200.66h2v6h-2zM376.68 200.66h2v6h-2zM387.24 200.66h2v6h-2zM231.48 207.57h2v6h-2zM249.96 207.57h2v6h-2zM286.92 207.57h2v6h-2zM292.2 207.57h2v6h-2zM294.84 207.57h2v6h-2zM300.12 207.57h2v6h-2zM318.6 207.57h2v6h-2zM337.08 207.57h2v6h-2zM352.92 207.57h2v6h-2zM358.2 207.57h2v6h-2zM363.48 207.57h2v6h-2zM368.76 207.57h2v6h-2zM371.4 207.57h2v6h-2zM284.28 214.48h2v6h-2zM313.32 214.48h2v6h-2zM315.96 214.48h2v6h-2zM363.48 214.48h2v6h-2zM381.96 214.48h2v6h-2zM329.16 221.39h2v6h-2zM337.08 221.39h2v6h-2zM360.84 221.39h2v6h-2zM371.4 221.39h2v6h-2zM263.16 228.3h2v6h-2zM342.36 228.3h2v6h-2zM260.52 235.21h2v6h-2zM331.8 235.21h2v6h-2zM231.48 255.94h2v6h-2zM236.76 255.94h2v6h-2zM242.04 255.94h2v6h-2zM257.88 255.94h2v6h-2zM260.52 255.94h2v6h-2zM281.64 255.94h2v6h-2zM284.28 255.94h2v6h-2zM292.2 255.94h2v6h-2zM300.12 255.94h2v6h-2zM339.72 255.94h2v6h-2zM350.28 255.94h2v6h-2zM352.92 255.94h2v6h-2zM358.2 255.94h2v6h-2zM360.84 255.94h2v6h-2zM363.48 255.94h2v6h-2zM368.76 255.94h2v6h-2zM371.4 255.94h2v6h-2zM374.04 255.94h2v6h-2zM381.96 255.94h2v6h-2zM387.24 255.94h2v6h-2zM231.48 262.85h2v6h-2zM239.4 262.85h2v6h-2zM242.04 262.85h2v6h-2zM281.64 262.85h2v6h-2zM284.28 262.85h2v6h-2zM292.2 262.85h2v6h-2zM315.96 262.85h2v6h-2zM326.52 262.85h2v6h-2zM329.16 262.85h2v6h-2zM339.72 262.85h2v6h-2zM347.64 262.85h2v6h-2zM363.48 262.85h2v6h-2zM368.76 262.85h2v6h-2zM381.96 262.85h2v6h-2zM231.48 269.76h2v6h-2zM236.76 269.76h2v6h-2zM239.4 269.76h2v6h-2zM244.68 269.76h2v6h-2zM255.24 269.76h2v6h-2zM260.52 269.76h2v6h-2zM279 269.76h2v6h-2zM281.64 269.76h2v6h-2zM284.28 269.76h2v6h-2zM286.92 269.76h2v6h-2zM289.56 269.76h2v6h-2zM300.12 269.76h2v6h-2zM302.76 269.76h2v6h-2zM310.68 269.76h2v6h-2zM318.6 269.76h2v6h-2zM326.52 269.76h2v6h-2zM329.16 269.76h2v6h-2zM337.08 269.76h2v6h-2zM347.64 269.76h2v6h-2zM350.28 269.76h2v6h-2zM355.56 269.76h2v6h-2zM360.84 269.76h2v6h-2zM381.96 269.76h2v6h-2zM228.84 276.67h2v6h-2zM231.48 276.67h2v6h-2zM234.12 276.67h2v6h-2zM236.76 276.67h2v6h-2zM242.04 276.67h2v6h-2zM249.96 276.67h2v6h-2zM265.8 276.67h2v6h-2zM279 276.67h2v6h-2zM281.64 276.67h2v6h-2zM300.12 276.67h2v6h-2zM305.4 276.67h2v6h-2zM308.04 276.67h2v6h-2zM310.68 276.67h2v6h-2zM313.32 276.67h2v6h-2zM352.92 276.67h2v6h-2zM355.56 276.67h2v6h-2zM358.2 276.67h2v6h-2zM381.96 276.67h2v6h-2zM228.84 286.85h2v6h-2zM247.32 286.85h2v6h-2zM249.96 286.85h2v6h-2zM255.24 286.85h2v6h-2zM257.88 286.85h2v6h-2zM268.44 286.85h2v6h-2zM273.72 286.85h2v6h-2zM281.64 286.85h2v6h-2zM286.92 286.85h2v6h-2zM294.84 286.85h2v6h-2zM300.12 286.85h2v6h-2zM305.4 286.85h2v6h-2zM337.08 286.85h2v6h-2zM228.84 297.6h2v6h-2zM234.12 297.6h2v6h-2zM239.4 297.6h2v6h-2zM242.04 297.6h2v6h-2zM249.96 297.6h2v6h-2zM252.6 297.6h2v6h-2zM255.24 297.6h2v6h-2zM260.52 297.6h2v6h-2zM263.16 297.6h2v6h-2zM265.8 297.6h2v6h-2zM268.44 297.6h2v6h-2zM273.72 297.6h2v6h-2zM276.36 297.6h2v6h-2zM279 297.6h2v6h-2zM281.64 297.6h2v6h-2zM286.92 297.6h2v6h-2zM289.56 297.6h2v6h-2zM300.12 297.6h2v6h-2zM302.76 297.6h2v6h-2zM305.4 297.6h2v6h-2zM308.04 297.6h2v6h-2zM310.68 297.6h2v6h-2zM313.32 297.6h2v6h-2zM323.88 297.6h2v6h-2zM326.52 297.6h2v6h-2zM329.16 297.6h2v6h-2zM334.44 297.6h2v6h-2zM337.08 297.6h2v6h-2zM350.28 297.6h2v6h-2zM352.92 297.6h2v6h-2zM358.2 297.6h2v6h-2zM374.04 297.6h2v6h-2zM376.68 297.6h2v6h-2zM239.4 304.48h2v6h-2zM252.6 304.48h2v6h-2zM260.52 304.48h2v6h-2zM263.16 304.48h2v6h-2zM265.8 304.48h2v6h-2zM268.44 304.48h2v6h-2zM273.72 304.48h2v6h-2zM289.56 304.48h2v6h-2zM297.48 304.48h2v6h-2zM305.4 304.48h2v6h-2zM310.68 304.48h2v6h-2zM315.96 304.48h2v6h-2zM326.52 304.48h2v6h-2zM329.16 304.48h2v6h-2zM334.44 304.48h2v6h-2zM337.08 304.48h2v6h-2zM342.36 304.48h2v6h-2zM352.92 304.48h2v6h-2zM360.84 304.48h2v6h-2zM374.04 304.48h2v6h-2zM376.68 304.48h2v6h-2zM236.76 311.36h2v6h-2zM242.04 311.36h2v6h-2zM244.68 311.36h2v6h-2zM247.32 311.36h2v6h-2zM249.96 311.36h2v6h-2zM252.6 311.36h2v6h-2zM255.24 311.36h2v6h-2zM257.88 311.36h2v6h-2zM260.52 311.36h2v6h-2zM263.16 311.36h2v6h-2zM265.8 311.36h2v6h-2zM279 311.36h2v6h-2zM281.64 311.36h2v6h-2zM284.28 311.36h2v6h-2zM286.92 311.36h2v6h-2zM292.2 311.36h2v6h-2zM294.84 311.36h2v6h-2zM297.48 311.36h2v6h-2zM300.12 311.36h2v6h-2zM302.76 311.36h2v6h-2zM305.4 311.36h2v6h-2zM308.04 311.36h2v6h-2zM310.68 311.36h2v6h-2zM313.32 311.36h2v6h-2zM315.96 311.36h2v6h-2zM318.6 311.36h2v6h-2zM321.24 311.36h2v6h-2zM326.52 311.36h2v6h-2zM331.8 311.36h2v6h-2zM337.08 311.36h2v6h-2zM342.36 311.36h2v6h-2zM347.64 311.36h2v6h-2zM350.28 311.36h2v6h-2zM352.92 311.36h2v6h-2zM355.56 311.36h2v6h-2zM358.2 311.36h2v6h-2zM360.84 311.36h2v6h-2zM363.48 311.36h2v6h-2zM366.12 311.36h2v6h-2zM368.76 311.36h2v6h-2zM371.4 311.36h2v6h-2zM228.84 318.24h2v6h-2zM231.48 318.24h2v6h-2zM234.12 318.24h2v6h-2zM236.76 318.24h2v6h-2zM239.4 318.24h2v6h-2zM242.04 318.24h2v6h-2zM244.68 318.24h2v6h-2zM247.32 318.24h2v6h-2zM249.96 318.24h2v6h-2zM252.6 318.24h2v6h-2zM255.24 318.24h2v6h-2zM257.88 318.24h2v6h-2zM260.52 318.24h2v6h-2zM263.16 318.24h2v6h-2zM276.36 318.24h2v6h-2zM279 318.24h2v6h-2zM284.28 318.24h2v6h-2zM286.92 318.24h2v6h-2zM292.2 318.24h2v6h-2zM294.84 318.24h2v6h-2zM297.48 318.24h2v6h-2zM300.12 318.24h2v6h-2zM302.76 318.24h2v6h-2zM305.4 318.24h2v6h-2zM308.04 318.24h2v6h-2zM313.32 318.24h2v6h-2zM315.96 318.24h2v6h-2zM318.6 318.24h2v6h-2zM326.52 318.24h2v6h-2zM337.08 318.24h2v6h-2zM339.72 318.24h2v6h-2zM350.28 318.24h2v6h-2zM355.56 318.24h2v6h-2zM358.2 318.24h2v6h-2zM363.48 318.24h2v6h-2zM366.12 318.24h2v6h-2zM368.76 318.24h2v6h-2zM371.4 318.24h2v6h-2zM374.04 318.24h2v6h-2zM376.68 318.24h2v6h-2zM381.96 318.24h2v6h-2zM384.6 318.24h2v6h-2zM387.24 318.24h2v6h-2zM228.84 325.12h2v6h-2zM231.48 325.12h2v6h-2zM234.12 325.12h2v6h-2zM236.76 325.12h2v6h-2zM239.4 325.12h2v6h-2zM242.04 325.12h2v6h-2zM244.68 325.12h2v6h-2zM247.32 325.12h2v6h-2zM249.96 325.12h2v6h-2zM252.6 325.12h2v6h-2zM255.24 325.12h2v6h-2zM257.88 325.12h2v6h-2zM260.52 325.12h2v6h-2zM263.16 325.12h2v6h-2zM279 325.12h2v6h-2zM281.64 325.12h2v6h-2zM284.28 325.12h2v6h-2zM286.92 325.12h2v6h-2zM289.56 325.12h2v6h-2zM292.2 325.12h2v6h-2zM294.84 325.12h2v6h-2zM297.48 325.12h2v6h-2zM300.12 325.12h2v6h-2zM302.76 325.12h2v6h-2zM305.4 325.12h2v6h-2zM308.04 325.12h2v6h-2zM310.68 325.12h2v6h-2zM313.32 325.12h2v6h-2zM315.96 325.12h2v6h-2zM321.24 325.12h2v6h-2zM326.52 325.12h2v6h-2zM350.28 325.12h2v6h-2zM352.92 325.12h2v6h-2zM358.2 325.12h2v6h-2zM360.84 325.12h2v6h-2zM363.48 325.12h2v6h-2zM366.12 325.12h2v6h-2zM368.76 325.12h2v6h-2zM379.32 325.12h2v6h-2zM381.96 325.12h2v6h-2zM384.6 325.12h2v6h-2zM387.24 325.12h2v6h-2zM228.84 332h2v6h-2zM231.48 332h2v6h-2zM239.4 332h2v6h-2zM242.04 332h2v6h-2zM247.32 332h2v6h-2zM249.96 332h2v6h-2zM257.88 332h2v6h-2zM260.52 332h2v6h-2zM265.8 332h2v6h-2zM268.44 332h2v6h-2zM294.84 332h2v6h-2zM297.48 332h2v6h-2zM302.76 332h2v6h-2zM305.4 332h2v6h-2zM310.68 332h2v6h-2zM313.32 332h2v6h-2zM315.96 332h2v6h-2zM326.52 332h2v6h-2zM331.8 332h2v6h-2zM347.64 332h2v6h-2zM352.92 332h2v6h-2zM358.2 332h2v6h-2zM371.4 332h2v6h-2zM379.32 332h2v6h-2zM384.6 332h2v6h-2zM228.84 338.88h2v6h-2zM231.48 338.88h2v6h-2zM234.12 338.88h2v6h-2zM236.76 338.88h2v6h-2zM239.4 338.88h2v6h-2zM242.04 338.88h2v6h-2zM247.32 338.88h2v6h-2zM249.96 338.88h2v6h-2zM276.36 338.88h2v6h-2zM300.12 338.88h2v6h-2zM302.76 338.88h2v6h-2zM313.32 338.88h2v6h-2zM315.96 338.88h2v6h-2zM337.08 338.88h2v6h-2zM339.72 338.88h2v6h-2zM347.64 338.88h2v6h-2zM350.28 338.88h2v6h-2zM352.92 338.88h2v6h-2zM358.2 338.88h2v6h-2zM371.4 338.88h2v6h-2zM374.04 338.88h2v6h-2zM384.6 338.88h2v6h-2zM387.24 338.88h2v6h-2zM228.84 345.76h2v6h-2zM234.12 345.76h2v6h-2zM236.76 345.76h2v6h-2zM239.4 345.76h2v6h-2zM242.04 345.76h2v6h-2zM244.68 345.76h2v6h-2zM249.96 345.76h2v6h-2zM252.6 345.76h2v6h-2zM255.24 345.76h2v6h-2zM257.88 345.76h2v6h-2zM263.16 345.76h2v6h-2zM265.8 345.76h2v6h-2zM268.44 345.76h2v6h-2zM273.72 345.76h2v6h-2zM284.28 345.76h2v6h-2zM308.04 345.76h2v6h-2zM310.68 345.76h2v6h-2zM313.32 345.76h2v6h-2zM315.96 345.76h2v6h-2zM329.16 345.76h2v6h-2zM339.72 345.76h2v6h-2zM347.64 345.76h2v6h-2zM350.28 345.76h2v6h-2zM352.92 345.76h2v6h-2zM358.2 345.76h2v6h-2zM363.48 345.76h2v6h-2zM366.12 345.76h2v6h-2zM371.4 345.76h2v6h-2zM384.6 345.76h2v6h-2zM387.24 345.76h2v6h-2zM398.88 65.76h2v6h-2zM398.88 72.67h2v6h-2zM396.24 79.58h2v6h-2zM409.44 86.49h2v6h-2zM412.08 86.49h2v6h-2zM401.52 127.95h2v6h-2zM404.16 127.95h2v6h-2zM406.8 134.86h2v6h-2zM406.8 141.77h2v6h-2zM409.44 141.77h2v6h-2zM393.6 148.68h2v6h-2zM396.24 193.75h2v6h-2zM401.52 193.75h2v6h-2zM398.88 200.66h2v6h-2zM396.24 207.57h2v6h-2zM398.88 207.57h2v6h-2zM401.52 207.57h2v6h-2zM412.08 207.57h2v6h-2zM398.88 214.48h2v6h-2zM404.16 214.48h2v6h-2zM398.88 221.39h2v6h-2zM404.16 221.39h2v6h-2zM409.44 221.39h2v6h-2zM406.8 228.3h2v6h-2zM412.08 228.3h2v6h-2zM396.24 235.21h2v6h-2zM401.52 235.21h2v6h-2zM404.16 235.21h2v6h-2zM409.44 235.21h2v6h-2zM396.24 242.12h2v6h-2zM406.8 242.12h2v6h-2zM406.8 255.94h2v6h-2zM409.44 255.94h2v6h-2zM396.24 262.85h2v6h-2zM398.88 262.85h2v6h-2zM401.52 262.85h2v6h-2zM409.44 262.85h2v6h-2zM412.08 262.85h2v6h-2zM396.24 269.76h2v6h-2zM398.88 269.76h2v6h-2zM401.52 269.76h2v6h-2zM412.08 269.76h2v6h-2zM396.24 276.67h2v6h-2zM398.88 276.67h2v6h-2zM401.52 276.67h2v6h-2zM404.16 276.67h2v6h-2zM406.8 276.67h2v6h-2zM412.08 276.67h2v6h-2zM398.88 297.6h2v6h-2zM398.88 304.48h2v6h-2zM409.44 304.48h2v6h-2zM401.52 311.36h2v6h-2zM404.16 311.36h2v6h-2zM401.52 318.24h2v6h-2zM406.8 318.24h2v6h-2zM409.44 318.24h2v6h-2zM412.08 318.24h2v6h-2zM401.52 325.12h2v6h-2zM409.44 332h2v6h-2zM396.24 338.88h2v6h-2zM401.52 338.88h2v6h-2zM409.44 338.88h2v6h-2zM396.24 345.76h2v6h-2zM401.52 345.76h2v6h-2zM409.44 345.76h2v6h-2z"/>
<path fill="#dc5a3a" d="M144.99 58.85h2v6h-2z"/>
<path fill="#c4282b" d="M134.42 79.58h2v6h-2zM76.3 93.4h2v6h-2zM81.58 100.31h2v6h-2zM76.3 193.75h2v6h-2zM78.94 193.75h2v6h-2zM81.58 193.75h2v6h-2zM76.3 214.48h2v6h-2zM76.3 221.39h2v6h-2zM78.94 276.67h2v6h-2zM81.58 276.67h2v6h-2zM81.58 286.85h2v6h-2zM92.15 286.85h2v6h-2zM131.78 286.85h2v6h-2zM134.42 286.85h2v6h-2zM137.07 286.85h2v6h-2zM150.28 297.6h2v6h-2zM113.29 304.48h2v6h-2zM137.07 304.48h2v6h-2zM134.42 311.36h2v6h-2zM92.15 325.12h2v6h-2zM76.3 332h2v6h-2zM134.42 332h2v6h-2zM137.07 332h2v6h-2zM147.63 332h2v6h-2zM150.28 332h2v6h-2zM78.94 338.88h2v6h-2zM81.58 345.76h2v6h-2zM92.15 345.76h2v6h-2zM172.55 58.85h2v6h-2zM180.49 58.85h2v6h-2zM199.02 58.85h2v6h-2zM201.66 58.85h2v6h-2zM209.61 58.85h2v6h-2zM212.25 58.85h2v6h-2zM214.9 58.85h2v6h-2zM217.55 58.85h2v6h-2zM212.25 65.76h2v6h-2zM217.55 65.76h2v6h-2zM217.55 72.67h2v6h-2zM212.25 79.58h2v6h-2zM212.25 207.57h2v6h-2zM217.55 207.57h2v6h-2zM217.55 214.48h2v6h-2zM217.55 228.3h2v6h-2zM217.55 235.21h2v6h-2zM217.55 269.76h2v6h-2zM212.25 297.6h2v6h-2zM217.55 297.6h2v6h-2zM212.25 304.48h2v6h-2zM217.55 304.48h2v6h-2zM212.25 311.36h2v6h-2zM217.55 311.36h2v6h-2zM212.25 318.24h2v6h-2zM217.55 318.24h2v6h-2zM212.25 325.12h2v6h-2zM185.78 332h2v6h-2zM212.25 332h2v6h-2zM217.55 332h2v6h-2zM212.25 338.88h2v6h-2zM212.25 345.76h2v6h-2zM217.55 345.76h2v6h-2zM276.36 58.85h2v6h-2zM334.44 72.67h2v6h-2zM334.44 107.22h2v6h-2zM334.44 207.57h2v6h-2zM345 207.57h2v6h-2zM271.08 255.94h2v6h-2zM345 255.94h2v6h-2zM271.08 286.85h2v6h-2zM345 286.85h2v6h-2zM271.08 297.6h2v6h-2zM321.24 297.6h2v6h-2zM345 297.6h2v6h-2zM271.08 304.48h2v6h-2zM323.88 304.48h2v6h-2zM331.8 304.48h2v6h-2zM345 304.48h2v6h-2zM323.88 311.36h2v6h-2zM345 311.36h2v6h-2zM323.88 318.24h2v6h-2zM334.44 318.24h2v6h-2zM345 318.24h2v6h-2zM345 325.12h2v6h-2zM271.08 332h2v6h-2zM345 338.88h2v6h-2zM331.8 345.76h2v6h-2zM345 345.76h2v6h-2zM393.6 79.58h2v6h-2zM393.6 107.22h2v6h-2zM393.6 200.66h2v6h-2zM393.6 214.48h2v6h-2zM393.6 242.12h2v6h-2zM401.52 255.94h2v6h-2zM393.6 276.67h2v6h-2zM393.6 297.6h2v6h-2zM393.6 304.48h2v6h-2zM393.6 332h2v6h-2zM401.52 332h2v6h-2zM406.8 332h2v6h-2zM412.08 332h2v6h-2zM393.6 338.88h2v6h-2zM393.6 345.76h2v6h-2z"/>
<path fill="#fcf1c6" d="M86.87 193.75h2v6h-2zM89.51 193.75h2v6h-2zM206.96 207.57h2v6h-2zM209.61 207.57h2v6h-2zM300.12 79.58h2v6h-2zM302.76 79.58h2v6h-2zM305.4 79.58h2v6h-2zM355.56 79.58h2v6h-2zM318.6 127.95h2v6h-2zM321.24 127.95h2v6h-2z"/>
<path fill="#efb070" d="M94.79 200.66h2v6h-2zM84.23 286.85h2v6h-2zM86.87 286.85h2v6h-2zM123.86 286.85h2v6h-2zM126.5 286.85h2v6h-2zM129.14 286.85h2v6h-2zM139.71 286.85h2v6h-2zM94.79 297.6h2v6h-2zM110.65 304.48h2v6h-2zM115.93 304.48h2v6h-2zM84.23 325.12h2v6h-2zM139.71 332h2v6h-2zM144.99 332h2v6h-2zM155.56 332h2v6h-2zM160.84 332h2v6h-2zM152.92 338.88h2v6h-2zM175.19 58.85h2v6h-2zM177.84 58.85h2v6h-2zM185.78 58.85h2v6h-2zM191.08 58.85h2v6h-2zM196.37 58.85h2v6h-2zM204.31 58.85h2v6h-2zM206.96 58.85h2v6h-2zM183.13 65.76h2v6h-2zM185.78 65.76h2v6h-2zM214.9 65.76h2v6h-2zM220.19 65.76h2v6h-2zM212.25 86.49h2v6h-2zM217.55 86.49h2v6h-2zM220.19 207.57h2v6h-2zM220.19 214.48h2v6h-2zM217.55 249.03h2v6h-2zM220.19 262.85h2v6h-2zM220.19 269.76h2v6h-2zM172.55 297.6h2v6h-2zM177.84 297.6h2v6h-2zM183.13 297.6h2v6h-2zM185.78 297.6h2v6h-2zM193.72 297.6h2v6h-2zM199.02 297.6h2v6h-2zM206.96 297.6h2v6h-2zM209.61 297.6h2v6h-2zM220.19 297.6h2v6h-2zM169.9 304.48h2v6h-2zM172.55 304.48h2v6h-2zM177.84 304.48h2v6h-2zM180.49 304.48h2v6h-2zM183.13 304.48h2v6h-2zM185.78 304.48h2v6h-2zM188.43 304.48h2v6h-2zM191.08 304.48h2v6h-2zM193.72 304.48h2v6h-2zM196.37 304.48h2v6h-2zM206.96 304.48h2v6h-2zM209.61 304.48h2v6h-2zM220.19 304.48h2v6h-2zM172.55 311.36h2v6h-2zM185.78 311.36h2v6h-2zM196.37 311.36h2v6h-2zM180.49 318.24h2v6h-2zM169.9 325.12h2v6h-2zM183.13 325.12h2v6h-2zM196.37 325.12h2v6h-2zM206.96 325.12h2v6h-2zM169.9 332h2v6h-2zM172.55 332h2v6h-2zM175.19 332h2v6h-2zM177.84 332h2v6h-2zM180.49 332h2v6h-2zM183.13 332h2v6h-2zM191.08 332h2v6h-2zM193.72 332h2v6h-2zM196.37 332h2v6h-2zM199.02 332h2v6h-2zM201.66 332h2v6h-2zM204.31 332h2v6h-2zM206.96 332h2v6h-2zM209.61 332h2v6h-2zM214.9 332h2v6h-2zM220.19 332h2v6h-2zM172.55 338.88h2v6h-2zM177.84 338.88h2v6h-2zM183.13 338.88h2v6h-2zM191.08 338.88h2v6h-2zM193.72 338.88h2v6h-2zM196.37 338.88h2v6h-2zM199.02 338.88h2v6h-2zM201.66 338.88h2v6h-2zM204.31 338.88h2v6h-2zM206.96 338.88h2v6h-2zM209.61 338.88h2v6h-2zM220.19 338.88h2v6h-2zM185.78 345.76h2v6h-2zM220.19 345.76h2v6h-2zM273.72 58.85h2v6h-2zM276.36 65.76h2v6h-2zM276.36 72.67h2v6h-2zM355.56 72.67h2v6h-2zM358.2 72.67h2v6h-2zM321.24 86.49h2v6h-2zM305.4 93.4h2v6h-2zM279 193.75h2v6h-2zM289.56 193.75h2v6h-2zM294.84 193.75h2v6h-2zM337.08 193.75h2v6h-2zM376.68 193.75h2v6h-2zM228.84 200.66h2v6h-2zM381.96 200.66h2v6h-2zM310.68 214.48h2v6h-2zM239.4 255.94h2v6h-2zM244.68 255.94h2v6h-2zM279 255.94h2v6h-2zM347.64 255.94h2v6h-2zM355.56 255.94h2v6h-2zM366.12 255.94h2v6h-2zM384.6 255.94h2v6h-2zM234.12 262.85h2v6h-2zM236.76 262.85h2v6h-2zM310.68 262.85h2v6h-2zM342.36 262.85h2v6h-2zM231.48 286.85h2v6h-2zM234.12 286.85h2v6h-2zM236.76 286.85h2v6h-2zM239.4 286.85h2v6h-2zM242.04 286.85h2v6h-2zM244.68 286.85h2v6h-2zM260.52 286.85h2v6h-2zM263.16 286.85h2v6h-2zM265.8 286.85h2v6h-2zM276.36 286.85h2v6h-2zM284.28 286.85h2v6h-2zM297.48 286.85h2v6h-2zM302.76 286.85h2v6h-2zM308.04 286.85h2v6h-2zM347.64 286.85h2v6h-2zM350.28 286.85h2v6h-2zM352.92 286.85h2v6h-2zM355.56 286.85h2v6h-2zM358.2 286.85h2v6h-2zM231.48 297.6h2v6h-2zM236.76 297.6h2v6h-2zM244.68 297.6h2v6h-2zM247.32 297.6h2v6h-2zM284.28 297.6h2v6h-2zM292.2 297.6h2v6h-2zM294.84 297.6h2v6h-2zM297.48 297.6h2v6h-2zM315.96 297.6h2v6h-2zM318.6 297.6h2v6h-2zM339.72 297.6h2v6h-2zM347.64 297.6h2v6h-2zM355.56 297.6h2v6h-2zM360.84 297.6h2v6h-2zM363.48 297.6h2v6h-2zM366.12 297.6h2v6h-2zM368.76 297.6h2v6h-2zM371.4 297.6h2v6h-2zM379.32 297.6h2v6h-2zM381.96 297.6h2v6h-2zM384.6 297.6h2v6h-2zM228.84 304.48h2v6h-2zM231.48 304.48h2v6h-2zM234.12 304.48h2v6h-2zM236.76 304.48h2v6h-2zM242.04 304.48h2v6h-2zM244.68 304.48h2v6h-2zM247.32 304.48h2v6h-2zM249.96 304.48h2v6h-2zM255.24 304.48h2v6h-2zM257.88 304.48h2v6h-2zM276.36 304.48h2v6h-2zM279 304.48h2v6h-2zM281.64 304.48h2v6h-2zM284.28 304.48h2v6h-2zM286.92 304.48h2v6h-2zM292.2 304.48h2v6h-2zM294.84 304.48h2v6h-2zM300.12 304.48h2v6h-2zM302.76 304.48h2v6h-2zM308.04 304.48h2v6h-2zM313.32 304.48h2v6h-2zM318.6 304.48h2v6h-2zM321.24 304.48h2v6h-2zM339.72 304.48h2v6h-2zM347.64 304.48h2v6h-2zM350.28 304.48h2v6h-2zM355.56 304.48h2v6h-2zM358.2 304.48h2v6h-2zM363.48 304.48h2v6h-2zM366.12 304.48h2v6h-2zM368.76 304.48h2v6h-2zM371.4 304.48h2v6h-2zM379.32 304.48h2v6h-2zM381.96 304.48h2v6h-2zM384.6 304.48h2v6h-2zM387.24 304.48h2v6h-2zM239.4 311.36h2v6h-2zM339.72 311.36h2v6h-2zM289.56 318.24h2v6h-2zM360.84 318.24h2v6h-2zM379.32 318.24h2v6h-2zM271.08 325.12h2v6h-2zM347.64 325.12h2v6h-2zM355.56 325.12h2v6h-2zM371.4 325.12h2v6h-2zM234.12 332h2v6h-2zM236.76 332h2v6h-2zM244.68 332h2v6h-2zM263.16 332h2v6h-2zM273.72 332h2v6h-2zM276.36 332h2v6h-2zM300.12 332h2v6h-2zM308.04 332h2v6h-2zM350.28 332h2v6h-2zM355.56 332h2v6h-2zM360.84 332h2v6h-2zM363.48 332h2v6h-2zM366.12 332h2v6h-2zM368.76 332h2v6h-2zM244.68 338.88h2v6h-2zM342.36 338.88h2v6h-2zM355.56 338.88h2v6h-2zM360.84 338.88h2v6h-2zM363.48 338.88h2v6h-2zM366.12 338.88h2v6h-2zM368.76 338.88h2v6h-2zM376.68 338.88h2v6h-2zM379.32 338.88h2v6h-2zM381.96 338.88h2v6h-2zM231.48 345.76h2v6h-2zM334.44 345.76h2v6h-2zM337.08 345.76h2v6h-2zM342.36 345.76h2v6h-2zM355.56 345.76h2v6h-2zM360.84 345.76h2v6h-2zM406.8 58.85h2v6h-2zM406.8 65.76h2v6h-2zM409.44 65.76h2v6h-2zM412.08 65.76h2v6h-2zM396.24 200.66h2v6h-2zM401.52 200.66h2v6h-2zM404.16 200.66h2v6h-2zM406.8 200.66h2v6h-2zM412.08 200.66h2v6h-2zM406.8 207.57h2v6h-2zM396.24 214.48h2v6h-2zM401.52 214.48h2v6h-2zM406.8 214.48h2v6h-2zM409.44 214.48h2v6h-2zM412.08 214.48h2v6h-2zM396.24 221.39h2v6h-2zM401.52 221.39h2v6h-2zM406.8 221.39h2v6h-2zM412.08 221.39h2v6h-2zM398.88 235.21h2v6h-2zM406.8 235.21h2v6h-2zM412.08 235.21h2v6h-2zM393.6 249.03h2v6h-2zM396.24 255.94h2v6h-2zM398.88 255.94h2v6h-2zM404.16 255.94h2v6h-2zM412.08 255.94h2v6h-2zM404.16 262.85h2v6h-2zM406.8 262.85h2v6h-2zM393.6 269.76h2v6h-2zM404.16 269.76h2v6h-2zM396.24 297.6h2v6h-2zM401.52 297.6h2v6h-2zM404.16 297.6h2v6h-2zM406.8 297.6h2v6h-2zM412.08 297.6h2v6h-2zM396.24 304.48h2v6h-2zM401.52 304.48h2v6h-2zM404.16 304.48h2v6h-2zM406.8 304.48h2v6h-2zM412.08 304.48h2v6h-2zM406.8 311.36h2v6h-2zM409.44 311.36h2v6h-2zM412.08 311.36h2v6h-2zM396.24 332h2v6h-2zM398.88 332h2v6h-2zM404.16 332h2v6h-2zM398.88 338.88h2v6h-2zM404.16 338.88h2v6h-2zM406.8 338.88h2v6h-2zM412.08 338.88h2v6h-2zM398.88 345.76h2v6h-2zM404.16 345.76h2v6h-2zM406.8 345.76h2v6h-2zM412.08 345.76h2v6h-2z"/>
<path fill="#e2ecf1" d="M89.51 286.85h2v6h-2zM199.02 65.76h2v6h-2zM188.43 79.58h2v6h-2zM209.61 79.58h2v6h-2zM180.49 86.49h2v6h-2zM209.61 86.49h2v6h-2zM206.96 93.4h2v6h-2zM183.13 114.13h2v6h-2zM185.78 148.68h2v6h-2zM183.13 214.48h2v6h-2zM214.9 249.03h2v6h-2zM206.96 269.76h2v6h-2zM209.61 269.76h2v6h-2zM209.61 311.36h2v6h-2zM188.43 318.24h2v6h-2zM175.19 325.12h2v6h-2zM196.37 345.76h2v6h-2zM239.4 127.95h2v6h-2zM239.4 193.75h2v6h-2zM363.48 200.66h2v6h-2zM360.84 228.3h2v6h-2zM374.04 235.21h2v6h-2zM347.64 242.12h2v6h-2zM236.76 249.03h2v6h-2zM331.8 249.03h2v6h-2zM371.4 249.03h2v6h-2zM244.68 262.85h2v6h-2zM384.6 262.85h2v6h-2zM234.12 269.76h2v6h-2zM257.88 269.76h2v6h-2zM292.2 269.76h2v6h-2zM352.92 269.76h2v6h-2zM358.2 269.76h2v6h-2zM384.6 269.76h2v6h-2zM284.28 276.67h2v6h-2zM352.92 318.24h2v6h-2zM255.24 332h2v6h-2zM329.16 332h2v6h-2zM260.52 345.76h2v6h-2zM286.92 345.76h2v6h-2zM406.8 79.58h2v6h-2zM406.8 127.95h2v6h-2zM398.88 193.75h2v6h-2zM409.44 228.3h2v6h-2zM398.88 242.12h2v6h-2zM401.52 242.12h2v6h-2zM404.16 242.12h2v6h-2zM412.08 242.12h2v6h-2zM398.88 249.03h2v6h-2zM401.52 249.03h2v6h-2zM406.8 249.03h2v6h-2zM409.44 249.03h2v6h-2zM412.08 249.03h2v6h-2zM409.44 276.67h2v6h-2zM409.44 297.6h2v6h-2z"/>
<path fill="#e27c45" d="M188.43 332h2v6h-2z"/>
</g>
<g stroke="#222" stroke-width="0.7" fill="none">
<line x1="69.6" y1="300.6" x2="69.6" y2="314.4"/>
<line x1="69.6" y1="321.3" x2="69.6" y2="348.8"/>
<line x1="68.6" y1="307.5" x2="69.6" y2="307.5"/>
<line x1="68.6" y1="335" x2="69.6" y2="335"/>
<line x1="68.6" y1="307.5" x2="68.6" y2="335"/>
<line x1="69.6" y1="258.9" x2="69.6" y2="279.7"/>
<line x1="69" y1="265.8" x2="69.6" y2="265.8"/>
<line x1="69.6" y1="196.8" x2="69.6" y2="217.5"/>
<line x1="69" y1="203.7" x2="69.6" y2="203.7"/>
<line x1="63.7" y1="138.2" x2="63.7" y2="309"/>
<line x1="63.7" y1="138.2" x2="66.3" y2="138.2"/>
<line x1="66.3" y1="74.3" x2="66.3" y2="236"/>
<line x1="66.3" y1="74.3" x2="68.8" y2="74.3"/>
<line x1="68.8" y1="65" x2="68.8" y2="95.5"/>
<line x1="68.8" y1="65" x2="70.3" y2="65"/>
<line x1="68.8" y1="95.5" x2="70.3" y2="95.5"/>
<line x1="66.3" y1="236" x2="68.5" y2="236"/>
<line x1="68.5" y1="205" x2="68.5" y2="270"/>
<line x1="63.7" y1="309" x2="65.7" y2="309"/>
<line x1="65.7" y1="290.1" x2="65.7" y2="336"/>
<line x1="65.7" y1="290.1" x2="70" y2="290.1"/>
<line x1="65.7" y1="336" x2="68" y2="336"/>
<line x1="68" y1="318" x2="68" y2="348"/>
<line x1="68.8" y1="120" x2="68.8" y2="185"/>
<line x1="66.3" y1="150" x2="68.8" y2="150"/>
</g>
<g stroke="#444" stroke-width="0.9">
<line x1="72.6" y1="61.85" x2="75.2" y2="61.85"/>
<line x1="72.6" y1="68.76" x2="75.2" y2="68.76"/>
<line x1="72.6" y1="75.67" x2="75.2" y2="75.67"/>
<line x1="72.6" y1="82.58" x2="75.2" y2="82.58"/>
<line x1="72.6" y1="89.49" x2="75.2" y2="89.49"/>
<line x1="72.6" y1="96.4" x2="75.2" y2="96.4"/>
<line x1="72.6" y1="103.31" x2="75.2" y2="103.31"/>
<line x1="72.6" y1="110.22" x2="75.2" y2="110.22"/>
<line x1="72.6" y1="117.13" x2="75.2" y2="117.13"/>
<line x1="72.6" y1="124.04" x2="75.2" y2="124.04"/>
<line x1="72.6" y1="130.95" x2="75.2" y2="130.95"/>
<line x1="72.6" y1="137.86" x2="75.2" y2="137.86"/>
<line x1="72.6" y1="144.77" x2="75.2" y2="144.77"/>
<line x1="72.6" y1="151.68" x2="75.2" y2="151.68"/>
<line x1="72.6" y1="158.59" x2="75.2" y2="158.59"/>
<line x1="72.6" y1="165.5" x2="75.2" y2="165.5"/>
<line x1="72.6" y1="172.41" x2="75.2" y2="172.41"/>
<line x1="72.6" y1="179.32" x2="75.2" y2="179.32"/>
<line x1="72.6" y1="186.23" x2="75.2" y2="186.23"/>
<line x1="72.6" y1="196.75" x2="75.2" y2="196.75"/>
<line x1="72.6" y1="203.66" x2="75.2" y2="203.66"/>
<line x1="72.6" y1="210.57" x2="75.2" y2="210.57"/>
<line x1="72.6" y1="217.48" x2="75.2" y2="217.48"/>
<line x1="72.6" y1="224.39" x2="75.2" y2="224.39"/>
<line x1="72.6" y1="231.3" x2="75.2" y2="231.3"/>
<line x1="72.6" y1="238.21" x2="75.2" y2="238.21"/>
<line x1="72.6" y1="245.12" x2="75.2" y2="245.12"/>
<line x1="72.6" y1="252.03" x2="75.2" y2="252.03"/>
<line x1="72.6" y1="258.94" x2="75.2" y2="258.94"/>
<line x1="72.6" y1="265.85" x2="75.2" y2="265.85"/>
<line x1="72.6" y1="272.76" x2="75.2" y2="272.76"/>
<line x1="72.6" y1="279.67" x2="75.2" y2="279.67"/>
<line x1="72.6" y1="289.85" x2="75.2" y2="289.85"/>
<line x1="72.6" y1="300.6" x2="75.2" y2="300.6"/>
<line x1="72.6" y1="307.48" x2="75.2" y2="307.48"/>
<line x1="72.6" y1="314.36" x2="75.2" y2="314.36"/>
<line x1="72.6" y1="321.24" x2="75.2" y2="321.24"/>
<line x1="72.6" y1="328.12" x2="75.2" y2="328.12"/>
<line x1="72.6" y1="335" x2="75.2" y2="335"/>
<line x1="72.6" y1="341.88" x2="75.2" y2="341.88"/>
<line x1="72.6" y1="348.76" x2="75.2" y2="348.76"/>
</g>
<g fill="none">
<rect x="71.55" y="55.55" width="95.6" height="297.05" stroke="#15206b" stroke-width="2.2"/>
<rect x="169.15" y="55.4" width="54.0" height="297.4" stroke="#cc1a12" stroke-width="2.0"/>
<rect x="225.9" y="56.4" width="164.05" height="297.1" stroke="#4aa84c" stroke-width="2.0"/>
<rect x="391.75" y="56.9" width="24.0" height="296.75" stroke="#cc1a12" stroke-width="2.1"/>
</g>
<g font-family='"Liberation Sans", sans-serif' font-size="7.3" fill="#1e1e1e">
<text x="420.6" y="64.45">Gzma</text>
<text x="420.6" y="71.36">Zbtb16</text>
<text x="420.6" y="78.27">Hes1</text>
<text x="420.6" y="85.18">Nfil3</text>
<text x="420.6" y="92.09">Itga2b</text>
<text x="420.6" y="99">Gzmb</text>
<text x="420.6" y="105.91">Bcl11b</text>
<text x="420.6" y="112.82">IL13</text>
<text x="420.6" y="119.73">Bcl2</text>
<text x="420.6" y="126.64">Igf2</text>
<text x="420.6" y="133.55">Ccr6</text>
<text x="420.6" y="140.46">Eomes</text>
<text x="420.6" y="147.37">Rxrg</text>
<text x="420.6" y="154.28">Id2</text>
<text x="420.6" y="161.19">Il1rl1</text>
<text x="420.6" y="168.1">Tnfrsf11a</text>
<text x="420.6" y="175.01">Tbx21</text>
<text x="420.6" y="181.92">Areg</text>
<text x="420.6" y="188.83">Ncr1</text>
<text x="420.6" y="199.35">Irf8</text>
<text x="420.6" y="206.26">Il7r</text>
<text x="420.6" y="213.17">Icos</text>
<text x="420.6" y="220.08">Rora</text>
<text x="420.6" y="226.99">Rorc</text>
<text x="420.6" y="233.9">Cd4</text>
<text x="420.6" y="240.81">Cxcr5</text>
<text x="420.6" y="247.72">Il18r1</text>
<text x="420.6" y="254.63">Il2rb</text>
<text x="420.6" y="261.54">Il1r1</text>
<text x="420.6" y="268.45">Ltb</text>
<text x="420.6" y="275.36">Cxcr6</text>
<text x="420.6" y="282.27">Ets1</text>
<text x="420.6" y="292.45">Sell</text>
<text x="420.6" y="303.2">Itga4</text>
<text x="420.6" y="310.08">Kit</text>
<text x="420.6" y="316.96">Runx3</text>
<text x="420.6" y="323.84">Runx1</text>
<text x="420.6" y="330.72">Sox4</text>
<text x="420.6" y="337.6">Tcf7</text>
<text x="420.6" y="344.48">Gata3</text>
<text x="420.6" y="351.36">Tox</text>
</g>
<g font-family='"Liberation Sans", sans-serif' font-size="7.2" font-style="italic" text-anchor="end">
<text x="53" y="60.1" fill="#333">Gzma</text>
<text x="53" y="78.7" fill="#333">Zbtb16</text>
<text x="53" y="98" fill="#333">Nfil3</text>
<text x="53" y="129" fill="#b5283e">Ccr6</text>
<text x="44.5" y="207.9" fill="#b5283e">Rorc</text>
<text x="44.5" y="223.3" fill="#b5283e">Cd4</text>
<text x="44.5" y="237.1" fill="#b5283e">Cxcr5</text>
<text x="44.5" y="255.9" fill="#b5283e">Ltb</text>
<text x="44.5" y="272.5" fill="#b5283e">Cxcr6</text>
<text x="44.5" y="311.9" fill="#333">Tcf7</text>
<text x="44.5" y="328.8" fill="#333">Gata3</text>
<text x="44.5" y="347.1" fill="#333">Tox</text>
</g>
<g stroke="#000" stroke-width="1.15">
<line x1="58.2" y1="58" x2="67.7" y2="58" stroke-width="1.4"/>
<line x1="60.3" y1="73.8" x2="67.7" y2="69.6"/>
<line x1="59.2" y1="91.9" x2="66.5" y2="83.5"/>
<line x1="60" y1="128" x2="73.8" y2="130.4"/>
<line x1="47.7" y1="207" x2="68.5" y2="220"/>
<line x1="52.3" y1="221.5" x2="67" y2="228.5"/>
<line x1="52.3" y1="233.8" x2="68.5" y2="236"/>
<line x1="50" y1="255.5" x2="69.4" y2="268.7"/>
<line x1="53.6" y1="270.4" x2="69.4" y2="271.3"/>
<line x1="49.2" y1="311.7" x2="71.2" y2="332.8"/>
<line x1="56.2" y1="330.2" x2="70.3" y2="340.7"/>
<line x1="52.7" y1="343.9" x2="69.4" y2="345.1"/>
</g>
<defs><linearGradient id="cb" x1="0" y1="0" x2="0" y2="1"><stop offset="0" stop-color="#c1352b"/><stop offset="0.15" stop-color="#de6b45"/><stop offset="0.30" stop-color="#f0a866"/><stop offset="0.45" stop-color="#f8dc8c"/><stop offset="0.55" stop-color="#f9f0b4"/><stop offset="0.66" stop-color="#e8f0ea"/><stop offset="0.76" stop-color="#c4d8ea"/><stop offset="0.88" stop-color="#7f9fcc"/><stop offset="1" stop-color="#3d5ea8"/></linearGradient></defs>
<rect x="453.5" y="49.6" width="8.3" height="129.6" fill="url(#cb)"/>
<g font-family='"Liberation Sans", sans-serif' font-size="6.7" fill="#222">
<text x="465.2" y="60.4">1.04</text>
<text x="465.2" y="77.5">1.02</text>
<text x="465.2" y="94.6">1</text>
<text x="465.2" y="111.9">0.98</text>
<text x="465.2" y="129.2">0.96</text>
<text x="465.2" y="146.4">0.94</text>
<text x="465.2" y="163.6">0.92</text>
<text x="465.2" y="180.8">0.9</text>
</g>
<text x="443.8" y="43" font-family='"Liberation Sans", sans-serif' font-size="7.1" fill="#4c6cab">High</text>
<text x="445.2" y="187" font-family='"Liberation Sans", sans-serif' font-size="7.1" fill="#4c6cab">Low</text>
<text x="417.6" y="54.8" font-family='"Liberation Sans", sans-serif' font-size="6.8" font-weight="bold" fill="#111">Timepoint</text>
<text x="480.2" y="53.1" font-family='"Liberation Sans", sans-serif' font-size="6.8" font-weight="bold" fill="#111">Timepoint</text>
<rect x="484.6" y="58.3" width="6" height="5.7" fill="#e08686" stroke="#c56a6a" stroke-width="0.4"/>
<rect x="484.6" y="68.0" width="6" height="5.7" fill="#4459b2" stroke="#33449a" stroke-width="0.4"/>
<text x="493" y="63.2" font-family='"Liberation Sans", sans-serif' font-size="6.9" fill="#222">E13</text>
<text x="493" y="72.6" font-family='"Liberation Sans", sans-serif' font-size="6.9" fill="#222">E18</text>
<text x="7.6" y="390.3" font-family='"Liberation Sans", sans-serif' font-size="11.5" font-weight="bold" fill="#000">B</text>
<path d="M29,428.8 C24,431.5 21.2,436.5 22.4,440 C23.8,443.2 30,444.2 40,444.9 C52,445.7 63,446.8 73.8,450.6" fill="none" stroke="#3a3a3a" stroke-width="1.0"/>
<path d="M29.5,430 C25.5,432.5 23.5,436.5 24.3,439.3 C25.5,442 31,442.8 40,443.6 C52,444.5 63,445.8 73.8,450.6" fill="none" stroke="#9a9a9a" stroke-width="0.5"/>
<path d="M30,430 C26.5,426 27,416 35,411.5 C40,409 47,409.5 52,412 C57,414.5 60,418 62,422 L64,427 C62,429.5 59,431.5 55,432.5 C50,434 45,434.5 40,434 C35,433.5 32,432.5 30,430 Z" fill="#ececec" stroke="#7a7a7a" stroke-width="0.6"/>
<path d="M31,424 C31,417 36,412.5 43,411.5 C38,414 34.5,418 33.5,425 Z" fill="#f8f8f8"/>
<path d="M38.3,433.8 L39.8,436.4 L43.8,436.2 L43,434.2 Z" fill="#666"/>
<path d="M56.6,411.5 C56.6,408.6 58.3,406.8 59.5,407 C60.8,407.3 61.2,409.6 60.6,412 Z" fill="#e8e8e8" stroke="#777" stroke-width="0.55"/>
<path d="M52,413 C55,410.3 58,409.3 60.5,410.6 C63,412.6 66,416.6 68.5,420.6 C70,422.6 71.2,424.5 70.6,425.6 C69.8,426.8 68.5,427.5 67.5,428.5 C66,430 63,430.6 61,430 C58,429 55,426 53.5,422 C52.5,419 51.5,416 52,413 Z" fill="#efefef" stroke="#7a7a7a" stroke-width="0.6"/>
<path d="M50,416 C49.5,412.5 51.5,410.5 54,411 C56,411.5 57.6,413.5 57.6,416 C57.6,418.5 55.6,419.8 53.6,419.4 C51.6,419 50.2,417.8 50,416 Z" fill="#e6e6e6" stroke="#6e6e6e" stroke-width="0.6"/>
<path d="M52,417.5 C52.5,414.5 54.5,413.2 56,414.5" fill="none" stroke="#999" stroke-width="0.4"/>
<circle cx="63.1" cy="422.5" r="0.95" fill="#c0182a"/>
<path d="M56.5,431 L58,435.2 L60.6,437.6 M58.8,431 L60.6,434.6 L62.2,436.2 M66,429 L67.2,431.5" fill="none" stroke="#555" stroke-width="0.6"/>
<ellipse cx="38.4" cy="424.4" rx="3.8" ry="4.8" fill="#f6e4e4" stroke="#e9b4b4" stroke-width="0.5"/>
<path d="M37,423 C38,421.5 40,422 40,424 C40,426 38,426.5 37.5,425.5" fill="none" stroke="#e9b4b4" stroke-width="0.4"/>
<line x1="20" y1="397.8" x2="30.6" y2="406.9" stroke="#8a8a8a" stroke-width="2.5" stroke-linecap="round"/>
<line x1="20" y1="397.8" x2="30.6" y2="406.9" stroke="#fafafa" stroke-width="1.5" stroke-linecap="round"/>
<line x1="29.4" y1="406" x2="35" y2="411.2" stroke="#5aa6de" stroke-width="1.9"/>
<line x1="35" y1="411.2" x2="40" y2="415.6" stroke="#888" stroke-width="0.45"/>
<line x1="83.5" y1="432.3" x2="283.5" y2="432.3" stroke="#6b7fa9" stroke-width="1.4"/>
<line x1="93.8" y1="421.8" x2="93.8" y2="432" stroke="#111" stroke-width="0.8"/>
<line x1="129.6" y1="421.8" x2="129.6" y2="432" stroke="#111" stroke-width="0.8"/>
<line x1="162.7" y1="421.8" x2="162.7" y2="432" stroke="#111" stroke-width="0.8"/>
<line x1="213.9" y1="421.8" x2="213.9" y2="432" stroke="#111" stroke-width="0.8"/>
<line x1="283.1" y1="421.8" x2="283.1" y2="432" stroke="#111" stroke-width="0.8"/>
<line x1="93.8" y1="431" x2="93.8" y2="445.5" stroke="#b3133c" stroke-width="1.3"/>
<path d="M93.8,427.2 L91,435.6 L93.8,433.2 L96.6,435.6 Z" fill="#b3133c"/>
<line x1="129.6" y1="431" x2="129.6" y2="445.5" stroke="#b3133c" stroke-width="1.3"/>
<path d="M129.6,427.2 L126.8,435.6 L129.6,433.2 L132.4,435.6 Z" fill="#b3133c"/>
<line x1="162.7" y1="431" x2="162.7" y2="445.5" stroke="#b3133c" stroke-width="1.3"/>
<path d="M162.7,427.2 L159.9,435.6 L162.7,433.2 L165.5,435.6 Z" fill="#b3133c"/>
<line x1="213.9" y1="431" x2="213.9" y2="445.5" stroke="#4e2470" stroke-width="1.3"/>
<path d="M213.9,427.2 L211.1,435.6 L213.9,433.2 L216.7,435.6 Z" fill="#4e2470"/>
<line x1="283.1" y1="431" x2="283.1" y2="445.5" stroke="#4e2470" stroke-width="1.3"/>
<path d="M283.1,427.2 L280.3,435.6 L283.1,433.2 L285.9,435.6 Z" fill="#4e2470"/>
<text x="94.2" y="416.8" font-family='"Liberation Sans", sans-serif' font-size="6.9" fill="#2f4f8f" text-anchor="start" textLength="70" lengthAdjust="spacingAndGlyphs">E10.5 &amp; E12.5 &amp; E14.5</text>
<text x="214.2" y="416.4" font-family='"Liberation Sans", sans-serif' font-size="6.9" fill="#2f4f8f" text-anchor="middle">E16.5</text>
<text x="283.6" y="416.4" font-family='"Liberation Sans", sans-serif' font-size="6.9" fill="#2f4f8f" text-anchor="middle">P2</text>
<text x="126.2" y="457" font-family='"Liberation Sans", sans-serif' font-size="6.6" fill="#2f4f8f" text-anchor="middle">anti-IL7R&#945; (A7R34)</text>
<text x="126.2" y="464.6" font-family='"Liberation Sans", sans-serif' font-size="6.6" fill="#2f4f8f" text-anchor="middle">or</text>
<text x="125.8" y="472.3" font-family='"Liberation Sans", sans-serif' font-size="6.6" fill="#2f4f8f" text-anchor="middle">Control</text>
<text x="214.2" y="455.9" font-family='"Liberation Sans", sans-serif' font-size="6.6" fill="#2f4f8f" text-anchor="middle">analysis</text>
<text x="283.5" y="455.9" font-family='"Liberation Sans", sans-serif' font-size="6.6" fill="#2f4f8f" text-anchor="middle">analysis</text>
<path d="M303,407.6 C304.8,405.9 307.8,406 309.3,407.4 C310.9,406.1 313.4,406.6 313.7,408.8 C318,411 321.4,416 323,422 C325,430 324.6,439 321.2,444.5 C318.7,448 313.7,449.1 310.6,447.6 C307.6,446.1 305.2,443.6 304.2,440.3 C302.6,440.3 301.6,438.3 302.6,436.6 C300.6,436.1 299.6,433.6 301.1,431.6 C299.6,430.2 299.6,428.6 300.2,427.9 C297.2,427.1 294.6,425.1 294.3,422.5 C294,418 297,412 303,407.6 Z" fill="#f2bdd7" stroke="#a5668a" stroke-width="0.6"/><path d="M303.2,428.4 C305.5,426.2 308,424.6 310.2,424.2 C310.6,427.5 310.2,430.5 309,432.5 C307.5,434.5 306,436.4 304.8,437.8 C303.4,436.6 302.6,434.8 302.9,432.6 C302.2,431.2 302.4,429.6 303.2,428.4 Z" fill="#f8d8e6" stroke="#a5668a" stroke-width="0.45"/><path d="M305,409.3 C306.5,408.2 308.2,408.6 308.7,410.2" fill="none" stroke="#a5668a" stroke-width="0.5"/><path d="M298.8,419.8 L302.2,418.6 M299.1,421 L302.4,419.8" fill="none" stroke="#a5668a" stroke-width="0.5"/><path d="M306,424.5 C309,422 311.5,419.2 313,416.5" fill="none" stroke="#a5668a" stroke-width="0.5"/><path d="M303.5,429 C306.5,427.5 309.5,427.2 312,427.6" fill="none" stroke="#a5668a" stroke-width="0.5"/><path d="M306.2,441 C307.6,437 310.5,434 313.6,433" fill="none" stroke="#a5668a" stroke-width="0.5"/><path d="M301.5,433 C303,433.5 304.2,434.5 304.6,436 M302.8,437 C304,437.3 305,438.3 305.2,439.5" fill="none" stroke="#a5668a" stroke-width="0.5"/>
<text transform="translate(15,526.2) rotate(-90)" font-family='"Liberation Sans", sans-serif' font-size="9" fill="#3a5a9a" text-anchor="middle">E16.5</text>
<text transform="translate(15,657.8) rotate(-90)" font-family='"Liberation Sans", sans-serif' font-size="9" fill="#3a5a9a" text-anchor="middle">P2</text>
<line x1="66.3" y1="505.3" x2="66.3" y2="548" stroke="#000" stroke-width="1.0"/>
<line x1="65.8" y1="547.5" x2="125" y2="547.5" stroke="#000" stroke-width="1.0"/>
<line x1="62.9" y1="507.8" x2="66.3" y2="507.8" stroke="#000" stroke-width="0.8"/>
<text x="59.3" y="509.75" font-family='"Liberation Sans", sans-serif' font-size="5.4" fill="#111" text-anchor="end">1000</text>
<line x1="62.9" y1="547.3" x2="66.3" y2="547.3" stroke="#000" stroke-width="0.8"/>
<text x="59.3" y="549.25" font-family='"Liberation Sans", sans-serif' font-size="5.4" fill="#111" text-anchor="end">100</text>
<line x1="65" y1="535.41" x2="66.3" y2="535.41" stroke="#000" stroke-width="0.45"/>
<line x1="65" y1="528.45" x2="66.3" y2="528.45" stroke="#000" stroke-width="0.45"/>
<line x1="65" y1="523.52" x2="66.3" y2="523.52" stroke="#000" stroke-width="0.45"/>
<line x1="65" y1="519.69" x2="66.3" y2="519.69" stroke="#000" stroke-width="0.45"/>
<line x1="65" y1="516.56" x2="66.3" y2="516.56" stroke="#000" stroke-width="0.45"/>
<line x1="65" y1="513.92" x2="66.3" y2="513.92" stroke="#000" stroke-width="0.45"/>
<line x1="65" y1="511.63" x2="66.3" y2="511.63" stroke="#000" stroke-width="0.45"/>
<line x1="65" y1="509.61" x2="66.3" y2="509.61" stroke="#000" stroke-width="0.45"/>
<text transform="translate(41,526) rotate(-90)" font-family='"Liberation Sans", sans-serif' font-size="6.3" fill="#1a1a1a" text-anchor="middle" textLength="32.7" lengthAdjust="spacingAndGlyphs">ETP/thymus</text>
<circle cx="81.14" cy="525.17" r="0.85" fill="#c0183a"/>
<circle cx="80.95" cy="528.33" r="0.85" fill="#c0183a"/>
<circle cx="81.21" cy="525.44" r="0.85" fill="#c0183a"/>
<circle cx="81.02" cy="523.52" r="0.85" fill="#c0183a"/>
<circle cx="81.64" cy="526.07" r="0.85" fill="#c0183a"/>
<circle cx="80.69" cy="522.68" r="0.85" fill="#c0183a"/>
<line x1="71.2" y1="524.4" x2="90.8" y2="524.4" stroke="#000" stroke-width="1.0"/>
<line x1="81" y1="521.2" x2="81" y2="528.1" stroke="#000" stroke-width="0.9"/>
<line x1="76" y1="521.2" x2="86" y2="521.2" stroke="#000" stroke-width="0.9"/>
<line x1="76" y1="528.1" x2="86" y2="528.1" stroke="#000" stroke-width="0.9"/>
<line x1="81" y1="547.5" x2="81" y2="549.5" stroke="#000" stroke-width="0.6"/>
<circle cx="111.51" cy="523.41" r="0.85" fill="#2a4b94"/>
<circle cx="109.11" cy="528.63" r="0.85" fill="#2a4b94"/>
<circle cx="111.65" cy="532.55" r="0.85" fill="#2a4b94"/>
<circle cx="111.12" cy="528.31" r="0.85" fill="#2a4b94"/>
<circle cx="109.27" cy="524.3" r="0.85" fill="#2a4b94"/>
<line x1="101.2" y1="525.5" x2="120.2" y2="525.5" stroke="#000" stroke-width="1.0"/>
<line x1="110.7" y1="521.2" x2="110.7" y2="530.2" stroke="#000" stroke-width="0.9"/>
<line x1="106.2" y1="521.2" x2="115.2" y2="521.2" stroke="#000" stroke-width="0.9"/>
<line x1="106.2" y1="530.2" x2="115.2" y2="530.2" stroke="#000" stroke-width="0.9"/>
<line x1="110.7" y1="547.5" x2="110.7" y2="549.5" stroke="#000" stroke-width="0.6"/>
<line x1="81.3" y1="513.5" x2="110" y2="513.5" stroke="#333" stroke-width="1.0"/>
<text x="95.65" y="512.2" font-family='"Liberation Sans", sans-serif' font-size="4.8" fill="#333" text-anchor="middle">NS</text>
<text x="81" y="557.2" font-family='"Liberation Sans", sans-serif' font-size="5.9" fill="#111" text-anchor="middle">Control</text>
<text x="112.2" y="557.2" font-family='"Liberation Sans", sans-serif' font-size="5.9" fill="#111" text-anchor="middle">anti-IL7R&#945;</text>
<line x1="174" y1="505" x2="174" y2="548" stroke="#000" stroke-width="1.0"/>
<line x1="173.5" y1="547.5" x2="235" y2="547.5" stroke="#000" stroke-width="1.0"/>
<line x1="170.6" y1="507.8" x2="174" y2="507.8" stroke="#000" stroke-width="0.8"/>
<text x="167" y="509.75" font-family='"Liberation Sans", sans-serif' font-size="5.4" fill="#111" text-anchor="end">10000</text>
<line x1="170.6" y1="521" x2="174" y2="521" stroke="#000" stroke-width="0.8"/>
<text x="167" y="522.95" font-family='"Liberation Sans", sans-serif' font-size="5.4" fill="#111" text-anchor="end">1000</text>
<line x1="170.6" y1="534.2" x2="174" y2="534.2" stroke="#000" stroke-width="0.8"/>
<text x="167" y="536.15" font-family='"Liberation Sans", sans-serif' font-size="5.4" fill="#111" text-anchor="end">100</text>
<line x1="170.6" y1="547.5" x2="174" y2="547.5" stroke="#000" stroke-width="0.8"/>
<text x="167" y="549.45" font-family='"Liberation Sans", sans-serif' font-size="5.4" fill="#111" text-anchor="end">10</text>
<line x1="172.7" y1="543.52" x2="174" y2="543.52" stroke="#000" stroke-width="0.45"/>
<line x1="172.7" y1="541.19" x2="174" y2="541.19" stroke="#000" stroke-width="0.45"/>
<line x1="172.7" y1="539.53" x2="174" y2="539.53" stroke="#000" stroke-width="0.45"/>
<line x1="172.7" y1="538.25" x2="174" y2="538.25" stroke="#000" stroke-width="0.45"/>
<line x1="172.7" y1="537.2" x2="174" y2="537.2" stroke="#000" stroke-width="0.45"/>
<line x1="172.7" y1="536.32" x2="174" y2="536.32" stroke="#000" stroke-width="0.45"/>
<line x1="172.7" y1="535.55" x2="174" y2="535.55" stroke="#000" stroke-width="0.45"/>
<line x1="172.7" y1="534.87" x2="174" y2="534.87" stroke="#000" stroke-width="0.45"/>
<line x1="172.7" y1="530.28" x2="174" y2="530.28" stroke="#000" stroke-width="0.45"/>
<line x1="172.7" y1="527.95" x2="174" y2="527.95" stroke="#000" stroke-width="0.45"/>
<line x1="172.7" y1="526.3" x2="174" y2="526.3" stroke="#000" stroke-width="0.45"/>
<line x1="172.7" y1="525.02" x2="174" y2="525.02" stroke="#000" stroke-width="0.45"/>
<line x1="172.7" y1="523.97" x2="174" y2="523.97" stroke="#000" stroke-width="0.45"/>
<line x1="172.7" y1="523.08" x2="174" y2="523.08" stroke="#000" stroke-width="0.45"/>
<line x1="172.7" y1="522.32" x2="174" y2="522.32" stroke="#000" stroke-width="0.45"/>
<line x1="172.7" y1="521.64" x2="174" y2="521.64" stroke="#000" stroke-width="0.45"/>
<line x1="172.7" y1="517.05" x2="174" y2="517.05" stroke="#000" stroke-width="0.45"/>
<line x1="172.7" y1="514.72" x2="174" y2="514.72" stroke="#000" stroke-width="0.45"/>
<line x1="172.7" y1="513.07" x2="174" y2="513.07" stroke="#000" stroke-width="0.45"/>
<line x1="172.7" y1="511.78" x2="174" y2="511.78" stroke="#000" stroke-width="0.45"/>
<line x1="172.7" y1="510.74" x2="174" y2="510.74" stroke="#000" stroke-width="0.45"/>
<line x1="172.7" y1="509.85" x2="174" y2="509.85" stroke="#000" stroke-width="0.45"/>
<line x1="172.7" y1="509.08" x2="174" y2="509.08" stroke="#000" stroke-width="0.45"/>
<line x1="172.7" y1="508.41" x2="174" y2="508.41" stroke="#000" stroke-width="0.45"/>
<text transform="translate(145.8,526.3) rotate(-90)" font-family='"Liberation Sans", sans-serif' font-size="6.3" fill="#1a1a1a" text-anchor="middle" textLength="62" lengthAdjust="spacingAndGlyphs">V&#947;5&#948;1<tspan font-size="4.2" dy="-1.8">+</tspan><tspan dy="1.8">T cells/thymus</tspan></text>
<circle cx="185.53" cy="515.72" r="0.85" fill="#c0183a"/>
<circle cx="187.03" cy="514.75" r="0.85" fill="#c0183a"/>
<circle cx="188.17" cy="513.88" r="0.85" fill="#c0183a"/>
<circle cx="190.41" cy="515.51" r="0.85" fill="#c0183a"/>
<circle cx="189.19" cy="515.7" r="0.85" fill="#c0183a"/>
<circle cx="189.34" cy="515.65" r="0.85" fill="#c0183a"/>
<circle cx="186.92" cy="515.55" r="0.85" fill="#c0183a"/>
<circle cx="189.7" cy="517.84" r="0.85" fill="#c0183a"/>
<line x1="178.7" y1="515.5" x2="197.9" y2="515.5" stroke="#000" stroke-width="1.0"/>
<line x1="188.3" y1="514.3" x2="188.3" y2="516.7" stroke="#000" stroke-width="0.9"/>
<line x1="183.8" y1="514.3" x2="192.8" y2="514.3" stroke="#000" stroke-width="0.9"/>
<line x1="183.8" y1="516.7" x2="192.8" y2="516.7" stroke="#000" stroke-width="0.9"/>
<line x1="188.3" y1="547.5" x2="188.3" y2="549.5" stroke="#000" stroke-width="0.6"/>
<circle cx="218.48" cy="543.44" r="0.85" fill="#2a4b94"/>
<circle cx="215.98" cy="542.13" r="0.85" fill="#2a4b94"/>
<circle cx="215.14" cy="542.06" r="0.85" fill="#2a4b94"/>
<circle cx="216.98" cy="543.2" r="0.85" fill="#2a4b94"/>
<circle cx="216.97" cy="543.46" r="0.85" fill="#2a4b94"/>
<circle cx="218.78" cy="544.01" r="0.85" fill="#2a4b94"/>
<circle cx="216.72" cy="540.57" r="0.85" fill="#2a4b94"/>
<line x1="207.5" y1="542.5" x2="227.5" y2="542.5" stroke="#000" stroke-width="1.0"/>
<line x1="217.5" y1="541.5" x2="217.5" y2="543.5" stroke="#000" stroke-width="0.9"/>
<line x1="212.5" y1="541.5" x2="222.5" y2="541.5" stroke="#000" stroke-width="0.9"/>
<line x1="212.5" y1="543.5" x2="222.5" y2="543.5" stroke="#000" stroke-width="0.9"/>
<line x1="217.5" y1="547.5" x2="217.5" y2="549.5" stroke="#000" stroke-width="0.6"/>
<line x1="188" y1="509.5" x2="218" y2="509.5" stroke="#333" stroke-width="1.0"/>
<text x="203" y="508.2" font-family='"Liberation Sans", sans-serif' font-size="5.0" fill="#333" text-anchor="middle">****</text>
<text x="188.3" y="557.6" font-family='"Liberation Sans", sans-serif' font-size="5.9" fill="#111" text-anchor="middle">Control</text>
<text x="219" y="557.6" font-family='"Liberation Sans", sans-serif' font-size="5.9" fill="#111" text-anchor="middle">anti-IL7R&#945;</text>
<line x1="278" y1="504.5" x2="278" y2="548" stroke="#000" stroke-width="1.0"/>
<line x1="277.5" y1="547.5" x2="336" y2="547.5" stroke="#000" stroke-width="1.0"/>
<line x1="274.6" y1="507.8" x2="278" y2="507.8" stroke="#000" stroke-width="0.8"/>
<text x="271" y="509.75" font-family='"Liberation Sans", sans-serif' font-size="5.4" fill="#111" text-anchor="end">10000</text>
<line x1="274.6" y1="517.7" x2="278" y2="517.7" stroke="#000" stroke-width="0.8"/>
<text x="271" y="519.65" font-family='"Liberation Sans", sans-serif' font-size="5.4" fill="#111" text-anchor="end">1000</text>
<line x1="274.6" y1="527.5" x2="278" y2="527.5" stroke="#000" stroke-width="0.8"/>
<text x="271" y="529.45" font-family='"Liberation Sans", sans-serif' font-size="5.4" fill="#111" text-anchor="end">100</text>
<line x1="274.6" y1="537.3" x2="278" y2="537.3" stroke="#000" stroke-width="0.8"/>
<text x="271" y="539.25" font-family='"Liberation Sans", sans-serif' font-size="5.4" fill="#111" text-anchor="end">10</text>
<line x1="274.6" y1="547.5" x2="278" y2="547.5" stroke="#000" stroke-width="0.8"/>
<text x="271" y="549.45" font-family='"Liberation Sans", sans-serif' font-size="5.4" fill="#111" text-anchor="end">1</text>
<line x1="276.7" y1="544.51" x2="278" y2="544.51" stroke="#000" stroke-width="0.45"/>
<line x1="276.7" y1="542.76" x2="278" y2="542.76" stroke="#000" stroke-width="0.45"/>
<line x1="276.7" y1="541.52" x2="278" y2="541.52" stroke="#000" stroke-width="0.45"/>
<line x1="276.7" y1="540.56" x2="278" y2="540.56" stroke="#000" stroke-width="0.45"/>
<line x1="276.7" y1="539.78" x2="278" y2="539.78" stroke="#000" stroke-width="0.45"/>
<line x1="276.7" y1="539.11" x2="278" y2="539.11" stroke="#000" stroke-width="0.45"/>
<line x1="276.7" y1="538.54" x2="278" y2="538.54" stroke="#000" stroke-width="0.45"/>
<line x1="276.7" y1="538.03" x2="278" y2="538.03" stroke="#000" stroke-width="0.45"/>
<line x1="276.7" y1="534.59" x2="278" y2="534.59" stroke="#000" stroke-width="0.45"/>
<line x1="276.7" y1="532.84" x2="278" y2="532.84" stroke="#000" stroke-width="0.45"/>
<line x1="276.7" y1="531.6" x2="278" y2="531.6" stroke="#000" stroke-width="0.45"/>
<line x1="276.7" y1="530.64" x2="278" y2="530.64" stroke="#000" stroke-width="0.45"/>
<line x1="276.7" y1="529.85" x2="278" y2="529.85" stroke="#000" stroke-width="0.45"/>
<line x1="276.7" y1="529.19" x2="278" y2="529.19" stroke="#000" stroke-width="0.45"/>
<line x1="276.7" y1="528.61" x2="278" y2="528.61" stroke="#000" stroke-width="0.45"/>
<line x1="276.7" y1="528.1" x2="278" y2="528.1" stroke="#000" stroke-width="0.45"/>
<line x1="276.7" y1="524.66" x2="278" y2="524.66" stroke="#000" stroke-width="0.45"/>
<line x1="276.7" y1="522.91" x2="278" y2="522.91" stroke="#000" stroke-width="0.45"/>
<line x1="276.7" y1="521.67" x2="278" y2="521.67" stroke="#000" stroke-width="0.45"/>
<line x1="276.7" y1="520.71" x2="278" y2="520.71" stroke="#000" stroke-width="0.45"/>
<line x1="276.7" y1="519.93" x2="278" y2="519.93" stroke="#000" stroke-width="0.45"/>
<line x1="276.7" y1="519.26" x2="278" y2="519.26" stroke="#000" stroke-width="0.45"/>
<line x1="276.7" y1="518.69" x2="278" y2="518.69" stroke="#000" stroke-width="0.45"/>
<line x1="276.7" y1="518.18" x2="278" y2="518.18" stroke="#000" stroke-width="0.45"/>
<line x1="276.7" y1="514.74" x2="278" y2="514.74" stroke="#000" stroke-width="0.45"/>
<line x1="276.7" y1="512.99" x2="278" y2="512.99" stroke="#000" stroke-width="0.45"/>
<line x1="276.7" y1="511.75" x2="278" y2="511.75" stroke="#000" stroke-width="0.45"/>
<line x1="276.7" y1="510.79" x2="278" y2="510.79" stroke="#000" stroke-width="0.45"/>
<line x1="276.7" y1="510" x2="278" y2="510" stroke="#000" stroke-width="0.45"/>
<line x1="276.7" y1="509.34" x2="278" y2="509.34" stroke="#000" stroke-width="0.45"/>
<line x1="276.7" y1="508.76" x2="278" y2="508.76" stroke="#000" stroke-width="0.45"/>
<line x1="276.7" y1="508.25" x2="278" y2="508.25" stroke="#000" stroke-width="0.45"/>
<text transform="translate(249.1,523.6) rotate(-90)" font-family='"Liberation Sans", sans-serif' font-size="6.3" fill="#1a1a1a" text-anchor="middle" textLength="52" lengthAdjust="spacingAndGlyphs">Thymic LTi/thymus</text>
<circle cx="292.97" cy="517.69" r="0.85" fill="#c0183a"/>
<circle cx="292.76" cy="517.96" r="0.85" fill="#c0183a"/>
<circle cx="293.62" cy="516.26" r="0.85" fill="#c0183a"/>
<circle cx="291.92" cy="517.4" r="0.85" fill="#c0183a"/>
<circle cx="292.4" cy="516.3" r="0.85" fill="#c0183a"/>
<circle cx="294.03" cy="517.88" r="0.85" fill="#c0183a"/>
<circle cx="291.98" cy="516.38" r="0.85" fill="#c0183a"/>
<circle cx="291.21" cy="516.34" r="0.85" fill="#c0183a"/>
<line x1="283.7" y1="517" x2="302.5" y2="517" stroke="#000" stroke-width="1.0"/>
<line x1="293.1" y1="516.2" x2="293.1" y2="517.8" stroke="#000" stroke-width="0.9"/>
<line x1="288.6" y1="516.2" x2="297.6" y2="516.2" stroke="#000" stroke-width="0.9"/>
<line x1="288.6" y1="517.8" x2="297.6" y2="517.8" stroke="#000" stroke-width="0.9"/>
<line x1="293.1" y1="547.5" x2="293.1" y2="549.5" stroke="#000" stroke-width="0.6"/>
<circle cx="320.59" cy="538.68" r="0.85" fill="#2a4b94"/>
<circle cx="321.88" cy="538.16" r="0.85" fill="#2a4b94"/>
<circle cx="323.34" cy="537.38" r="0.85" fill="#2a4b94"/>
<circle cx="322.85" cy="537.2" r="0.85" fill="#2a4b94"/>
<circle cx="321.85" cy="537.14" r="0.85" fill="#2a4b94"/>
<circle cx="321.03" cy="537.44" r="0.85" fill="#2a4b94"/>
<circle cx="323.26" cy="539.38" r="0.85" fill="#2a4b94"/>
<line x1="312.4" y1="538" x2="332" y2="538" stroke="#000" stroke-width="1.0"/>
<line x1="322.2" y1="536.8" x2="322.2" y2="539.2" stroke="#000" stroke-width="0.9"/>
<line x1="317.2" y1="536.8" x2="327.2" y2="536.8" stroke="#000" stroke-width="0.9"/>
<line x1="317.2" y1="539.2" x2="327.2" y2="539.2" stroke="#000" stroke-width="0.9"/>
<line x1="322.2" y1="547.5" x2="322.2" y2="549.5" stroke="#000" stroke-width="0.6"/>
<line x1="293.8" y1="507.5" x2="322.5" y2="507.5" stroke="#333" stroke-width="1.0"/>
<text x="308.15" y="506.2" font-family='"Liberation Sans", sans-serif' font-size="5.0" fill="#333" text-anchor="middle">****</text>
<text x="293.1" y="557.6" font-family='"Liberation Sans", sans-serif' font-size="5.9" fill="#111" text-anchor="middle">Control</text>
<text x="323.7" y="557.6" font-family='"Liberation Sans", sans-serif' font-size="5.9" fill="#111" text-anchor="middle">anti-IL7R&#945;</text>
<line x1="66.2" y1="590.4" x2="66.2" y2="631.1" stroke="#000" stroke-width="1.0"/>
<line x1="65.7" y1="630.6" x2="122.5" y2="630.6" stroke="#000" stroke-width="1.0"/>
<line x1="62.8" y1="593.3" x2="66.2" y2="593.3" stroke="#000" stroke-width="0.8"/>
<text x="59.2" y="595.25" font-family='"Liberation Sans", sans-serif' font-size="5.4" fill="#111" text-anchor="end">100000</text>
<line x1="62.8" y1="606" x2="66.2" y2="606" stroke="#000" stroke-width="0.8"/>
<text x="59.2" y="607.95" font-family='"Liberation Sans", sans-serif' font-size="5.4" fill="#111" text-anchor="end">79432.8</text>
<line x1="62.8" y1="618.3" x2="66.2" y2="618.3" stroke="#000" stroke-width="0.8"/>
<text x="59.2" y="620.25" font-family='"Liberation Sans", sans-serif' font-size="5.4" fill="#111" text-anchor="end">63095.7</text>
<line x1="62.8" y1="630.3" x2="66.2" y2="630.3" stroke="#000" stroke-width="0.8"/>
<text x="59.2" y="632.25" font-family='"Liberation Sans", sans-serif' font-size="5.4" fill="#111" text-anchor="end">50118.7</text>
<line x1="64.9" y1="594" x2="66.2" y2="594" stroke="#000" stroke-width="0.45"/>
<line x1="64.9" y1="596.3" x2="66.2" y2="596.3" stroke="#000" stroke-width="0.45"/>
<line x1="64.9" y1="598.6" x2="66.2" y2="598.6" stroke="#000" stroke-width="0.45"/>
<line x1="64.9" y1="600.9" x2="66.2" y2="600.9" stroke="#000" stroke-width="0.45"/>
<line x1="64.9" y1="603.2" x2="66.2" y2="603.2" stroke="#000" stroke-width="0.45"/>
<line x1="64.9" y1="605.5" x2="66.2" y2="605.5" stroke="#000" stroke-width="0.45"/>
<line x1="64.9" y1="607.8" x2="66.2" y2="607.8" stroke="#000" stroke-width="0.45"/>
<line x1="64.9" y1="610.1" x2="66.2" y2="610.1" stroke="#000" stroke-width="0.45"/>
<line x1="64.9" y1="612.4" x2="66.2" y2="612.4" stroke="#000" stroke-width="0.45"/>
<line x1="64.9" y1="614.7" x2="66.2" y2="614.7" stroke="#000" stroke-width="0.45"/>
<line x1="64.9" y1="617" x2="66.2" y2="617" stroke="#000" stroke-width="0.45"/>
<line x1="64.9" y1="619.3" x2="66.2" y2="619.3" stroke="#000" stroke-width="0.45"/>
<line x1="64.9" y1="621.6" x2="66.2" y2="621.6" stroke="#000" stroke-width="0.45"/>
<line x1="64.9" y1="623.9" x2="66.2" y2="623.9" stroke="#000" stroke-width="0.45"/>
<line x1="64.9" y1="626.2" x2="66.2" y2="626.2" stroke="#000" stroke-width="0.45"/>
<line x1="64.9" y1="628.5" x2="66.2" y2="628.5" stroke="#000" stroke-width="0.45"/>
<text transform="translate(32.8,610.6) rotate(-90)" font-family='"Liberation Sans", sans-serif' font-size="6.3" fill="#1a1a1a" text-anchor="middle" textLength="65.4" lengthAdjust="spacingAndGlyphs">DN thymocytes/thymus</text>
<circle cx="85.11" cy="601.32" r="0.85" fill="#c0183a"/>
<circle cx="78.85" cy="600.26" r="0.85" fill="#c0183a"/>
<circle cx="81.64" cy="606.83" r="0.85" fill="#c0183a"/>
<circle cx="85.01" cy="598.63" r="0.85" fill="#c0183a"/>
<circle cx="77.23" cy="600.29" r="0.85" fill="#c0183a"/>
<circle cx="78.04" cy="605.74" r="0.85" fill="#c0183a"/>
<circle cx="74.58" cy="601.24" r="0.85" fill="#c0183a"/>
<circle cx="80.91" cy="598.44" r="0.85" fill="#c0183a"/>
<circle cx="81.34" cy="600.65" r="0.85" fill="#c0183a"/>
<circle cx="79.46" cy="601.98" r="0.85" fill="#c0183a"/>
<circle cx="79.96" cy="608.88" r="0.85" fill="#c0183a"/>
<circle cx="85.34" cy="603.73" r="0.85" fill="#c0183a"/>
<circle cx="76.14" cy="599.9" r="0.85" fill="#c0183a"/>
<circle cx="83.23" cy="607.73" r="0.85" fill="#c0183a"/>
<circle cx="76.27" cy="600.72" r="0.85" fill="#c0183a"/>
<circle cx="85.6" cy="605.35" r="0.85" fill="#c0183a"/>
<circle cx="85.34" cy="600.08" r="0.85" fill="#c0183a"/>
<circle cx="81.17" cy="607.27" r="0.85" fill="#c0183a"/>
<circle cx="74.45" cy="602.44" r="0.85" fill="#c0183a"/>
<circle cx="84.03" cy="597.25" r="0.85" fill="#c0183a"/>
<circle cx="82.6" cy="600.59" r="0.85" fill="#c0183a"/>
<circle cx="84.13" cy="600.81" r="0.85" fill="#c0183a"/>
<circle cx="77.19" cy="603.92" r="0.85" fill="#c0183a"/>
<circle cx="82.6" cy="599.8" r="0.85" fill="#c0183a"/>
<circle cx="77.56" cy="598" r="0.85" fill="#c0183a"/>
<circle cx="85.19" cy="603.6" r="0.85" fill="#c0183a"/>
<circle cx="77.04" cy="604.09" r="0.85" fill="#c0183a"/>
<circle cx="77.24" cy="607.91" r="0.85" fill="#c0183a"/>
<line x1="70.7" y1="604.3" x2="89.5" y2="604.3" stroke="#000" stroke-width="1.0"/>
<line x1="80.1" y1="599.6" x2="80.1" y2="608.6" stroke="#000" stroke-width="0.9"/>
<line x1="75.6" y1="599.6" x2="84.6" y2="599.6" stroke="#000" stroke-width="0.9"/>
<line x1="75.6" y1="608.6" x2="84.6" y2="608.6" stroke="#000" stroke-width="0.9"/>
<line x1="80.1" y1="630.6" x2="80.1" y2="632.6" stroke="#000" stroke-width="0.6"/>
<circle cx="105.84" cy="597.68" r="0.85" fill="#2a4b94"/>
<circle cx="101.23" cy="604.69" r="0.85" fill="#2a4b94"/>
<circle cx="106.11" cy="601.46" r="0.85" fill="#2a4b94"/>
<circle cx="102.32" cy="605.89" r="0.85" fill="#2a4b94"/>
<circle cx="112.94" cy="603.83" r="0.85" fill="#2a4b94"/>
<circle cx="108.82" cy="612.58" r="0.85" fill="#2a4b94"/>
<circle cx="108.7" cy="607.17" r="0.85" fill="#2a4b94"/>
<circle cx="102.59" cy="600.87" r="0.85" fill="#2a4b94"/>
<circle cx="110.76" cy="597.74" r="0.85" fill="#2a4b94"/>
<circle cx="113.6" cy="607.29" r="0.85" fill="#2a4b94"/>
<circle cx="108.67" cy="597.9" r="0.85" fill="#2a4b94"/>
<circle cx="111.02" cy="605.04" r="0.85" fill="#2a4b94"/>
<circle cx="114.19" cy="603.35" r="0.85" fill="#2a4b94"/>
<circle cx="108.04" cy="599.57" r="0.85" fill="#2a4b94"/>
<circle cx="112.61" cy="607.73" r="0.85" fill="#2a4b94"/>
<circle cx="110.15" cy="607.73" r="0.85" fill="#2a4b94"/>
<circle cx="112.49" cy="608.48" r="0.85" fill="#2a4b94"/>
<circle cx="110.11" cy="603.72" r="0.85" fill="#2a4b94"/>
<circle cx="111.31" cy="610.3" r="0.85" fill="#2a4b94"/>
<circle cx="111.73" cy="604.4" r="0.85" fill="#2a4b94"/>
<circle cx="108.38" cy="609.59" r="0.85" fill="#2a4b94"/>
<circle cx="105.98" cy="606.43" r="0.85" fill="#2a4b94"/>
<circle cx="109.15" cy="605.99" r="0.85" fill="#2a4b94"/>
<circle cx="108.94" cy="599.68" r="0.85" fill="#2a4b94"/>
<circle cx="110.27" cy="613.34" r="0.85" fill="#2a4b94"/>
<circle cx="106.19" cy="607.62" r="0.85" fill="#2a4b94"/>
<line x1="98.2" y1="604.8" x2="117" y2="604.8" stroke="#000" stroke-width="1.0"/>
<line x1="107.6" y1="600" x2="107.6" y2="609.4" stroke="#000" stroke-width="0.9"/>
<line x1="103.1" y1="600" x2="112.1" y2="600" stroke="#000" stroke-width="0.9"/>
<line x1="103.1" y1="609.4" x2="112.1" y2="609.4" stroke="#000" stroke-width="0.9"/>
<line x1="107.6" y1="630.6" x2="107.6" y2="632.6" stroke="#000" stroke-width="0.6"/>
<line x1="81" y1="592.5" x2="107.5" y2="592.5" stroke="#333" stroke-width="1.0"/>
<text x="94.25" y="591.2" font-family='"Liberation Sans", sans-serif' font-size="4.8" fill="#333" text-anchor="middle">NS</text>
<text x="80.1" y="640.2" font-family='"Liberation Sans", sans-serif' font-size="5.9" fill="#111" text-anchor="middle">Control</text>
<text x="109.1" y="640.2" font-family='"Liberation Sans", sans-serif' font-size="5.9" fill="#111" text-anchor="middle">anti-IL7R&#945;</text>
<line x1="173.7" y1="590.4" x2="173.7" y2="631.1" stroke="#000" stroke-width="1.0"/>
<line x1="173.2" y1="630.6" x2="228.8" y2="630.6" stroke="#000" stroke-width="1.0"/>
<line x1="170.3" y1="593.3" x2="173.7" y2="593.3" stroke="#000" stroke-width="0.8"/>
<text x="166.7" y="595.25" font-family='"Liberation Sans", sans-serif' font-size="5.4" fill="#111" text-anchor="end">10<tspan font-size="3.6" dy="-1.8">7</tspan></text>
<line x1="170.3" y1="612.5" x2="173.7" y2="612.5" stroke="#000" stroke-width="0.8"/>
<text x="166.7" y="614.45" font-family='"Liberation Sans", sans-serif' font-size="5.4" fill="#111" text-anchor="end">10<tspan font-size="3.6" dy="-1.8">6</tspan></text>
<line x1="170.3" y1="630.6" x2="173.7" y2="630.6" stroke="#000" stroke-width="0.8"/>
<text x="166.7" y="632.55" font-family='"Liberation Sans", sans-serif' font-size="5.4" fill="#111" text-anchor="end">10<tspan font-size="3.6" dy="-1.8">5</tspan></text>
<line x1="172.4" y1="624.99" x2="173.7" y2="624.99" stroke="#000" stroke-width="0.45"/>
<line x1="172.4" y1="621.7" x2="173.7" y2="621.7" stroke="#000" stroke-width="0.45"/>
<line x1="172.4" y1="619.37" x2="173.7" y2="619.37" stroke="#000" stroke-width="0.45"/>
<line x1="172.4" y1="617.56" x2="173.7" y2="617.56" stroke="#000" stroke-width="0.45"/>
<line x1="172.4" y1="616.09" x2="173.7" y2="616.09" stroke="#000" stroke-width="0.45"/>
<line x1="172.4" y1="614.84" x2="173.7" y2="614.84" stroke="#000" stroke-width="0.45"/>
<line x1="172.4" y1="613.76" x2="173.7" y2="613.76" stroke="#000" stroke-width="0.45"/>
<line x1="172.4" y1="612.8" x2="173.7" y2="612.8" stroke="#000" stroke-width="0.45"/>
<line x1="172.4" y1="606.34" x2="173.7" y2="606.34" stroke="#000" stroke-width="0.45"/>
<line x1="172.4" y1="603.05" x2="173.7" y2="603.05" stroke="#000" stroke-width="0.45"/>
<line x1="172.4" y1="600.72" x2="173.7" y2="600.72" stroke="#000" stroke-width="0.45"/>
<line x1="172.4" y1="598.91" x2="173.7" y2="598.91" stroke="#000" stroke-width="0.45"/>
<line x1="172.4" y1="597.44" x2="173.7" y2="597.44" stroke="#000" stroke-width="0.45"/>
<line x1="172.4" y1="596.19" x2="173.7" y2="596.19" stroke="#000" stroke-width="0.45"/>
<line x1="172.4" y1="595.11" x2="173.7" y2="595.11" stroke="#000" stroke-width="0.45"/>
<line x1="172.4" y1="594.15" x2="173.7" y2="594.15" stroke="#000" stroke-width="0.45"/>
<text transform="translate(152.9,610.1) rotate(-90)" font-family='"Liberation Sans", sans-serif' font-size="6.3" fill="#1a1a1a" text-anchor="middle" textLength="64.4" lengthAdjust="spacingAndGlyphs">DP thymocytes/thymus</text>
<circle cx="189.28" cy="606.09" r="0.85" fill="#c0183a"/>
<circle cx="193.41" cy="604.75" r="0.85" fill="#c0183a"/>
<circle cx="190.78" cy="602.64" r="0.85" fill="#c0183a"/>
<circle cx="189.09" cy="601.98" r="0.85" fill="#c0183a"/>
<circle cx="183.93" cy="604.92" r="0.85" fill="#c0183a"/>
<circle cx="188.16" cy="605.89" r="0.85" fill="#c0183a"/>
<circle cx="194.44" cy="605.49" r="0.85" fill="#c0183a"/>
<circle cx="181.72" cy="603.86" r="0.85" fill="#c0183a"/>
<circle cx="190.67" cy="604.1" r="0.85" fill="#c0183a"/>
<circle cx="184.07" cy="603.55" r="0.85" fill="#c0183a"/>
<circle cx="189.89" cy="607.26" r="0.85" fill="#c0183a"/>
<circle cx="194.24" cy="604.76" r="0.85" fill="#c0183a"/>
<circle cx="190.55" cy="604.23" r="0.85" fill="#c0183a"/>
<circle cx="187.34" cy="603.52" r="0.85" fill="#c0183a"/>
<circle cx="193.33" cy="606.51" r="0.85" fill="#c0183a"/>
<circle cx="186.92" cy="607.04" r="0.85" fill="#c0183a"/>
<circle cx="185.42" cy="605.35" r="0.85" fill="#c0183a"/>
<circle cx="188.16" cy="603.09" r="0.85" fill="#c0183a"/>
<circle cx="192.34" cy="606.72" r="0.85" fill="#c0183a"/>
<circle cx="194.36" cy="605.96" r="0.85" fill="#c0183a"/>
<circle cx="183.72" cy="603.98" r="0.85" fill="#c0183a"/>
<circle cx="184.71" cy="604.8" r="0.85" fill="#c0183a"/>
<circle cx="187.11" cy="603.62" r="0.85" fill="#c0183a"/>
<circle cx="188.11" cy="605.54" r="0.85" fill="#c0183a"/>
<circle cx="192.96" cy="604.18" r="0.85" fill="#c0183a"/>
<circle cx="187.81" cy="608.24" r="0.85" fill="#c0183a"/>
<circle cx="183.46" cy="602.55" r="0.85" fill="#c0183a"/>
<circle cx="183.05" cy="606.98" r="0.85" fill="#c0183a"/>
<line x1="178.8" y1="605.3" x2="197.6" y2="605.3" stroke="#000" stroke-width="1.0"/>
<line x1="188.2" y1="603.9" x2="188.2" y2="606.7" stroke="#000" stroke-width="0.9"/>
<line x1="183.7" y1="603.9" x2="192.7" y2="603.9" stroke="#000" stroke-width="0.9"/>
<line x1="183.7" y1="606.7" x2="192.7" y2="606.7" stroke="#000" stroke-width="0.9"/>
<line x1="188.2" y1="630.6" x2="188.2" y2="632.6" stroke="#000" stroke-width="0.6"/>
<circle cx="215.81" cy="613.22" r="0.85" fill="#2a4b94"/>
<circle cx="217.74" cy="612.04" r="0.85" fill="#2a4b94"/>
<circle cx="213.32" cy="610.51" r="0.85" fill="#2a4b94"/>
<circle cx="210.58" cy="612.48" r="0.85" fill="#2a4b94"/>
<circle cx="213.23" cy="613.68" r="0.85" fill="#2a4b94"/>
<circle cx="211.94" cy="611.38" r="0.85" fill="#2a4b94"/>
<circle cx="214.71" cy="612.96" r="0.85" fill="#2a4b94"/>
<circle cx="216.62" cy="612.96" r="0.85" fill="#2a4b94"/>
<circle cx="218.74" cy="613.59" r="0.85" fill="#2a4b94"/>
<circle cx="212.56" cy="613.13" r="0.85" fill="#2a4b94"/>
<circle cx="212.04" cy="612.53" r="0.85" fill="#2a4b94"/>
<circle cx="215.06" cy="610.38" r="0.85" fill="#2a4b94"/>
<circle cx="212.46" cy="613.23" r="0.85" fill="#2a4b94"/>
<circle cx="213.9" cy="611.92" r="0.85" fill="#2a4b94"/>
<circle cx="215.38" cy="613.18" r="0.85" fill="#2a4b94"/>
<circle cx="217.57" cy="612.92" r="0.85" fill="#2a4b94"/>
<circle cx="217.92" cy="612.31" r="0.85" fill="#2a4b94"/>
<circle cx="212.48" cy="614.07" r="0.85" fill="#2a4b94"/>
<circle cx="216.58" cy="614.25" r="0.85" fill="#2a4b94"/>
<circle cx="214.87" cy="611.33" r="0.85" fill="#2a4b94"/>
<circle cx="218.97" cy="612.95" r="0.85" fill="#2a4b94"/>
<circle cx="215.83" cy="612.26" r="0.85" fill="#2a4b94"/>
<circle cx="217.26" cy="613.92" r="0.85" fill="#2a4b94"/>
<circle cx="214.98" cy="614.33" r="0.85" fill="#2a4b94"/>
<circle cx="212.54" cy="613.03" r="0.85" fill="#2a4b94"/>
<circle cx="217.9" cy="613.26" r="0.85" fill="#2a4b94"/>
<circle cx="217.18" cy="613" r="0.85" fill="#2a4b94"/>
<circle cx="218.37" cy="611.7" r="0.85" fill="#2a4b94"/>
<line x1="205.2" y1="612.3" x2="225.2" y2="612.3" stroke="#000" stroke-width="1.0"/>
<line x1="215.2" y1="611.2" x2="215.2" y2="613.4" stroke="#000" stroke-width="0.9"/>
<line x1="210.2" y1="611.2" x2="220.2" y2="611.2" stroke="#000" stroke-width="0.9"/>
<line x1="210.2" y1="613.4" x2="220.2" y2="613.4" stroke="#000" stroke-width="0.9"/>
<line x1="215.2" y1="630.6" x2="215.2" y2="632.6" stroke="#000" stroke-width="0.6"/>
<line x1="187" y1="597.5" x2="213.8" y2="597.5" stroke="#333" stroke-width="1.0"/>
<text x="200.4" y="596.2" font-family='"Liberation Sans", sans-serif' font-size="5.0" fill="#333" text-anchor="middle">****</text>
<text x="188.2" y="640.2" font-family='"Liberation Sans", sans-serif' font-size="5.9" fill="#111" text-anchor="middle">Control</text>
<text x="216.7" y="640.2" font-family='"Liberation Sans", sans-serif' font-size="5.9" fill="#111" text-anchor="middle">anti-IL7R&#945;</text>
<line x1="277.7" y1="590.4" x2="277.7" y2="631.1" stroke="#000" stroke-width="1.0"/>
<line x1="277.2" y1="630.6" x2="333.8" y2="630.6" stroke="#000" stroke-width="1.0"/>
<line x1="274.3" y1="593.3" x2="277.7" y2="593.3" stroke="#000" stroke-width="0.8"/>
<text x="270.7" y="595.25" font-family='"Liberation Sans", sans-serif' font-size="5.4" fill="#111" text-anchor="end">1000</text>
<line x1="274.3" y1="630.6" x2="277.7" y2="630.6" stroke="#000" stroke-width="0.8"/>
<text x="270.7" y="632.55" font-family='"Liberation Sans", sans-serif' font-size="5.4" fill="#111" text-anchor="end">100</text>
<line x1="276.4" y1="619.37" x2="277.7" y2="619.37" stroke="#000" stroke-width="0.45"/>
<line x1="276.4" y1="612.8" x2="277.7" y2="612.8" stroke="#000" stroke-width="0.45"/>
<line x1="276.4" y1="608.14" x2="277.7" y2="608.14" stroke="#000" stroke-width="0.45"/>
<line x1="276.4" y1="604.53" x2="277.7" y2="604.53" stroke="#000" stroke-width="0.45"/>
<line x1="276.4" y1="601.57" x2="277.7" y2="601.57" stroke="#000" stroke-width="0.45"/>
<line x1="276.4" y1="599.08" x2="277.7" y2="599.08" stroke="#000" stroke-width="0.45"/>
<line x1="276.4" y1="596.91" x2="277.7" y2="596.91" stroke="#000" stroke-width="0.45"/>
<line x1="276.4" y1="595.01" x2="277.7" y2="595.01" stroke="#000" stroke-width="0.45"/>
<text transform="translate(252.9,610.5) rotate(-90)" font-family='"Liberation Sans", sans-serif' font-size="6.3" fill="#1a1a1a" text-anchor="middle" textLength="63.5" lengthAdjust="spacingAndGlyphs">V&#947;5&#948;1<tspan font-size="4.2" dy="-1.8">+</tspan><tspan dy="1.8"> T cells/thymus</tspan></text>
<circle cx="295.86" cy="601.66" r="0.85" fill="#c0183a"/>
<circle cx="296.45" cy="598.41" r="0.85" fill="#c0183a"/>
<circle cx="297.67" cy="597.4" r="0.85" fill="#c0183a"/>
<circle cx="290.15" cy="600.22" r="0.85" fill="#c0183a"/>
<circle cx="291.29" cy="595.73" r="0.85" fill="#c0183a"/>
<circle cx="296.06" cy="598.47" r="0.85" fill="#c0183a"/>
<circle cx="284.41" cy="598.2" r="0.85" fill="#c0183a"/>
<circle cx="286.52" cy="599.87" r="0.85" fill="#c0183a"/>
<circle cx="287.82" cy="599.81" r="0.85" fill="#c0183a"/>
<circle cx="296" cy="597.48" r="0.85" fill="#c0183a"/>
<circle cx="287.86" cy="596.25" r="0.85" fill="#c0183a"/>
<circle cx="295.44" cy="598.32" r="0.85" fill="#c0183a"/>
<circle cx="294.14" cy="600.1" r="0.85" fill="#c0183a"/>
<circle cx="291.83" cy="601.1" r="0.85" fill="#c0183a"/>
<circle cx="287.98" cy="601.14" r="0.85" fill="#c0183a"/>
<circle cx="292.24" cy="596.83" r="0.85" fill="#c0183a"/>
<circle cx="295.04" cy="597.24" r="0.85" fill="#c0183a"/>
<circle cx="292.23" cy="598.89" r="0.85" fill="#c0183a"/>
<circle cx="292.61" cy="600.12" r="0.85" fill="#c0183a"/>
<circle cx="290.24" cy="597.36" r="0.85" fill="#c0183a"/>
<circle cx="296.6" cy="600.14" r="0.85" fill="#c0183a"/>
<circle cx="296.32" cy="596.74" r="0.85" fill="#c0183a"/>
<circle cx="292.11" cy="601.43" r="0.85" fill="#c0183a"/>
<circle cx="287.33" cy="598.57" r="0.85" fill="#c0183a"/>
<circle cx="291.95" cy="598.41" r="0.85" fill="#c0183a"/>
<circle cx="284.85" cy="598.72" r="0.85" fill="#c0183a"/>
<circle cx="292.04" cy="601.45" r="0.85" fill="#c0183a"/>
<circle cx="296.41" cy="597.8" r="0.85" fill="#c0183a"/>
<line x1="282.5" y1="598" x2="301.3" y2="598" stroke="#000" stroke-width="1.0"/>
<line x1="291.9" y1="596.6" x2="291.9" y2="599.4" stroke="#000" stroke-width="0.9"/>
<line x1="287.4" y1="596.6" x2="296.4" y2="596.6" stroke="#000" stroke-width="0.9"/>
<line x1="287.4" y1="599.4" x2="296.4" y2="599.4" stroke="#000" stroke-width="0.9"/>
<line x1="291.9" y1="630.6" x2="291.9" y2="632.6" stroke="#000" stroke-width="0.6"/>
<circle cx="319.31" cy="617.62" r="0.85" fill="#2a4b94"/>
<circle cx="315.62" cy="619.03" r="0.85" fill="#2a4b94"/>
<circle cx="318.56" cy="617.38" r="0.85" fill="#2a4b94"/>
<circle cx="321.84" cy="623.71" r="0.85" fill="#2a4b94"/>
<circle cx="319.17" cy="614.47" r="0.85" fill="#2a4b94"/>
<circle cx="318.93" cy="612.29" r="0.85" fill="#2a4b94"/>
<circle cx="322.46" cy="620.73" r="0.85" fill="#2a4b94"/>
<circle cx="317.6" cy="616.77" r="0.85" fill="#2a4b94"/>
<circle cx="320.31" cy="613.38" r="0.85" fill="#2a4b94"/>
<circle cx="317.06" cy="622.83" r="0.85" fill="#2a4b94"/>
<circle cx="315.59" cy="620.19" r="0.85" fill="#2a4b94"/>
<circle cx="317.29" cy="613.42" r="0.85" fill="#2a4b94"/>
<circle cx="317.84" cy="618.98" r="0.85" fill="#2a4b94"/>
<circle cx="320.48" cy="615.51" r="0.85" fill="#2a4b94"/>
<circle cx="320.96" cy="611.85" r="0.85" fill="#2a4b94"/>
<circle cx="319.47" cy="612.21" r="0.85" fill="#2a4b94"/>
<circle cx="316.91" cy="614.22" r="0.85" fill="#2a4b94"/>
<circle cx="318.78" cy="617.29" r="0.85" fill="#2a4b94"/>
<circle cx="318.6" cy="615.74" r="0.85" fill="#2a4b94"/>
<circle cx="316.06" cy="617.28" r="0.85" fill="#2a4b94"/>
<circle cx="320.43" cy="613.57" r="0.85" fill="#2a4b94"/>
<circle cx="319.67" cy="618.42" r="0.85" fill="#2a4b94"/>
<circle cx="320.21" cy="621.32" r="0.85" fill="#2a4b94"/>
<circle cx="317.47" cy="621.42" r="0.85" fill="#2a4b94"/>
<circle cx="321.98" cy="619.66" r="0.85" fill="#2a4b94"/>
<circle cx="318.18" cy="622.31" r="0.85" fill="#2a4b94"/>
<circle cx="323.1" cy="615.04" r="0.85" fill="#2a4b94"/>
<circle cx="323.37" cy="613.77" r="0.85" fill="#2a4b94"/>
<line x1="310" y1="614.3" x2="328.8" y2="614.3" stroke="#000" stroke-width="1.0"/>
<line x1="319.4" y1="611" x2="319.4" y2="617.5" stroke="#000" stroke-width="0.9"/>
<line x1="314.9" y1="611" x2="323.9" y2="611" stroke="#000" stroke-width="0.9"/>
<line x1="314.9" y1="617.5" x2="323.9" y2="617.5" stroke="#000" stroke-width="0.9"/>
<line x1="319.4" y1="630.6" x2="319.4" y2="632.6" stroke="#000" stroke-width="0.6"/>
<line x1="291.3" y1="591.5" x2="318.8" y2="591.5" stroke="#333" stroke-width="1.0"/>
<text x="305.05" y="590.2" font-family='"Liberation Sans", sans-serif' font-size="5.0" fill="#333" text-anchor="middle">****</text>
<text x="291.9" y="640.2" font-family='"Liberation Sans", sans-serif' font-size="5.9" fill="#111" text-anchor="middle">Control</text>
<text x="320.9" y="640.2" font-family='"Liberation Sans", sans-serif' font-size="5.9" fill="#111" text-anchor="middle">anti-IL7R&#945;</text>
<line x1="378.3" y1="590.4" x2="378.3" y2="631.1" stroke="#000" stroke-width="1.0"/>
<line x1="377.8" y1="630.6" x2="433.8" y2="630.6" stroke="#000" stroke-width="1.0"/>
<line x1="374.9" y1="593.3" x2="378.3" y2="593.3" stroke="#000" stroke-width="0.8"/>
<text x="371.3" y="595.25" font-family='"Liberation Sans", sans-serif' font-size="5.4" fill="#111" text-anchor="end">10000</text>
<line x1="374.9" y1="606" x2="378.3" y2="606" stroke="#000" stroke-width="0.8"/>
<text x="371.3" y="607.95" font-family='"Liberation Sans", sans-serif' font-size="5.4" fill="#111" text-anchor="end">1000</text>
<line x1="374.9" y1="618.3" x2="378.3" y2="618.3" stroke="#000" stroke-width="0.8"/>
<text x="371.3" y="620.25" font-family='"Liberation Sans", sans-serif' font-size="5.4" fill="#111" text-anchor="end">100</text>
<line x1="374.9" y1="630.6" x2="378.3" y2="630.6" stroke="#000" stroke-width="0.8"/>
<text x="371.3" y="632.55" font-family='"Liberation Sans", sans-serif' font-size="5.4" fill="#111" text-anchor="end">10</text>
<line x1="377" y1="626.86" x2="378.3" y2="626.86" stroke="#000" stroke-width="0.45"/>
<line x1="377" y1="624.67" x2="378.3" y2="624.67" stroke="#000" stroke-width="0.45"/>
<line x1="377" y1="623.11" x2="378.3" y2="623.11" stroke="#000" stroke-width="0.45"/>
<line x1="377" y1="621.91" x2="378.3" y2="621.91" stroke="#000" stroke-width="0.45"/>
<line x1="377" y1="620.92" x2="378.3" y2="620.92" stroke="#000" stroke-width="0.45"/>
<line x1="377" y1="620.09" x2="378.3" y2="620.09" stroke="#000" stroke-width="0.45"/>
<line x1="377" y1="619.37" x2="378.3" y2="619.37" stroke="#000" stroke-width="0.45"/>
<line x1="377" y1="618.74" x2="378.3" y2="618.74" stroke="#000" stroke-width="0.45"/>
<line x1="377" y1="614.42" x2="378.3" y2="614.42" stroke="#000" stroke-width="0.45"/>
<line x1="377" y1="612.23" x2="378.3" y2="612.23" stroke="#000" stroke-width="0.45"/>
<line x1="377" y1="610.68" x2="378.3" y2="610.68" stroke="#000" stroke-width="0.45"/>
<line x1="377" y1="609.48" x2="378.3" y2="609.48" stroke="#000" stroke-width="0.45"/>
<line x1="377" y1="608.49" x2="378.3" y2="608.49" stroke="#000" stroke-width="0.45"/>
<line x1="377" y1="607.66" x2="378.3" y2="607.66" stroke="#000" stroke-width="0.45"/>
<line x1="377" y1="606.94" x2="378.3" y2="606.94" stroke="#000" stroke-width="0.45"/>
<line x1="377" y1="606.3" x2="378.3" y2="606.3" stroke="#000" stroke-width="0.45"/>
<line x1="377" y1="601.99" x2="378.3" y2="601.99" stroke="#000" stroke-width="0.45"/>
<line x1="377" y1="599.8" x2="378.3" y2="599.8" stroke="#000" stroke-width="0.45"/>
<line x1="377" y1="598.25" x2="378.3" y2="598.25" stroke="#000" stroke-width="0.45"/>
<line x1="377" y1="597.04" x2="378.3" y2="597.04" stroke="#000" stroke-width="0.45"/>
<line x1="377" y1="596.06" x2="378.3" y2="596.06" stroke="#000" stroke-width="0.45"/>
<line x1="377" y1="595.23" x2="378.3" y2="595.23" stroke="#000" stroke-width="0.45"/>
<line x1="377" y1="594.5" x2="378.3" y2="594.5" stroke="#000" stroke-width="0.45"/>
<line x1="377" y1="593.87" x2="378.3" y2="593.87" stroke="#000" stroke-width="0.45"/>
<text transform="translate(349.1,610.5) rotate(-90)" font-family='"Liberation Sans", sans-serif' font-size="6.3" fill="#1a1a1a" text-anchor="middle" textLength="52" lengthAdjust="spacingAndGlyphs">Thymic LTi/thymus</text>
<circle cx="388.59" cy="599.56" r="0.85" fill="#c0183a"/>
<circle cx="395.56" cy="597.72" r="0.85" fill="#c0183a"/>
<circle cx="387.23" cy="597.78" r="0.85" fill="#c0183a"/>
<circle cx="391.66" cy="599.33" r="0.85" fill="#c0183a"/>
<circle cx="387.88" cy="599.17" r="0.85" fill="#c0183a"/>
<circle cx="395.38" cy="598.17" r="0.85" fill="#c0183a"/>
<circle cx="390.14" cy="596.61" r="0.85" fill="#c0183a"/>
<circle cx="398.38" cy="598.85" r="0.85" fill="#c0183a"/>
<circle cx="389.21" cy="600.05" r="0.85" fill="#c0183a"/>
<circle cx="396.72" cy="598.41" r="0.85" fill="#c0183a"/>
<circle cx="395.57" cy="598.41" r="0.85" fill="#c0183a"/>
<circle cx="387.32" cy="597.55" r="0.85" fill="#c0183a"/>
<circle cx="387.59" cy="597.21" r="0.85" fill="#c0183a"/>
<circle cx="392.83" cy="598.52" r="0.85" fill="#c0183a"/>
<circle cx="387.19" cy="598.56" r="0.85" fill="#c0183a"/>
<circle cx="388.98" cy="597.54" r="0.85" fill="#c0183a"/>
<circle cx="398.4" cy="599.36" r="0.85" fill="#c0183a"/>
<circle cx="388.52" cy="599.76" r="0.85" fill="#c0183a"/>
<circle cx="397.02" cy="596.97" r="0.85" fill="#c0183a"/>
<circle cx="396.74" cy="598.31" r="0.85" fill="#c0183a"/>
<circle cx="392.13" cy="597.98" r="0.85" fill="#c0183a"/>
<circle cx="391.49" cy="598.43" r="0.85" fill="#c0183a"/>
<circle cx="385.31" cy="598.63" r="0.85" fill="#c0183a"/>
<circle cx="397.36" cy="598.9" r="0.85" fill="#c0183a"/>
<circle cx="392.04" cy="597.52" r="0.85" fill="#c0183a"/>
<circle cx="391.34" cy="599.01" r="0.85" fill="#c0183a"/>
<circle cx="388.45" cy="597.57" r="0.85" fill="#c0183a"/>
<circle cx="384.91" cy="598.43" r="0.85" fill="#c0183a"/>
<line x1="383.8" y1="598.3" x2="401.4" y2="598.3" stroke="#000" stroke-width="1.0"/>
<line x1="392.6" y1="597.5" x2="392.6" y2="599.1" stroke="#000" stroke-width="0.9"/>
<line x1="388.1" y1="597.5" x2="397.1" y2="597.5" stroke="#000" stroke-width="0.9"/>
<line x1="388.1" y1="599.1" x2="397.1" y2="599.1" stroke="#000" stroke-width="0.9"/>
<line x1="392.6" y1="630.6" x2="392.6" y2="632.6" stroke="#000" stroke-width="0.6"/>
<circle cx="423.27" cy="624.84" r="0.85" fill="#2a4b94"/>
<circle cx="424.97" cy="624.08" r="0.85" fill="#2a4b94"/>
<circle cx="418.6" cy="623.85" r="0.85" fill="#2a4b94"/>
<circle cx="420.06" cy="623.76" r="0.85" fill="#2a4b94"/>
<circle cx="422.5" cy="625.53" r="0.85" fill="#2a4b94"/>
<circle cx="425.47" cy="622.8" r="0.85" fill="#2a4b94"/>
<circle cx="423.69" cy="624.21" r="0.85" fill="#2a4b94"/>
<circle cx="418.84" cy="624.48" r="0.85" fill="#2a4b94"/>
<circle cx="424.09" cy="624.86" r="0.85" fill="#2a4b94"/>
<circle cx="423.72" cy="624.05" r="0.85" fill="#2a4b94"/>
<circle cx="418.78" cy="624.29" r="0.85" fill="#2a4b94"/>
<circle cx="414.18" cy="624.14" r="0.85" fill="#2a4b94"/>
<circle cx="419.55" cy="623.07" r="0.85" fill="#2a4b94"/>
<circle cx="418.87" cy="621.36" r="0.85" fill="#2a4b94"/>
<circle cx="421.81" cy="623.87" r="0.85" fill="#2a4b94"/>
<circle cx="425.75" cy="622.7" r="0.85" fill="#2a4b94"/>
<circle cx="417.69" cy="623.96" r="0.85" fill="#2a4b94"/>
<circle cx="421" cy="623.94" r="0.85" fill="#2a4b94"/>
<circle cx="418.27" cy="623.58" r="0.85" fill="#2a4b94"/>
<circle cx="420.93" cy="625.96" r="0.85" fill="#2a4b94"/>
<circle cx="423.62" cy="624.07" r="0.85" fill="#2a4b94"/>
<circle cx="416.03" cy="625.5" r="0.85" fill="#2a4b94"/>
<circle cx="423.54" cy="623.81" r="0.85" fill="#2a4b94"/>
<circle cx="418.69" cy="622.79" r="0.85" fill="#2a4b94"/>
<circle cx="417.12" cy="621.79" r="0.85" fill="#2a4b94"/>
<circle cx="414.09" cy="623.17" r="0.85" fill="#2a4b94"/>
<line x1="411.2" y1="623.3" x2="428.8" y2="623.3" stroke="#000" stroke-width="1.0"/>
<line x1="420" y1="622.3" x2="420" y2="624.3" stroke="#000" stroke-width="0.9"/>
<line x1="415.5" y1="622.3" x2="424.5" y2="622.3" stroke="#000" stroke-width="0.9"/>
<line x1="415.5" y1="624.3" x2="424.5" y2="624.3" stroke="#000" stroke-width="0.9"/>
<line x1="420" y1="630.6" x2="420" y2="632.6" stroke="#000" stroke-width="0.6"/>
<line x1="392.5" y1="591.5" x2="419.5" y2="591.5" stroke="#333" stroke-width="1.0"/>
<text x="406" y="590.2" font-family='"Liberation Sans", sans-serif' font-size="5.0" fill="#333" text-anchor="middle">****</text>
<text x="392.6" y="640.2" font-family='"Liberation Sans", sans-serif' font-size="5.9" fill="#111" text-anchor="middle">Control</text>
<text x="421.5" y="640.2" font-family='"Liberation Sans", sans-serif' font-size="5.9" fill="#111" text-anchor="middle">anti-IL7R&#945;</text>
<line x1="66" y1="674.8" x2="66" y2="714.8" stroke="#000" stroke-width="1.0"/>
<line x1="65.5" y1="714.3" x2="122.5" y2="714.3" stroke="#000" stroke-width="1.0"/>
<line x1="62.6" y1="677.7" x2="66" y2="677.7" stroke="#000" stroke-width="0.8"/>
<text x="59" y="679.65" font-family='"Liberation Sans", sans-serif' font-size="5.4" fill="#111" text-anchor="end">10000</text>
<line x1="62.6" y1="696.3" x2="66" y2="696.3" stroke="#000" stroke-width="0.8"/>
<text x="59" y="698.25" font-family='"Liberation Sans", sans-serif' font-size="5.4" fill="#111" text-anchor="end">1000</text>
<line x1="62.6" y1="714.3" x2="66" y2="714.3" stroke="#000" stroke-width="0.8"/>
<text x="59" y="716.25" font-family='"Liberation Sans", sans-serif' font-size="5.4" fill="#111" text-anchor="end">100</text>
<line x1="64.7" y1="708.79" x2="66" y2="708.79" stroke="#000" stroke-width="0.45"/>
<line x1="64.7" y1="705.57" x2="66" y2="705.57" stroke="#000" stroke-width="0.45"/>
<line x1="64.7" y1="703.28" x2="66" y2="703.28" stroke="#000" stroke-width="0.45"/>
<line x1="64.7" y1="701.51" x2="66" y2="701.51" stroke="#000" stroke-width="0.45"/>
<line x1="64.7" y1="700.06" x2="66" y2="700.06" stroke="#000" stroke-width="0.45"/>
<line x1="64.7" y1="698.83" x2="66" y2="698.83" stroke="#000" stroke-width="0.45"/>
<line x1="64.7" y1="697.77" x2="66" y2="697.77" stroke="#000" stroke-width="0.45"/>
<line x1="64.7" y1="696.84" x2="66" y2="696.84" stroke="#000" stroke-width="0.45"/>
<line x1="64.7" y1="690.49" x2="66" y2="690.49" stroke="#000" stroke-width="0.45"/>
<line x1="64.7" y1="687.27" x2="66" y2="687.27" stroke="#000" stroke-width="0.45"/>
<line x1="64.7" y1="684.98" x2="66" y2="684.98" stroke="#000" stroke-width="0.45"/>
<line x1="64.7" y1="683.21" x2="66" y2="683.21" stroke="#000" stroke-width="0.45"/>
<line x1="64.7" y1="681.76" x2="66" y2="681.76" stroke="#000" stroke-width="0.45"/>
<line x1="64.7" y1="680.53" x2="66" y2="680.53" stroke="#000" stroke-width="0.45"/>
<line x1="64.7" y1="679.47" x2="66" y2="679.47" stroke="#000" stroke-width="0.45"/>
<line x1="64.7" y1="678.54" x2="66" y2="678.54" stroke="#000" stroke-width="0.45"/>
<text transform="translate(37.9,694.5) rotate(-90)" font-family='"Liberation Sans", sans-serif' font-size="6.3" fill="#1a1a1a" text-anchor="middle" textLength="59.6" lengthAdjust="spacingAndGlyphs">CD80<tspan font-size="4.2" dy="-1.8">+</tspan><tspan dy="1.8"> mTEC/thymus</tspan></text>
<circle cx="85.29" cy="692.69" r="0.85" fill="#c0183a"/>
<circle cx="79.73" cy="694" r="0.85" fill="#c0183a"/>
<circle cx="80.24" cy="696.63" r="0.85" fill="#c0183a"/>
<circle cx="80.68" cy="697.22" r="0.85" fill="#c0183a"/>
<circle cx="74.05" cy="695.25" r="0.85" fill="#c0183a"/>
<circle cx="83.74" cy="694.19" r="0.85" fill="#c0183a"/>
<circle cx="83.84" cy="691.14" r="0.85" fill="#c0183a"/>
<circle cx="79.25" cy="692.15" r="0.85" fill="#c0183a"/>
<circle cx="79.54" cy="692.21" r="0.85" fill="#c0183a"/>
<circle cx="72.63" cy="694.25" r="0.85" fill="#c0183a"/>
<circle cx="78.79" cy="696.34" r="0.85" fill="#c0183a"/>
<circle cx="81.24" cy="693.9" r="0.85" fill="#c0183a"/>
<circle cx="76.27" cy="693.25" r="0.85" fill="#c0183a"/>
<circle cx="80.53" cy="694.44" r="0.85" fill="#c0183a"/>
<circle cx="82.74" cy="692.86" r="0.85" fill="#c0183a"/>
<circle cx="72.48" cy="692.92" r="0.85" fill="#c0183a"/>
<circle cx="73.23" cy="692.66" r="0.85" fill="#c0183a"/>
<circle cx="82.79" cy="692.13" r="0.85" fill="#c0183a"/>
<circle cx="85.88" cy="693.36" r="0.85" fill="#c0183a"/>
<circle cx="73.29" cy="694.9" r="0.85" fill="#c0183a"/>
<circle cx="83.3" cy="697.03" r="0.85" fill="#c0183a"/>
<circle cx="83.94" cy="691.46" r="0.85" fill="#c0183a"/>
<circle cx="79.24" cy="693.52" r="0.85" fill="#c0183a"/>
<circle cx="77.25" cy="696.72" r="0.85" fill="#c0183a"/>
<circle cx="86.93" cy="693.89" r="0.85" fill="#c0183a"/>
<circle cx="79.14" cy="694.77" r="0.85" fill="#c0183a"/>
<circle cx="82.42" cy="696.82" r="0.85" fill="#c0183a"/>
<circle cx="73.49" cy="694.22" r="0.85" fill="#c0183a"/>
<line x1="70.2" y1="693.3" x2="89" y2="693.3" stroke="#000" stroke-width="1.0"/>
<line x1="79.6" y1="692.3" x2="79.6" y2="694.3" stroke="#000" stroke-width="0.9"/>
<line x1="75.1" y1="692.3" x2="84.1" y2="692.3" stroke="#000" stroke-width="0.9"/>
<line x1="75.1" y1="694.3" x2="84.1" y2="694.3" stroke="#000" stroke-width="0.9"/>
<line x1="79.6" y1="714.3" x2="79.6" y2="716.3" stroke="#000" stroke-width="0.6"/>
<circle cx="106.91" cy="706.49" r="0.85" fill="#2a4b94"/>
<circle cx="101.64" cy="704.66" r="0.85" fill="#2a4b94"/>
<circle cx="101.32" cy="706.11" r="0.85" fill="#2a4b94"/>
<circle cx="110.35" cy="705.78" r="0.85" fill="#2a4b94"/>
<circle cx="103.67" cy="705.83" r="0.85" fill="#2a4b94"/>
<circle cx="106.3" cy="706.32" r="0.85" fill="#2a4b94"/>
<circle cx="108.02" cy="707.23" r="0.85" fill="#2a4b94"/>
<circle cx="111" cy="709.45" r="0.85" fill="#2a4b94"/>
<circle cx="103.88" cy="707" r="0.85" fill="#2a4b94"/>
<circle cx="112.18" cy="704.07" r="0.85" fill="#2a4b94"/>
<circle cx="109.29" cy="707.27" r="0.85" fill="#2a4b94"/>
<circle cx="104.07" cy="705.44" r="0.85" fill="#2a4b94"/>
<circle cx="108.57" cy="706.76" r="0.85" fill="#2a4b94"/>
<circle cx="109.73" cy="706.36" r="0.85" fill="#2a4b94"/>
<circle cx="103.27" cy="707.1" r="0.85" fill="#2a4b94"/>
<circle cx="114.31" cy="704.91" r="0.85" fill="#2a4b94"/>
<circle cx="111.76" cy="708.18" r="0.85" fill="#2a4b94"/>
<circle cx="103.35" cy="703.34" r="0.85" fill="#2a4b94"/>
<circle cx="106.53" cy="705.02" r="0.85" fill="#2a4b94"/>
<circle cx="101.38" cy="706.49" r="0.85" fill="#2a4b94"/>
<circle cx="100.52" cy="706.16" r="0.85" fill="#2a4b94"/>
<circle cx="109.55" cy="703.84" r="0.85" fill="#2a4b94"/>
<circle cx="109.76" cy="706.19" r="0.85" fill="#2a4b94"/>
<circle cx="107.27" cy="705.5" r="0.85" fill="#2a4b94"/>
<circle cx="105.5" cy="704.7" r="0.85" fill="#2a4b94"/>
<circle cx="112.37" cy="707.06" r="0.85" fill="#2a4b94"/>
<line x1="98" y1="705.8" x2="117.2" y2="705.8" stroke="#000" stroke-width="1.0"/>
<line x1="107.6" y1="704.6" x2="107.6" y2="707" stroke="#000" stroke-width="0.9"/>
<line x1="103.1" y1="704.6" x2="112.1" y2="704.6" stroke="#000" stroke-width="0.9"/>
<line x1="103.1" y1="707" x2="112.1" y2="707" stroke="#000" stroke-width="0.9"/>
<line x1="107.6" y1="714.3" x2="107.6" y2="716.3" stroke="#000" stroke-width="0.6"/>
<line x1="80" y1="683.5" x2="106.3" y2="683.5" stroke="#333" stroke-width="1.0"/>
<text x="93.15" y="682.2" font-family='"Liberation Sans", sans-serif' font-size="5.0" fill="#333" text-anchor="middle">****</text>
<text x="79.6" y="724" font-family='"Liberation Sans", sans-serif' font-size="5.9" fill="#111" text-anchor="middle">Control</text>
<text x="109.1" y="724" font-family='"Liberation Sans", sans-serif' font-size="5.9" fill="#111" text-anchor="middle">anti-IL7R&#945;</text>
<line x1="173.8" y1="674.8" x2="173.8" y2="714.8" stroke="#000" stroke-width="1.0"/>
<line x1="173.3" y1="714.3" x2="230" y2="714.3" stroke="#000" stroke-width="1.0"/>
<line x1="170.4" y1="677.7" x2="173.8" y2="677.7" stroke="#000" stroke-width="0.8"/>
<text x="166.8" y="679.65" font-family='"Liberation Sans", sans-serif' font-size="5.4" fill="#111" text-anchor="end">100000</text>
<line x1="170.4" y1="696" x2="173.8" y2="696" stroke="#000" stroke-width="0.8"/>
<text x="166.8" y="697.95" font-family='"Liberation Sans", sans-serif' font-size="5.4" fill="#111" text-anchor="end">10000</text>
<line x1="170.4" y1="714.3" x2="173.8" y2="714.3" stroke="#000" stroke-width="0.8"/>
<text x="166.8" y="716.25" font-family='"Liberation Sans", sans-serif' font-size="5.4" fill="#111" text-anchor="end">1000</text>
<line x1="172.5" y1="708.79" x2="173.8" y2="708.79" stroke="#000" stroke-width="0.45"/>
<line x1="172.5" y1="705.57" x2="173.8" y2="705.57" stroke="#000" stroke-width="0.45"/>
<line x1="172.5" y1="703.28" x2="173.8" y2="703.28" stroke="#000" stroke-width="0.45"/>
<line x1="172.5" y1="701.51" x2="173.8" y2="701.51" stroke="#000" stroke-width="0.45"/>
<line x1="172.5" y1="700.06" x2="173.8" y2="700.06" stroke="#000" stroke-width="0.45"/>
<line x1="172.5" y1="698.83" x2="173.8" y2="698.83" stroke="#000" stroke-width="0.45"/>
<line x1="172.5" y1="697.77" x2="173.8" y2="697.77" stroke="#000" stroke-width="0.45"/>
<line x1="172.5" y1="696.84" x2="173.8" y2="696.84" stroke="#000" stroke-width="0.45"/>
<line x1="172.5" y1="690.49" x2="173.8" y2="690.49" stroke="#000" stroke-width="0.45"/>
<line x1="172.5" y1="687.27" x2="173.8" y2="687.27" stroke="#000" stroke-width="0.45"/>
<line x1="172.5" y1="684.98" x2="173.8" y2="684.98" stroke="#000" stroke-width="0.45"/>
<line x1="172.5" y1="683.21" x2="173.8" y2="683.21" stroke="#000" stroke-width="0.45"/>
<line x1="172.5" y1="681.76" x2="173.8" y2="681.76" stroke="#000" stroke-width="0.45"/>
<line x1="172.5" y1="680.53" x2="173.8" y2="680.53" stroke="#000" stroke-width="0.45"/>
<line x1="172.5" y1="679.47" x2="173.8" y2="679.47" stroke="#000" stroke-width="0.45"/>
<line x1="172.5" y1="678.54" x2="173.8" y2="678.54" stroke="#000" stroke-width="0.45"/>
<text transform="translate(142.6,694.4) rotate(-90)" font-family='"Liberation Sans", sans-serif' font-size="6.3" fill="#1a1a1a" text-anchor="middle" textLength="71" lengthAdjust="spacingAndGlyphs">CD4<tspan font-size="4.2" dy="-1.8">+</tspan><tspan dy="1.8"> thymocytes/thymus</tspan></text>
<circle cx="183.02" cy="690.66" r="0.85" fill="#c0183a"/>
<circle cx="188.58" cy="693.65" r="0.85" fill="#c0183a"/>
<circle cx="183.15" cy="693.46" r="0.85" fill="#c0183a"/>
<circle cx="183.17" cy="692.26" r="0.85" fill="#c0183a"/>
<circle cx="185.32" cy="693.65" r="0.85" fill="#c0183a"/>
<circle cx="194.3" cy="693" r="0.85" fill="#c0183a"/>
<circle cx="187.71" cy="691.92" r="0.85" fill="#c0183a"/>
<circle cx="192.78" cy="693.36" r="0.85" fill="#c0183a"/>
<circle cx="184.93" cy="692.27" r="0.85" fill="#c0183a"/>
<circle cx="191.14" cy="690.82" r="0.85" fill="#c0183a"/>
<circle cx="182.59" cy="690.69" r="0.85" fill="#c0183a"/>
<circle cx="186.76" cy="692.7" r="0.85" fill="#c0183a"/>
<circle cx="184.08" cy="693.12" r="0.85" fill="#c0183a"/>
<circle cx="181.36" cy="693.49" r="0.85" fill="#c0183a"/>
<circle cx="189.13" cy="691.46" r="0.85" fill="#c0183a"/>
<circle cx="184.91" cy="690.71" r="0.85" fill="#c0183a"/>
<circle cx="189.72" cy="693.28" r="0.85" fill="#c0183a"/>
<circle cx="181.95" cy="691.76" r="0.85" fill="#c0183a"/>
<circle cx="190.4" cy="692.04" r="0.85" fill="#c0183a"/>
<circle cx="181.2" cy="692.07" r="0.85" fill="#c0183a"/>
<circle cx="187.99" cy="693.21" r="0.85" fill="#c0183a"/>
<circle cx="191.69" cy="694.29" r="0.85" fill="#c0183a"/>
<circle cx="186.33" cy="694.25" r="0.85" fill="#c0183a"/>
<circle cx="184.48" cy="693.62" r="0.85" fill="#c0183a"/>
<circle cx="185.54" cy="691.89" r="0.85" fill="#c0183a"/>
<circle cx="191.04" cy="694.42" r="0.85" fill="#c0183a"/>
<circle cx="185.11" cy="691.61" r="0.85" fill="#c0183a"/>
<circle cx="184.93" cy="692.07" r="0.85" fill="#c0183a"/>
<line x1="177.6" y1="692.5" x2="196.4" y2="692.5" stroke="#000" stroke-width="1.0"/>
<line x1="187" y1="691.3" x2="187" y2="693.7" stroke="#000" stroke-width="0.9"/>
<line x1="182.5" y1="691.3" x2="191.5" y2="691.3" stroke="#000" stroke-width="0.9"/>
<line x1="182.5" y1="693.7" x2="191.5" y2="693.7" stroke="#000" stroke-width="0.9"/>
<line x1="187" y1="714.3" x2="187" y2="716.3" stroke="#000" stroke-width="0.6"/>
<circle cx="213.86" cy="703.06" r="0.85" fill="#2a4b94"/>
<circle cx="216.42" cy="702" r="0.85" fill="#2a4b94"/>
<circle cx="216.13" cy="704.95" r="0.85" fill="#2a4b94"/>
<circle cx="216.37" cy="705.21" r="0.85" fill="#2a4b94"/>
<circle cx="218.85" cy="701.88" r="0.85" fill="#2a4b94"/>
<circle cx="213.09" cy="705.55" r="0.85" fill="#2a4b94"/>
<circle cx="215.74" cy="700.34" r="0.85" fill="#2a4b94"/>
<circle cx="216.69" cy="703.68" r="0.85" fill="#2a4b94"/>
<circle cx="216.99" cy="706.46" r="0.85" fill="#2a4b94"/>
<circle cx="209.99" cy="705" r="0.85" fill="#2a4b94"/>
<circle cx="220.24" cy="703.69" r="0.85" fill="#2a4b94"/>
<circle cx="211.11" cy="701.14" r="0.85" fill="#2a4b94"/>
<circle cx="221.13" cy="704.6" r="0.85" fill="#2a4b94"/>
<circle cx="217.04" cy="701.15" r="0.85" fill="#2a4b94"/>
<circle cx="218.55" cy="701.65" r="0.85" fill="#2a4b94"/>
<circle cx="211.79" cy="704.15" r="0.85" fill="#2a4b94"/>
<circle cx="219.12" cy="702.16" r="0.85" fill="#2a4b94"/>
<circle cx="219.94" cy="703.59" r="0.85" fill="#2a4b94"/>
<circle cx="213.09" cy="703.05" r="0.85" fill="#2a4b94"/>
<circle cx="217.18" cy="706.49" r="0.85" fill="#2a4b94"/>
<circle cx="216.22" cy="703.47" r="0.85" fill="#2a4b94"/>
<circle cx="218.53" cy="704.51" r="0.85" fill="#2a4b94"/>
<circle cx="214.64" cy="705.85" r="0.85" fill="#2a4b94"/>
<circle cx="217.69" cy="705.14" r="0.85" fill="#2a4b94"/>
<circle cx="219.28" cy="705.33" r="0.85" fill="#2a4b94"/>
<circle cx="220.41" cy="705.19" r="0.85" fill="#2a4b94"/>
<line x1="206.2" y1="703.3" x2="225" y2="703.3" stroke="#000" stroke-width="1.0"/>
<line x1="215.6" y1="702" x2="215.6" y2="704.6" stroke="#000" stroke-width="0.9"/>
<line x1="211.1" y1="702" x2="220.1" y2="702" stroke="#000" stroke-width="0.9"/>
<line x1="211.1" y1="704.6" x2="220.1" y2="704.6" stroke="#000" stroke-width="0.9"/>
<line x1="215.6" y1="714.3" x2="215.6" y2="716.3" stroke="#000" stroke-width="0.6"/>
<line x1="188.8" y1="683.5" x2="215" y2="683.5" stroke="#333" stroke-width="1.0"/>
<text x="201.9" y="682.2" font-family='"Liberation Sans", sans-serif' font-size="5.0" fill="#333" text-anchor="middle">****</text>
<text x="187" y="724" font-family='"Liberation Sans", sans-serif' font-size="5.9" fill="#111" text-anchor="middle">Control</text>
<text x="217.1" y="724" font-family='"Liberation Sans", sans-serif' font-size="5.9" fill="#111" text-anchor="middle">anti-IL7R&#945;</text>
<rect x="0.5" y="0.5" width="519" height="738" fill="none" stroke="#000" stroke-width="1.2"/>
</svg></body></html>
